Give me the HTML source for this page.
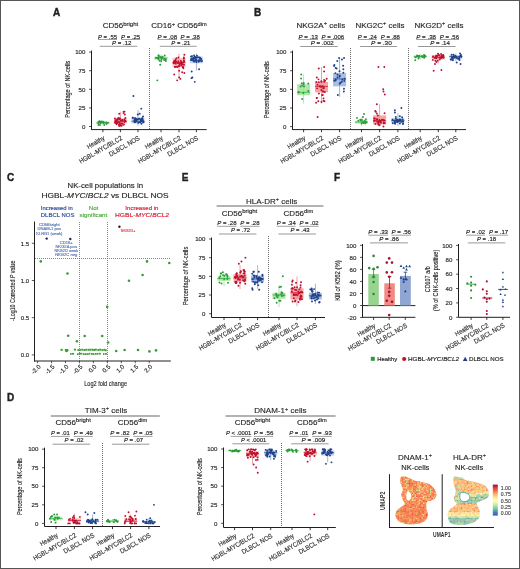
<!DOCTYPE html><html><head><meta charset="utf-8"><style>html,body{margin:0;padding:0;background:#fff;width:520px;height:569px;overflow:hidden;}svg{display:block;will-change:transform;}</style></head><body><svg width="520" height="569" viewBox="0 0 520 569" font-family='"Liberation Sans", sans-serif' fill="#231f20">
<rect x="0" y="0" width="520" height="569" fill="#ffffff"/>
<text x="53.10" y="15.60" font-size="10" font-weight="bold"  stroke="#231f20" stroke-width="0.4">A</text>
<text x="102.70" y="28.30" font-size="8" stroke="#231f20" stroke-width="0.14">CD56<tspan font-size="5.6" dy="-2.75" textLength="15.0" lengthAdjust="spacingAndGlyphs">bright</tspan></text>
<text x="151.20" y="28.30" font-size="8" stroke="#231f20" stroke-width="0.14"><tspan>CD16</tspan><tspan font-size="5.6" dy="-2.75">+</tspan><tspan font-size="8" dy="2.75"> CD56</tspan><tspan font-size="5.6" dy="-2.75" textLength="9.2" lengthAdjust="spacingAndGlyphs">dim</tspan></text>
<text x="98.00" y="38.50" font-size="6.0" textLength="19.00" lengthAdjust="spacingAndGlyphs" stroke="#231f20" stroke-width="0.16"><tspan font-style="italic">P</tspan> = .55</text>
<line x1="98.00" y1="39.50" x2="117.00" y2="39.50" stroke="#444" stroke-width="0.5"/>
<text x="121.10" y="38.50" font-size="6.0" textLength="19.10" lengthAdjust="spacingAndGlyphs" stroke="#231f20" stroke-width="0.16"><tspan font-style="italic">P</tspan> = .25</text>
<line x1="121.10" y1="39.50" x2="140.20" y2="39.50" stroke="#444" stroke-width="0.5"/>
<text x="111.90" y="44.80" font-size="6.0" textLength="19.60" lengthAdjust="spacingAndGlyphs" stroke="#231f20" stroke-width="0.16"><tspan font-style="italic">P</tspan> = .12</text>
<line x1="99.80" y1="46.30" x2="137.30" y2="46.30" stroke="#777" stroke-width="0.75"/>
<text x="157.50" y="38.50" font-size="6.0" textLength="19.60" lengthAdjust="spacingAndGlyphs" stroke="#231f20" stroke-width="0.16"><tspan font-style="italic">P</tspan> = .08</text>
<line x1="157.50" y1="39.50" x2="177.10" y2="39.50" stroke="#444" stroke-width="0.5"/>
<text x="180.60" y="38.50" font-size="6.0" textLength="19.20" lengthAdjust="spacingAndGlyphs" stroke="#231f20" stroke-width="0.16"><tspan font-style="italic">P</tspan> = .38</text>
<line x1="180.60" y1="39.50" x2="199.80" y2="39.50" stroke="#444" stroke-width="0.5"/>
<text x="171.30" y="44.80" font-size="6.0" textLength="19.10" lengthAdjust="spacingAndGlyphs" stroke="#231f20" stroke-width="0.16"><tspan font-style="italic">P</tspan> = .21</text>
<line x1="159.80" y1="46.30" x2="196.70" y2="46.30" stroke="#777" stroke-width="0.75"/>
<line x1="91.50" y1="50.60" x2="91.50" y2="130.00" stroke="#231f20" stroke-width="1.0"/>
<line x1="89.10" y1="52.10" x2="91.50" y2="52.10" stroke="#231f20" stroke-width="0.8"/>
<text x="85.30" y="54.30" font-size="6.1" text-anchor="end" fill="#2a2a2a"  stroke="#2a2a2a" stroke-width="0.16">100</text>
<line x1="89.10" y1="70.70" x2="91.50" y2="70.70" stroke="#231f20" stroke-width="0.8"/>
<text x="85.30" y="72.90" font-size="6.1" text-anchor="end" fill="#2a2a2a"  stroke="#2a2a2a" stroke-width="0.16">75</text>
<line x1="89.10" y1="89.30" x2="91.50" y2="89.30" stroke="#231f20" stroke-width="0.8"/>
<text x="85.30" y="91.50" font-size="6.1" text-anchor="end" fill="#2a2a2a"  stroke="#2a2a2a" stroke-width="0.16">50</text>
<line x1="89.10" y1="107.90" x2="91.50" y2="107.90" stroke="#231f20" stroke-width="0.8"/>
<text x="85.30" y="110.10" font-size="6.1" text-anchor="end" fill="#2a2a2a"  stroke="#2a2a2a" stroke-width="0.16">25</text>
<line x1="89.10" y1="126.50" x2="91.50" y2="126.50" stroke="#231f20" stroke-width="0.8"/>
<text x="85.30" y="128.70" font-size="6.1" text-anchor="end" fill="#2a2a2a"  stroke="#2a2a2a" stroke-width="0.16">0</text>
<text x="0" y="0" font-size="6.8" text-anchor="middle" textLength="57.00" lengthAdjust="spacingAndGlyphs" transform="translate(69.60,89.30) rotate(-90)"  stroke="#231f20" stroke-width="0.14">Percentage of NK-cells</text>
<line x1="91.50" y1="129.60" x2="206.70" y2="129.60" stroke="#231f20" stroke-width="1.0"/>
<line x1="102.90" y1="129.60" x2="102.90" y2="132.20" stroke="#231f20" stroke-width="0.9"/>
<line x1="120.40" y1="129.60" x2="120.40" y2="132.20" stroke="#231f20" stroke-width="0.9"/>
<line x1="138.00" y1="129.60" x2="138.00" y2="132.20" stroke="#231f20" stroke-width="0.9"/>
<line x1="161.00" y1="129.60" x2="161.00" y2="132.20" stroke="#231f20" stroke-width="0.9"/>
<line x1="179.00" y1="129.60" x2="179.00" y2="132.20" stroke="#231f20" stroke-width="0.9"/>
<line x1="196.40" y1="129.60" x2="196.40" y2="132.20" stroke="#231f20" stroke-width="0.9"/>
<line x1="149.50" y1="48.00" x2="149.50" y2="130.00" stroke="#444" stroke-width="0.8" stroke-dasharray="1,1"/>
<text x="0" y="0" font-size="6.7" text-anchor="end" fill="#2a2a2a" textLength="19.50" lengthAdjust="spacingAndGlyphs" transform="translate(105.30,139.40) rotate(-30)" stroke="#2a2a2a" stroke-width="0.14">Healthy</text>
<text x="0" y="0" font-size="6.7" text-anchor="end" fill="#2a2a2a" textLength="48.50" lengthAdjust="spacingAndGlyphs" transform="translate(122.80,139.40) rotate(-30)" stroke="#2a2a2a" stroke-width="0.14">HGBL-MYC/BLC2</text>
<text x="0" y="0" font-size="6.7" text-anchor="end" fill="#2a2a2a" textLength="34.50" lengthAdjust="spacingAndGlyphs" transform="translate(140.40,139.40) rotate(-30)" stroke="#2a2a2a" stroke-width="0.14">DLBCL NOS</text>
<text x="0" y="0" font-size="6.7" text-anchor="end" fill="#2a2a2a" textLength="19.50" lengthAdjust="spacingAndGlyphs" transform="translate(163.40,139.40) rotate(-30)" stroke="#2a2a2a" stroke-width="0.14">Healthy</text>
<text x="0" y="0" font-size="6.7" text-anchor="end" fill="#2a2a2a" textLength="48.50" lengthAdjust="spacingAndGlyphs" transform="translate(181.40,139.40) rotate(-30)" stroke="#2a2a2a" stroke-width="0.14">HGBL-MYC/BLC2</text>
<text x="0" y="0" font-size="6.7" text-anchor="end" fill="#2a2a2a" textLength="34.50" lengthAdjust="spacingAndGlyphs" transform="translate(198.80,139.40) rotate(-30)" stroke="#2a2a2a" stroke-width="0.14">DLBCL NOS</text>
<line x1="102.90" y1="119.80" x2="102.90" y2="125.01" stroke="#3cc04c" stroke-width="0.55" stroke-opacity="0.8"/>
<rect x="96.40" y="121.29" width="13.00" height="2.60" fill="#98dc8e" fill-opacity="0.5"/>
<line x1="96.40" y1="122.78" x2="109.40" y2="122.78" stroke="#3cc04c" stroke-width="0.9"/>
<circle cx="103.67" cy="123.12" r="0.98" fill="#2c9a3c"/>
<circle cx="101.87" cy="122.10" r="0.98" fill="#2c9a3c"/>
<circle cx="107.66" cy="123.08" r="0.98" fill="#2c9a3c"/>
<circle cx="98.37" cy="123.20" r="0.98" fill="#2c9a3c"/>
<circle cx="106.48" cy="124.03" r="0.98" fill="#2c9a3c"/>
<circle cx="100.80" cy="123.07" r="0.98" fill="#2c9a3c"/>
<circle cx="99.34" cy="121.29" r="0.98" fill="#2c9a3c"/>
<circle cx="99.08" cy="122.21" r="0.98" fill="#2c9a3c"/>
<circle cx="100.98" cy="121.39" r="0.98" fill="#2c9a3c"/>
<circle cx="106.06" cy="122.45" r="0.98" fill="#2c9a3c"/>
<circle cx="99.71" cy="122.25" r="0.98" fill="#2c9a3c"/>
<circle cx="103.72" cy="122.53" r="0.98" fill="#2c9a3c"/>
<circle cx="104.29" cy="125.01" r="0.98" fill="#2c9a3c"/>
<circle cx="101.62" cy="121.63" r="0.98" fill="#2c9a3c"/>
<circle cx="103.38" cy="122.10" r="0.98" fill="#2c9a3c"/>
<circle cx="98.53" cy="122.11" r="0.98" fill="#2c9a3c"/>
<circle cx="98.50" cy="125.01" r="0.98" fill="#2c9a3c"/>
<circle cx="99.96" cy="125.01" r="0.98" fill="#2c9a3c"/>
<line x1="120.40" y1="111.62" x2="120.40" y2="125.76" stroke="#d7263d" stroke-width="0.55" stroke-opacity="0.8"/>
<rect x="113.90" y="118.32" width="13.00" height="5.21" fill="#f58583" fill-opacity="0.5"/>
<line x1="113.90" y1="121.29" x2="126.90" y2="121.29" stroke="#d7263d" stroke-width="0.9"/>
<circle cx="119.14" cy="122.29" r="0.98" fill="#bd1230"/>
<circle cx="122.26" cy="123.43" r="0.98" fill="#bd1230"/>
<circle cx="115.15" cy="122.45" r="0.98" fill="#bd1230"/>
<circle cx="119.98" cy="118.57" r="0.98" fill="#bd1230"/>
<circle cx="116.75" cy="123.10" r="0.98" fill="#bd1230"/>
<circle cx="116.19" cy="120.75" r="0.98" fill="#bd1230"/>
<circle cx="115.55" cy="120.34" r="0.98" fill="#bd1230"/>
<circle cx="123.35" cy="124.62" r="0.98" fill="#bd1230"/>
<circle cx="116.32" cy="121.18" r="0.98" fill="#bd1230"/>
<circle cx="117.62" cy="118.38" r="0.98" fill="#bd1230"/>
<circle cx="119.20" cy="125.76" r="0.98" fill="#bd1230"/>
<circle cx="124.49" cy="122.01" r="0.98" fill="#bd1230"/>
<circle cx="115.79" cy="121.53" r="0.98" fill="#bd1230"/>
<circle cx="119.84" cy="123.12" r="0.98" fill="#bd1230"/>
<circle cx="120.94" cy="120.18" r="0.98" fill="#bd1230"/>
<circle cx="124.62" cy="121.43" r="0.98" fill="#bd1230"/>
<circle cx="123.91" cy="124.56" r="0.98" fill="#bd1230"/>
<circle cx="124.40" cy="119.44" r="0.98" fill="#bd1230"/>
<circle cx="117.96" cy="119.80" r="0.98" fill="#bd1230"/>
<circle cx="119.47" cy="119.18" r="0.98" fill="#bd1230"/>
<circle cx="118.85" cy="118.08" r="0.98" fill="#bd1230"/>
<circle cx="124.63" cy="120.48" r="0.98" fill="#bd1230"/>
<circle cx="125.44" cy="121.03" r="0.98" fill="#bd1230"/>
<circle cx="116.56" cy="124.19" r="0.98" fill="#bd1230"/>
<circle cx="116.84" cy="119.92" r="0.98" fill="#bd1230"/>
<circle cx="117.45" cy="122.66" r="0.98" fill="#bd1230"/>
<circle cx="117.47" cy="122.30" r="0.98" fill="#bd1230"/>
<circle cx="120.23" cy="124.12" r="0.98" fill="#bd1230"/>
<circle cx="121.38" cy="123.45" r="0.98" fill="#bd1230"/>
<circle cx="117.79" cy="122.48" r="0.98" fill="#bd1230"/>
<circle cx="114.95" cy="118.42" r="0.98" fill="#bd1230"/>
<circle cx="119.51" cy="125.76" r="0.98" fill="#bd1230"/>
<circle cx="118.96" cy="124.55" r="0.98" fill="#bd1230"/>
<circle cx="121.13" cy="120.76" r="0.98" fill="#bd1230"/>
<circle cx="125.38" cy="118.07" r="0.98" fill="#bd1230"/>
<circle cx="122.50" cy="120.00" r="0.98" fill="#bd1230"/>
<circle cx="120.57" cy="125.53" r="0.98" fill="#bd1230"/>
<circle cx="121.69" cy="125.76" r="0.98" fill="#bd1230"/>
<circle cx="122.34" cy="120.49" r="0.98" fill="#bd1230"/>
<circle cx="115.49" cy="122.94" r="0.98" fill="#bd1230"/>
<circle cx="124.79" cy="114.60" r="0.98" fill="#bd1230"/>
<circle cx="123.48" cy="113.11" r="0.98" fill="#bd1230"/>
<circle cx="124.52" cy="111.62" r="0.98" fill="#bd1230"/>
<circle cx="123.68" cy="111.62" r="0.98" fill="#bd1230"/>
<circle cx="119.22" cy="113.85" r="0.98" fill="#bd1230"/>
<line x1="138.00" y1="110.13" x2="138.00" y2="125.76" stroke="#2b5aa6" stroke-width="0.55" stroke-opacity="0.8"/>
<rect x="131.50" y="117.57" width="13.00" height="5.95" fill="#8ea8dc" fill-opacity="0.5"/>
<line x1="131.50" y1="121.29" x2="144.50" y2="121.29" stroke="#2b5aa6" stroke-width="0.9"/>
<circle cx="143.26" cy="122.27" r="0.98" fill="#1f4289"/>
<circle cx="142.00" cy="120.57" r="0.98" fill="#1f4289"/>
<circle cx="140.16" cy="121.91" r="0.98" fill="#1f4289"/>
<circle cx="135.37" cy="121.99" r="0.98" fill="#1f4289"/>
<circle cx="136.53" cy="119.67" r="0.98" fill="#1f4289"/>
<circle cx="134.34" cy="120.56" r="0.98" fill="#1f4289"/>
<circle cx="140.99" cy="120.05" r="0.98" fill="#1f4289"/>
<circle cx="138.36" cy="119.27" r="0.98" fill="#1f4289"/>
<circle cx="141.07" cy="121.24" r="0.98" fill="#1f4289"/>
<circle cx="136.13" cy="121.27" r="0.98" fill="#1f4289"/>
<circle cx="134.95" cy="120.59" r="0.98" fill="#1f4289"/>
<circle cx="141.43" cy="120.31" r="0.98" fill="#1f4289"/>
<circle cx="143.33" cy="121.68" r="0.98" fill="#1f4289"/>
<circle cx="141.88" cy="120.84" r="0.98" fill="#1f4289"/>
<circle cx="141.37" cy="118.76" r="0.98" fill="#1f4289"/>
<circle cx="141.50" cy="123.84" r="0.98" fill="#1f4289"/>
<circle cx="140.64" cy="120.11" r="0.98" fill="#1f4289"/>
<circle cx="134.99" cy="119.70" r="0.98" fill="#1f4289"/>
<circle cx="138.19" cy="122.72" r="0.98" fill="#1f4289"/>
<circle cx="136.41" cy="119.26" r="0.98" fill="#1f4289"/>
<circle cx="132.82" cy="117.66" r="0.98" fill="#1f4289"/>
<circle cx="132.81" cy="117.76" r="0.98" fill="#1f4289"/>
<circle cx="135.57" cy="118.38" r="0.98" fill="#1f4289"/>
<circle cx="135.35" cy="121.42" r="0.98" fill="#1f4289"/>
<circle cx="140.12" cy="122.39" r="0.98" fill="#1f4289"/>
<circle cx="143.02" cy="121.18" r="0.98" fill="#1f4289"/>
<circle cx="137.42" cy="119.38" r="0.98" fill="#1f4289"/>
<circle cx="142.81" cy="119.86" r="0.98" fill="#1f4289"/>
<circle cx="143.37" cy="121.75" r="0.98" fill="#1f4289"/>
<circle cx="143.01" cy="116.42" r="0.98" fill="#1f4289"/>
<circle cx="136.51" cy="120.99" r="0.98" fill="#1f4289"/>
<circle cx="134.93" cy="120.81" r="0.98" fill="#1f4289"/>
<circle cx="135.00" cy="118.25" r="0.98" fill="#1f4289"/>
<circle cx="134.66" cy="122.26" r="0.98" fill="#1f4289"/>
<circle cx="134.75" cy="119.32" r="0.98" fill="#1f4289"/>
<circle cx="139.36" cy="118.70" r="0.98" fill="#1f4289"/>
<circle cx="142.40" cy="118.15" r="0.98" fill="#1f4289"/>
<circle cx="141.74" cy="120.75" r="0.98" fill="#1f4289"/>
<circle cx="137.77" cy="114.60" r="0.98" fill="#1f4289"/>
<circle cx="139.68" cy="113.85" r="0.98" fill="#1f4289"/>
<circle cx="141.30" cy="108.64" r="0.98" fill="#1f4289"/>
<circle cx="133.43" cy="96.00" r="0.98" fill="#1f4289"/>
<line x1="161.00" y1="54.33" x2="161.00" y2="63.26" stroke="#3cc04c" stroke-width="0.55" stroke-opacity="0.8"/>
<rect x="154.50" y="56.56" width="13.00" height="3.72" fill="#98dc8e" fill-opacity="0.5"/>
<line x1="154.50" y1="58.05" x2="167.50" y2="58.05" stroke="#3cc04c" stroke-width="0.9"/>
<circle cx="164.27" cy="59.96" r="0.98" fill="#2c9a3c"/>
<circle cx="165.80" cy="61.03" r="0.98" fill="#2c9a3c"/>
<circle cx="162.57" cy="57.50" r="0.98" fill="#2c9a3c"/>
<circle cx="159.50" cy="60.72" r="0.98" fill="#2c9a3c"/>
<circle cx="161.49" cy="59.07" r="0.98" fill="#2c9a3c"/>
<circle cx="157.31" cy="57.91" r="0.98" fill="#2c9a3c"/>
<circle cx="156.14" cy="57.69" r="0.98" fill="#2c9a3c"/>
<circle cx="165.71" cy="59.48" r="0.98" fill="#2c9a3c"/>
<circle cx="162.50" cy="56.68" r="0.98" fill="#2c9a3c"/>
<circle cx="161.27" cy="61.03" r="0.98" fill="#2c9a3c"/>
<circle cx="165.34" cy="59.37" r="0.98" fill="#2c9a3c"/>
<circle cx="160.34" cy="57.04" r="0.98" fill="#2c9a3c"/>
<circle cx="164.72" cy="55.57" r="0.98" fill="#2c9a3c"/>
<circle cx="164.26" cy="58.91" r="0.98" fill="#2c9a3c"/>
<circle cx="158.11" cy="57.64" r="0.98" fill="#2c9a3c"/>
<circle cx="158.52" cy="57.30" r="0.98" fill="#2c9a3c"/>
<circle cx="158.93" cy="55.99" r="0.98" fill="#2c9a3c"/>
<circle cx="158.41" cy="55.16" r="0.98" fill="#2c9a3c"/>
<circle cx="161.86" cy="57.73" r="0.98" fill="#2c9a3c"/>
<circle cx="158.59" cy="58.91" r="0.98" fill="#2c9a3c"/>
<circle cx="160.19" cy="64.75" r="0.98" fill="#2c9a3c"/>
<circle cx="157.31" cy="80.37" r="0.98" fill="#2c9a3c"/>
<line x1="179.00" y1="53.59" x2="179.00" y2="77.40" stroke="#d7263d" stroke-width="0.55" stroke-opacity="0.8"/>
<rect x="172.50" y="58.05" width="13.00" height="8.93" fill="#f58583" fill-opacity="0.5"/>
<line x1="172.50" y1="62.52" x2="185.50" y2="62.52" stroke="#d7263d" stroke-width="0.9"/>
<circle cx="183.86" cy="58.54" r="0.98" fill="#bd1230"/>
<circle cx="181.19" cy="63.82" r="0.98" fill="#bd1230"/>
<circle cx="183.14" cy="67.00" r="0.98" fill="#bd1230"/>
<circle cx="183.86" cy="60.36" r="0.98" fill="#bd1230"/>
<circle cx="176.36" cy="58.25" r="0.98" fill="#bd1230"/>
<circle cx="179.65" cy="64.19" r="0.98" fill="#bd1230"/>
<circle cx="183.88" cy="57.57" r="0.98" fill="#bd1230"/>
<circle cx="182.74" cy="64.16" r="0.98" fill="#bd1230"/>
<circle cx="175.01" cy="66.66" r="0.98" fill="#bd1230"/>
<circle cx="174.84" cy="62.76" r="0.98" fill="#bd1230"/>
<circle cx="178.36" cy="57.40" r="0.98" fill="#bd1230"/>
<circle cx="174.30" cy="61.26" r="0.98" fill="#bd1230"/>
<circle cx="176.15" cy="61.62" r="0.98" fill="#bd1230"/>
<circle cx="174.30" cy="61.44" r="0.98" fill="#bd1230"/>
<circle cx="180.86" cy="61.01" r="0.98" fill="#bd1230"/>
<circle cx="182.12" cy="64.17" r="0.98" fill="#bd1230"/>
<circle cx="183.37" cy="68.26" r="0.98" fill="#bd1230"/>
<circle cx="175.20" cy="60.68" r="0.98" fill="#bd1230"/>
<circle cx="181.38" cy="65.18" r="0.98" fill="#bd1230"/>
<circle cx="180.76" cy="63.03" r="0.98" fill="#bd1230"/>
<circle cx="175.07" cy="66.95" r="0.98" fill="#bd1230"/>
<circle cx="183.21" cy="62.37" r="0.98" fill="#bd1230"/>
<circle cx="184.14" cy="61.36" r="0.98" fill="#bd1230"/>
<circle cx="175.92" cy="63.67" r="0.98" fill="#bd1230"/>
<circle cx="183.98" cy="64.65" r="0.98" fill="#bd1230"/>
<circle cx="177.88" cy="62.92" r="0.98" fill="#bd1230"/>
<circle cx="178.86" cy="62.96" r="0.98" fill="#bd1230"/>
<circle cx="184.39" cy="54.83" r="0.98" fill="#bd1230"/>
<circle cx="182.66" cy="67.02" r="0.98" fill="#bd1230"/>
<circle cx="175.28" cy="62.03" r="0.98" fill="#bd1230"/>
<circle cx="178.25" cy="61.21" r="0.98" fill="#bd1230"/>
<circle cx="179.17" cy="70.70" r="0.98" fill="#bd1230"/>
<circle cx="177.23" cy="67.05" r="0.98" fill="#bd1230"/>
<circle cx="175.65" cy="59.81" r="0.98" fill="#bd1230"/>
<circle cx="177.00" cy="66.67" r="0.98" fill="#bd1230"/>
<circle cx="181.44" cy="61.94" r="0.98" fill="#bd1230"/>
<circle cx="173.71" cy="63.35" r="0.98" fill="#bd1230"/>
<circle cx="179.59" cy="65.97" r="0.98" fill="#bd1230"/>
<circle cx="178.35" cy="66.34" r="0.98" fill="#bd1230"/>
<circle cx="173.70" cy="62.74" r="0.98" fill="#bd1230"/>
<circle cx="177.15" cy="80.37" r="0.98" fill="#bd1230"/>
<circle cx="180.36" cy="78.88" r="0.98" fill="#bd1230"/>
<circle cx="179.13" cy="77.40" r="0.98" fill="#bd1230"/>
<circle cx="174.21" cy="74.42" r="0.98" fill="#bd1230"/>
<circle cx="184.34" cy="72.93" r="0.98" fill="#bd1230"/>
<circle cx="182.17" cy="72.19" r="0.98" fill="#bd1230"/>
<line x1="196.40" y1="53.59" x2="196.40" y2="70.70" stroke="#2b5aa6" stroke-width="0.55" stroke-opacity="0.8"/>
<rect x="189.90" y="56.56" width="13.00" height="6.70" fill="#8ea8dc" fill-opacity="0.5"/>
<line x1="189.90" y1="60.28" x2="202.90" y2="60.28" stroke="#2b5aa6" stroke-width="0.9"/>
<circle cx="193.52" cy="58.33" r="0.98" fill="#1f4289"/>
<circle cx="192.10" cy="59.76" r="0.98" fill="#1f4289"/>
<circle cx="192.68" cy="59.61" r="0.98" fill="#1f4289"/>
<circle cx="191.45" cy="58.80" r="0.98" fill="#1f4289"/>
<circle cx="193.12" cy="59.17" r="0.98" fill="#1f4289"/>
<circle cx="194.33" cy="61.57" r="0.98" fill="#1f4289"/>
<circle cx="194.26" cy="57.67" r="0.98" fill="#1f4289"/>
<circle cx="199.25" cy="57.56" r="0.98" fill="#1f4289"/>
<circle cx="194.09" cy="55.45" r="0.98" fill="#1f4289"/>
<circle cx="196.40" cy="62.08" r="0.98" fill="#1f4289"/>
<circle cx="192.86" cy="59.62" r="0.98" fill="#1f4289"/>
<circle cx="194.72" cy="58.06" r="0.98" fill="#1f4289"/>
<circle cx="191.10" cy="56.58" r="0.98" fill="#1f4289"/>
<circle cx="193.65" cy="61.19" r="0.98" fill="#1f4289"/>
<circle cx="191.07" cy="59.89" r="0.98" fill="#1f4289"/>
<circle cx="198.96" cy="60.61" r="0.98" fill="#1f4289"/>
<circle cx="196.96" cy="55.82" r="0.98" fill="#1f4289"/>
<circle cx="192.98" cy="58.13" r="0.98" fill="#1f4289"/>
<circle cx="196.12" cy="60.44" r="0.98" fill="#1f4289"/>
<circle cx="201.18" cy="59.08" r="0.98" fill="#1f4289"/>
<circle cx="192.07" cy="56.12" r="0.98" fill="#1f4289"/>
<circle cx="199.91" cy="60.94" r="0.98" fill="#1f4289"/>
<circle cx="195.65" cy="59.19" r="0.98" fill="#1f4289"/>
<circle cx="196.35" cy="60.57" r="0.98" fill="#1f4289"/>
<circle cx="200.08" cy="58.94" r="0.98" fill="#1f4289"/>
<circle cx="195.22" cy="60.30" r="0.98" fill="#1f4289"/>
<circle cx="196.47" cy="57.68" r="0.98" fill="#1f4289"/>
<circle cx="198.47" cy="61.71" r="0.98" fill="#1f4289"/>
<circle cx="201.71" cy="61.30" r="0.98" fill="#1f4289"/>
<circle cx="194.67" cy="56.74" r="0.98" fill="#1f4289"/>
<circle cx="200.06" cy="57.70" r="0.98" fill="#1f4289"/>
<circle cx="198.67" cy="60.45" r="0.98" fill="#1f4289"/>
<circle cx="197.90" cy="57.35" r="0.98" fill="#1f4289"/>
<circle cx="195.35" cy="57.23" r="0.98" fill="#1f4289"/>
<circle cx="194.72" cy="81.86" r="0.98" fill="#1f4289"/>
<circle cx="191.50" cy="78.14" r="0.98" fill="#1f4289"/>
<circle cx="192.33" cy="77.40" r="0.98" fill="#1f4289"/>
<circle cx="191.68" cy="71.44" r="0.98" fill="#1f4289"/>
<circle cx="199.05" cy="69.21" r="0.98" fill="#1f4289"/>
<text x="253.90" y="15.70" font-size="10" font-weight="bold"  stroke="#231f20" stroke-width="0.4">B</text>
<text x="296.50" y="28.10" font-size="8" stroke="#231f20" stroke-width="0.14"><tspan>NKG2A</tspan><tspan font-size="5.6" dy="-2.75">+</tspan><tspan font-size="8" dy="2.75"> cells</tspan></text>
<text x="355.50" y="28.10" font-size="8" stroke="#231f20" stroke-width="0.14"><tspan>NKG2C</tspan><tspan font-size="5.6" dy="-2.75">+</tspan><tspan font-size="8" dy="2.75"> cells</tspan></text>
<text x="414.40" y="28.10" font-size="8" stroke="#231f20" stroke-width="0.14"><tspan>NKG2D</tspan><tspan font-size="5.6" dy="-2.75">+</tspan><tspan font-size="8" dy="2.75"> cells</tspan></text>
<text x="298.40" y="38.50" font-size="6.0" textLength="19.60" lengthAdjust="spacingAndGlyphs" stroke="#231f20" stroke-width="0.16"><tspan font-style="italic">P</tspan> = .13</text>
<line x1="298.40" y1="39.50" x2="318.00" y2="39.50" stroke="#444" stroke-width="0.5"/>
<text x="321.50" y="38.50" font-size="6.0" textLength="22.70" lengthAdjust="spacingAndGlyphs" stroke="#231f20" stroke-width="0.16"><tspan font-style="italic">P</tspan> = .006</text>
<line x1="321.50" y1="39.50" x2="344.20" y2="39.50" stroke="#444" stroke-width="0.5"/>
<text x="310.70" y="44.80" font-size="6.0" textLength="23.10" lengthAdjust="spacingAndGlyphs" stroke="#231f20" stroke-width="0.16"><tspan font-style="italic">P</tspan> = .002</text>
<line x1="300.30" y1="46.50" x2="337.80" y2="46.50" stroke="#777" stroke-width="0.75"/>
<text x="357.80" y="38.50" font-size="6.0" textLength="19.00" lengthAdjust="spacingAndGlyphs" stroke="#231f20" stroke-width="0.16"><tspan font-style="italic">P</tspan> = .24</text>
<line x1="357.80" y1="39.50" x2="376.80" y2="39.50" stroke="#444" stroke-width="0.5"/>
<text x="380.80" y="38.50" font-size="6.0" textLength="19.10" lengthAdjust="spacingAndGlyphs" stroke="#231f20" stroke-width="0.16"><tspan font-style="italic">P</tspan> = .88</text>
<line x1="380.80" y1="39.50" x2="399.90" y2="39.50" stroke="#444" stroke-width="0.5"/>
<text x="371.00" y="44.80" font-size="6.0" textLength="20.80" lengthAdjust="spacingAndGlyphs" stroke="#231f20" stroke-width="0.16"><tspan font-style="italic">P</tspan> = .30</text>
<line x1="360.00" y1="46.50" x2="397.00" y2="46.50" stroke="#777" stroke-width="0.75"/>
<text x="416.30" y="38.50" font-size="6.0" textLength="19.70" lengthAdjust="spacingAndGlyphs" stroke="#231f20" stroke-width="0.16"><tspan font-style="italic">P</tspan> = .38</text>
<line x1="416.30" y1="39.50" x2="436.00" y2="39.50" stroke="#444" stroke-width="0.5"/>
<text x="439.80" y="38.50" font-size="6.0" textLength="19.20" lengthAdjust="spacingAndGlyphs" stroke="#231f20" stroke-width="0.16"><tspan font-style="italic">P</tspan> = .56</text>
<line x1="439.80" y1="39.50" x2="459.00" y2="39.50" stroke="#444" stroke-width="0.5"/>
<text x="430.20" y="44.80" font-size="6.0" textLength="19.60" lengthAdjust="spacingAndGlyphs" stroke="#231f20" stroke-width="0.16"><tspan font-style="italic">P</tspan> = .14</text>
<line x1="418.00" y1="46.50" x2="455.60" y2="46.50" stroke="#777" stroke-width="0.75"/>
<line x1="292.50" y1="50.60" x2="292.50" y2="130.00" stroke="#231f20" stroke-width="1.0"/>
<line x1="290.10" y1="52.10" x2="292.50" y2="52.10" stroke="#231f20" stroke-width="0.8"/>
<text x="286.30" y="54.30" font-size="6.1" text-anchor="end" fill="#2a2a2a"  stroke="#2a2a2a" stroke-width="0.16">100</text>
<line x1="290.10" y1="70.72" x2="292.50" y2="70.72" stroke="#231f20" stroke-width="0.8"/>
<text x="286.30" y="72.92" font-size="6.1" text-anchor="end" fill="#2a2a2a"  stroke="#2a2a2a" stroke-width="0.16">75</text>
<line x1="290.10" y1="89.35" x2="292.50" y2="89.35" stroke="#231f20" stroke-width="0.8"/>
<text x="286.30" y="91.55" font-size="6.1" text-anchor="end" fill="#2a2a2a"  stroke="#2a2a2a" stroke-width="0.16">50</text>
<line x1="290.10" y1="107.97" x2="292.50" y2="107.97" stroke="#231f20" stroke-width="0.8"/>
<text x="286.30" y="110.17" font-size="6.1" text-anchor="end" fill="#2a2a2a"  stroke="#2a2a2a" stroke-width="0.16">25</text>
<line x1="290.10" y1="126.60" x2="292.50" y2="126.60" stroke="#231f20" stroke-width="0.8"/>
<text x="286.30" y="128.80" font-size="6.1" text-anchor="end" fill="#2a2a2a"  stroke="#2a2a2a" stroke-width="0.16">0</text>
<text x="0" y="0" font-size="6.8" text-anchor="middle" textLength="57.00" lengthAdjust="spacingAndGlyphs" transform="translate(269.40,89.70) rotate(-90)"  stroke="#231f20" stroke-width="0.14">Percentage of NK-cells</text>
<line x1="292.50" y1="129.60" x2="466.00" y2="129.60" stroke="#231f20" stroke-width="1.0"/>
<line x1="303.60" y1="129.60" x2="303.60" y2="132.20" stroke="#231f20" stroke-width="0.9"/>
<line x1="321.50" y1="129.60" x2="321.50" y2="132.20" stroke="#231f20" stroke-width="0.9"/>
<line x1="339.60" y1="129.60" x2="339.60" y2="132.20" stroke="#231f20" stroke-width="0.9"/>
<line x1="361.50" y1="129.60" x2="361.50" y2="132.20" stroke="#231f20" stroke-width="0.9"/>
<line x1="379.60" y1="129.60" x2="379.60" y2="132.20" stroke="#231f20" stroke-width="0.9"/>
<line x1="397.90" y1="129.60" x2="397.90" y2="132.20" stroke="#231f20" stroke-width="0.9"/>
<line x1="420.20" y1="129.60" x2="420.20" y2="132.20" stroke="#231f20" stroke-width="0.9"/>
<line x1="438.30" y1="129.60" x2="438.30" y2="132.20" stroke="#231f20" stroke-width="0.9"/>
<line x1="455.80" y1="129.60" x2="455.80" y2="132.20" stroke="#231f20" stroke-width="0.9"/>
<line x1="350.50" y1="48.00" x2="350.50" y2="130.00" stroke="#444" stroke-width="0.8" stroke-dasharray="1,1"/>
<line x1="408.50" y1="48.00" x2="408.50" y2="130.00" stroke="#444" stroke-width="0.8" stroke-dasharray="1,1"/>
<text x="0" y="0" font-size="6.7" text-anchor="end" fill="#2a2a2a" textLength="19.50" lengthAdjust="spacingAndGlyphs" transform="translate(306.00,139.40) rotate(-30)" stroke="#2a2a2a" stroke-width="0.14">Healthy</text>
<text x="0" y="0" font-size="6.7" text-anchor="end" fill="#2a2a2a" textLength="48.50" lengthAdjust="spacingAndGlyphs" transform="translate(323.90,139.40) rotate(-30)" stroke="#2a2a2a" stroke-width="0.14">HGBL-MYC/BLC2</text>
<text x="0" y="0" font-size="6.7" text-anchor="end" fill="#2a2a2a" textLength="34.50" lengthAdjust="spacingAndGlyphs" transform="translate(342.00,139.40) rotate(-30)" stroke="#2a2a2a" stroke-width="0.14">DLBCL NOS</text>
<text x="0" y="0" font-size="6.7" text-anchor="end" fill="#2a2a2a" textLength="19.50" lengthAdjust="spacingAndGlyphs" transform="translate(363.90,139.40) rotate(-30)" stroke="#2a2a2a" stroke-width="0.14">Healthy</text>
<text x="0" y="0" font-size="6.7" text-anchor="end" fill="#2a2a2a" textLength="48.50" lengthAdjust="spacingAndGlyphs" transform="translate(382.00,139.40) rotate(-30)" stroke="#2a2a2a" stroke-width="0.14">HGBL-MYC/BLC2</text>
<text x="0" y="0" font-size="6.7" text-anchor="end" fill="#2a2a2a" textLength="34.50" lengthAdjust="spacingAndGlyphs" transform="translate(400.30,139.40) rotate(-30)" stroke="#2a2a2a" stroke-width="0.14">DLBCL NOS</text>
<text x="0" y="0" font-size="6.7" text-anchor="end" fill="#2a2a2a" textLength="19.50" lengthAdjust="spacingAndGlyphs" transform="translate(422.60,139.40) rotate(-30)" stroke="#2a2a2a" stroke-width="0.14">Healthy</text>
<text x="0" y="0" font-size="6.7" text-anchor="end" fill="#2a2a2a" textLength="48.50" lengthAdjust="spacingAndGlyphs" transform="translate(440.70,139.40) rotate(-30)" stroke="#2a2a2a" stroke-width="0.14">HGBL-MYC/BLC2</text>
<text x="0" y="0" font-size="6.7" text-anchor="end" fill="#2a2a2a" textLength="34.50" lengthAdjust="spacingAndGlyphs" transform="translate(458.20,139.40) rotate(-30)" stroke="#2a2a2a" stroke-width="0.14">DLBCL NOS</text>
<line x1="303.60" y1="74.45" x2="303.60" y2="103.50" stroke="#3cc04c" stroke-width="0.55" stroke-opacity="0.8"/>
<rect x="297.10" y="84.13" width="13.00" height="11.18" fill="#98dc8e" fill-opacity="0.75"/>
<line x1="297.10" y1="92.33" x2="310.10" y2="92.33" stroke="#3cc04c" stroke-width="0.9"/>
<circle cx="308.33" cy="91.00" r="0.98" fill="#2c9a3c"/>
<circle cx="304.07" cy="86.39" r="0.98" fill="#2c9a3c"/>
<circle cx="301.04" cy="78.51" r="0.98" fill="#2c9a3c"/>
<circle cx="308.26" cy="83.60" r="0.98" fill="#2c9a3c"/>
<circle cx="301.70" cy="83.21" r="0.98" fill="#2c9a3c"/>
<circle cx="302.17" cy="98.91" r="0.98" fill="#2c9a3c"/>
<circle cx="298.61" cy="91.95" r="0.98" fill="#2c9a3c"/>
<circle cx="302.42" cy="85.40" r="0.98" fill="#2c9a3c"/>
<circle cx="303.35" cy="93.05" r="0.98" fill="#2c9a3c"/>
<circle cx="303.63" cy="82.88" r="0.98" fill="#2c9a3c"/>
<circle cx="300.61" cy="86.40" r="0.98" fill="#2c9a3c"/>
<circle cx="303.65" cy="84.07" r="0.98" fill="#2c9a3c"/>
<circle cx="298.65" cy="92.42" r="0.98" fill="#2c9a3c"/>
<circle cx="301.24" cy="74.45" r="0.98" fill="#2c9a3c"/>
<line x1="321.50" y1="67.00" x2="321.50" y2="103.50" stroke="#d7263d" stroke-width="0.55" stroke-opacity="0.8"/>
<rect x="315.00" y="81.90" width="13.00" height="10.43" fill="#f58583" fill-opacity="0.75"/>
<line x1="315.00" y1="86.37" x2="328.00" y2="86.37" stroke="#d7263d" stroke-width="0.9"/>
<circle cx="318.53" cy="79.37" r="0.98" fill="#bd1230"/>
<circle cx="316.34" cy="81.95" r="0.98" fill="#bd1230"/>
<circle cx="317.46" cy="84.68" r="0.98" fill="#bd1230"/>
<circle cx="319.97" cy="85.92" r="0.98" fill="#bd1230"/>
<circle cx="317.15" cy="88.36" r="0.98" fill="#bd1230"/>
<circle cx="325.19" cy="80.75" r="0.98" fill="#bd1230"/>
<circle cx="322.14" cy="95.01" r="0.98" fill="#bd1230"/>
<circle cx="322.91" cy="91.52" r="0.98" fill="#bd1230"/>
<circle cx="322.89" cy="86.33" r="0.98" fill="#bd1230"/>
<circle cx="323.49" cy="98.37" r="0.98" fill="#bd1230"/>
<circle cx="321.38" cy="89.94" r="0.98" fill="#bd1230"/>
<circle cx="316.04" cy="102.83" r="0.98" fill="#bd1230"/>
<circle cx="324.77" cy="91.97" r="0.98" fill="#bd1230"/>
<circle cx="324.23" cy="81.71" r="0.98" fill="#bd1230"/>
<circle cx="321.53" cy="81.73" r="0.98" fill="#bd1230"/>
<circle cx="321.89" cy="86.82" r="0.98" fill="#bd1230"/>
<circle cx="323.25" cy="88.27" r="0.98" fill="#bd1230"/>
<circle cx="316.73" cy="97.98" r="0.98" fill="#bd1230"/>
<circle cx="324.10" cy="71.39" r="0.98" fill="#bd1230"/>
<circle cx="318.77" cy="82.14" r="0.98" fill="#bd1230"/>
<circle cx="316.82" cy="77.41" r="0.98" fill="#bd1230"/>
<circle cx="318.92" cy="93.60" r="0.98" fill="#bd1230"/>
<circle cx="324.02" cy="87.89" r="0.98" fill="#bd1230"/>
<circle cx="318.26" cy="101.28" r="0.98" fill="#bd1230"/>
<circle cx="324.14" cy="79.97" r="0.98" fill="#bd1230"/>
<circle cx="326.73" cy="78.71" r="0.98" fill="#bd1230"/>
<circle cx="321.43" cy="101.92" r="0.98" fill="#bd1230"/>
<circle cx="320.21" cy="86.80" r="0.98" fill="#bd1230"/>
<circle cx="321.27" cy="81.20" r="0.98" fill="#bd1230"/>
<circle cx="323.52" cy="100.81" r="0.98" fill="#bd1230"/>
<circle cx="324.44" cy="101.33" r="0.98" fill="#bd1230"/>
<circle cx="322.79" cy="95.10" r="0.98" fill="#bd1230"/>
<circle cx="323.07" cy="91.53" r="0.98" fill="#bd1230"/>
<circle cx="316.85" cy="97.87" r="0.98" fill="#bd1230"/>
<circle cx="317.62" cy="116.91" r="0.98" fill="#bd1230"/>
<circle cx="318.79" cy="68.49" r="0.98" fill="#bd1230"/>
<circle cx="324.18" cy="67.00" r="0.98" fill="#bd1230"/>
<line x1="339.60" y1="58.06" x2="339.60" y2="96.80" stroke="#2b5aa6" stroke-width="0.55" stroke-opacity="0.8"/>
<rect x="333.10" y="72.96" width="13.00" height="13.41" fill="#8ea8dc" fill-opacity="0.75"/>
<line x1="333.10" y1="78.92" x2="346.10" y2="78.92" stroke="#2b5aa6" stroke-width="0.9"/>
<circle cx="340.50" cy="82.80" r="0.98" fill="#1f4289"/>
<circle cx="335.66" cy="68.01" r="0.98" fill="#1f4289"/>
<circle cx="339.86" cy="75.77" r="0.98" fill="#1f4289"/>
<circle cx="344.58" cy="78.67" r="0.98" fill="#1f4289"/>
<circle cx="335.56" cy="80.49" r="0.98" fill="#1f4289"/>
<circle cx="343.12" cy="65.66" r="0.98" fill="#1f4289"/>
<circle cx="339.70" cy="83.69" r="0.98" fill="#1f4289"/>
<circle cx="343.86" cy="91.46" r="0.98" fill="#1f4289"/>
<circle cx="341.84" cy="81.66" r="0.98" fill="#1f4289"/>
<circle cx="336.65" cy="68.49" r="0.98" fill="#1f4289"/>
<circle cx="343.97" cy="88.69" r="0.98" fill="#1f4289"/>
<circle cx="339.45" cy="76.71" r="0.98" fill="#1f4289"/>
<circle cx="334.37" cy="65.00" r="0.98" fill="#1f4289"/>
<circle cx="334.14" cy="66.09" r="0.98" fill="#1f4289"/>
<circle cx="339.51" cy="71.17" r="0.98" fill="#1f4289"/>
<circle cx="339.06" cy="58.06" r="0.98" fill="#1f4289"/>
<circle cx="337.42" cy="77.37" r="0.98" fill="#1f4289"/>
<circle cx="335.65" cy="79.58" r="0.98" fill="#1f4289"/>
<circle cx="337.88" cy="94.93" r="0.98" fill="#1f4289"/>
<circle cx="337.58" cy="74.70" r="0.98" fill="#1f4289"/>
<circle cx="343.34" cy="69.35" r="0.98" fill="#1f4289"/>
<circle cx="334.12" cy="80.86" r="0.98" fill="#1f4289"/>
<circle cx="342.36" cy="79.64" r="0.98" fill="#1f4289"/>
<circle cx="343.33" cy="72.83" r="0.98" fill="#1f4289"/>
<circle cx="335.42" cy="73.13" r="0.98" fill="#1f4289"/>
<circle cx="344.29" cy="80.98" r="0.98" fill="#1f4289"/>
<circle cx="341.94" cy="59.55" r="0.98" fill="#1f4289"/>
<circle cx="344.02" cy="58.06" r="0.98" fill="#1f4289"/>
<circle cx="337.29" cy="61.04" r="0.98" fill="#1f4289"/>
<line x1="361.50" y1="117.66" x2="361.50" y2="125.85" stroke="#3cc04c" stroke-width="0.55" stroke-opacity="0.8"/>
<rect x="355.00" y="120.64" width="13.00" height="2.98" fill="#98dc8e" fill-opacity="0.6"/>
<line x1="355.00" y1="122.13" x2="368.00" y2="122.13" stroke="#3cc04c" stroke-width="0.9"/>
<circle cx="361.61" cy="123.42" r="0.98" fill="#2c9a3c"/>
<circle cx="358.40" cy="120.79" r="0.98" fill="#2c9a3c"/>
<circle cx="360.23" cy="119.65" r="0.98" fill="#2c9a3c"/>
<circle cx="366.06" cy="122.15" r="0.98" fill="#2c9a3c"/>
<circle cx="365.34" cy="123.39" r="0.98" fill="#2c9a3c"/>
<circle cx="364.62" cy="120.62" r="0.98" fill="#2c9a3c"/>
<circle cx="362.81" cy="122.22" r="0.98" fill="#2c9a3c"/>
<circle cx="365.63" cy="121.55" r="0.98" fill="#2c9a3c"/>
<circle cx="365.91" cy="119.29" r="0.98" fill="#2c9a3c"/>
<circle cx="361.99" cy="120.02" r="0.98" fill="#2c9a3c"/>
<circle cx="363.70" cy="123.10" r="0.98" fill="#2c9a3c"/>
<circle cx="356.99" cy="117.88" r="0.98" fill="#2c9a3c"/>
<circle cx="363.82" cy="122.12" r="0.98" fill="#2c9a3c"/>
<circle cx="361.01" cy="120.67" r="0.98" fill="#2c9a3c"/>
<circle cx="364.03" cy="113.94" r="0.98" fill="#2c9a3c"/>
<circle cx="362.94" cy="116.91" r="0.98" fill="#2c9a3c"/>
<line x1="379.60" y1="104.25" x2="379.60" y2="126.60" stroke="#d7263d" stroke-width="0.55" stroke-opacity="0.8"/>
<rect x="373.10" y="115.42" width="13.00" height="8.94" fill="#f58583" fill-opacity="0.75"/>
<line x1="373.10" y1="120.64" x2="386.10" y2="120.64" stroke="#d7263d" stroke-width="0.9"/>
<circle cx="380.37" cy="121.65" r="0.98" fill="#bd1230"/>
<circle cx="383.86" cy="120.23" r="0.98" fill="#bd1230"/>
<circle cx="382.35" cy="119.64" r="0.98" fill="#bd1230"/>
<circle cx="378.64" cy="122.25" r="0.98" fill="#bd1230"/>
<circle cx="378.65" cy="124.75" r="0.98" fill="#bd1230"/>
<circle cx="379.87" cy="120.79" r="0.98" fill="#bd1230"/>
<circle cx="378.25" cy="123.19" r="0.98" fill="#bd1230"/>
<circle cx="377.82" cy="115.55" r="0.98" fill="#bd1230"/>
<circle cx="374.78" cy="118.53" r="0.98" fill="#bd1230"/>
<circle cx="377.15" cy="121.81" r="0.98" fill="#bd1230"/>
<circle cx="384.74" cy="123.14" r="0.98" fill="#bd1230"/>
<circle cx="375.48" cy="124.00" r="0.98" fill="#bd1230"/>
<circle cx="379.64" cy="124.88" r="0.98" fill="#bd1230"/>
<circle cx="381.03" cy="122.70" r="0.98" fill="#bd1230"/>
<circle cx="383.59" cy="120.29" r="0.98" fill="#bd1230"/>
<circle cx="376.48" cy="119.46" r="0.98" fill="#bd1230"/>
<circle cx="377.08" cy="119.27" r="0.98" fill="#bd1230"/>
<circle cx="376.83" cy="113.57" r="0.98" fill="#bd1230"/>
<circle cx="378.50" cy="124.01" r="0.98" fill="#bd1230"/>
<circle cx="379.00" cy="121.34" r="0.98" fill="#bd1230"/>
<circle cx="384.59" cy="113.19" r="0.98" fill="#bd1230"/>
<circle cx="383.44" cy="126.60" r="0.98" fill="#bd1230"/>
<circle cx="383.70" cy="123.33" r="0.98" fill="#bd1230"/>
<circle cx="374.34" cy="120.75" r="0.98" fill="#bd1230"/>
<circle cx="374.45" cy="120.81" r="0.98" fill="#bd1230"/>
<circle cx="381.90" cy="119.87" r="0.98" fill="#bd1230"/>
<circle cx="383.95" cy="122.27" r="0.98" fill="#bd1230"/>
<circle cx="379.31" cy="120.02" r="0.98" fill="#bd1230"/>
<circle cx="380.56" cy="121.19" r="0.98" fill="#bd1230"/>
<circle cx="374.10" cy="118.51" r="0.98" fill="#bd1230"/>
<circle cx="378.41" cy="67.00" r="0.98" fill="#bd1230"/>
<circle cx="384.30" cy="67.00" r="0.98" fill="#bd1230"/>
<circle cx="383.18" cy="89.35" r="0.98" fill="#bd1230"/>
<circle cx="383.51" cy="91.58" r="0.98" fill="#bd1230"/>
<circle cx="384.79" cy="94.56" r="0.98" fill="#bd1230"/>
<circle cx="376.83" cy="104.25" r="0.98" fill="#bd1230"/>
<circle cx="375.30" cy="110.95" r="0.98" fill="#bd1230"/>
<circle cx="375.80" cy="111.70" r="0.98" fill="#bd1230"/>
<line x1="397.90" y1="113.19" x2="397.90" y2="125.85" stroke="#2b5aa6" stroke-width="0.55" stroke-opacity="0.8"/>
<rect x="391.40" y="118.41" width="13.00" height="4.47" fill="#8ea8dc" fill-opacity="0.75"/>
<line x1="391.40" y1="120.64" x2="404.40" y2="120.64" stroke="#2b5aa6" stroke-width="0.9"/>
<circle cx="402.95" cy="123.99" r="0.98" fill="#1f4289"/>
<circle cx="399.49" cy="121.11" r="0.98" fill="#1f4289"/>
<circle cx="402.12" cy="117.30" r="0.98" fill="#1f4289"/>
<circle cx="397.63" cy="121.92" r="0.98" fill="#1f4289"/>
<circle cx="394.98" cy="122.93" r="0.98" fill="#1f4289"/>
<circle cx="395.12" cy="123.68" r="0.98" fill="#1f4289"/>
<circle cx="402.97" cy="123.37" r="0.98" fill="#1f4289"/>
<circle cx="400.15" cy="119.89" r="0.98" fill="#1f4289"/>
<circle cx="395.78" cy="116.86" r="0.98" fill="#1f4289"/>
<circle cx="392.64" cy="119.68" r="0.98" fill="#1f4289"/>
<circle cx="397.88" cy="120.09" r="0.98" fill="#1f4289"/>
<circle cx="399.82" cy="116.17" r="0.98" fill="#1f4289"/>
<circle cx="397.02" cy="121.80" r="0.98" fill="#1f4289"/>
<circle cx="395.23" cy="122.15" r="0.98" fill="#1f4289"/>
<circle cx="399.74" cy="119.46" r="0.98" fill="#1f4289"/>
<circle cx="402.58" cy="119.41" r="0.98" fill="#1f4289"/>
<circle cx="394.89" cy="122.91" r="0.98" fill="#1f4289"/>
<circle cx="392.78" cy="123.25" r="0.98" fill="#1f4289"/>
<circle cx="396.12" cy="119.99" r="0.98" fill="#1f4289"/>
<circle cx="397.03" cy="120.09" r="0.98" fill="#1f4289"/>
<circle cx="399.91" cy="123.56" r="0.98" fill="#1f4289"/>
<circle cx="394.58" cy="121.09" r="0.98" fill="#1f4289"/>
<circle cx="401.17" cy="121.85" r="0.98" fill="#1f4289"/>
<circle cx="400.53" cy="119.61" r="0.98" fill="#1f4289"/>
<circle cx="397.95" cy="120.90" r="0.98" fill="#1f4289"/>
<circle cx="394.66" cy="120.83" r="0.98" fill="#1f4289"/>
<circle cx="403.07" cy="121.43" r="0.98" fill="#1f4289"/>
<circle cx="395.83" cy="118.29" r="0.98" fill="#1f4289"/>
<circle cx="401.42" cy="107.97" r="0.98" fill="#1f4289"/>
<circle cx="394.94" cy="112.44" r="0.98" fill="#1f4289"/>
<circle cx="394.84" cy="110.21" r="0.98" fill="#1f4289"/>
<line x1="420.20" y1="53.59" x2="420.20" y2="59.55" stroke="#3cc04c" stroke-width="0.55" stroke-opacity="0.8"/>
<rect x="413.70" y="55.08" width="13.00" height="2.98" fill="#98dc8e" fill-opacity="0.5"/>
<line x1="413.70" y1="56.57" x2="426.70" y2="56.57" stroke="#3cc04c" stroke-width="0.9"/>
<circle cx="419.13" cy="56.49" r="0.98" fill="#2c9a3c"/>
<circle cx="424.18" cy="57.81" r="0.98" fill="#2c9a3c"/>
<circle cx="424.04" cy="54.91" r="0.98" fill="#2c9a3c"/>
<circle cx="422.53" cy="57.09" r="0.98" fill="#2c9a3c"/>
<circle cx="425.18" cy="56.16" r="0.98" fill="#2c9a3c"/>
<circle cx="424.52" cy="55.59" r="0.98" fill="#2c9a3c"/>
<circle cx="418.49" cy="58.48" r="0.98" fill="#2c9a3c"/>
<circle cx="417.06" cy="55.47" r="0.98" fill="#2c9a3c"/>
<circle cx="424.56" cy="55.77" r="0.98" fill="#2c9a3c"/>
<circle cx="422.66" cy="56.84" r="0.98" fill="#2c9a3c"/>
<circle cx="415.52" cy="57.38" r="0.98" fill="#2c9a3c"/>
<circle cx="421.84" cy="55.93" r="0.98" fill="#2c9a3c"/>
<circle cx="418.99" cy="55.76" r="0.98" fill="#2c9a3c"/>
<circle cx="418.94" cy="56.70" r="0.98" fill="#2c9a3c"/>
<circle cx="418.52" cy="56.07" r="0.98" fill="#2c9a3c"/>
<circle cx="416.89" cy="56.40" r="0.98" fill="#2c9a3c"/>
<circle cx="415.23" cy="60.30" r="0.98" fill="#2c9a3c"/>
<line x1="438.30" y1="53.59" x2="438.30" y2="63.27" stroke="#d7263d" stroke-width="0.55" stroke-opacity="0.8"/>
<rect x="431.80" y="55.08" width="13.00" height="4.47" fill="#f58583" fill-opacity="0.5"/>
<line x1="431.80" y1="57.31" x2="444.80" y2="57.31" stroke="#d7263d" stroke-width="0.9"/>
<circle cx="443.33" cy="57.70" r="0.98" fill="#bd1230"/>
<circle cx="439.59" cy="55.27" r="0.98" fill="#bd1230"/>
<circle cx="435.68" cy="56.21" r="0.98" fill="#bd1230"/>
<circle cx="440.68" cy="57.63" r="0.98" fill="#bd1230"/>
<circle cx="436.28" cy="55.83" r="0.98" fill="#bd1230"/>
<circle cx="435.83" cy="57.65" r="0.98" fill="#bd1230"/>
<circle cx="432.84" cy="59.89" r="0.98" fill="#bd1230"/>
<circle cx="441.11" cy="54.06" r="0.98" fill="#bd1230"/>
<circle cx="442.88" cy="56.28" r="0.98" fill="#bd1230"/>
<circle cx="439.77" cy="59.45" r="0.98" fill="#bd1230"/>
<circle cx="443.18" cy="54.90" r="0.98" fill="#bd1230"/>
<circle cx="433.07" cy="56.54" r="0.98" fill="#bd1230"/>
<circle cx="435.37" cy="60.81" r="0.98" fill="#bd1230"/>
<circle cx="438.03" cy="53.72" r="0.98" fill="#bd1230"/>
<circle cx="443.32" cy="56.57" r="0.98" fill="#bd1230"/>
<circle cx="443.29" cy="55.32" r="0.98" fill="#bd1230"/>
<circle cx="437.05" cy="56.87" r="0.98" fill="#bd1230"/>
<circle cx="435.56" cy="57.65" r="0.98" fill="#bd1230"/>
<circle cx="437.53" cy="60.78" r="0.98" fill="#bd1230"/>
<circle cx="438.23" cy="55.14" r="0.98" fill="#bd1230"/>
<circle cx="443.01" cy="57.25" r="0.98" fill="#bd1230"/>
<circle cx="434.81" cy="57.96" r="0.98" fill="#bd1230"/>
<circle cx="441.63" cy="56.53" r="0.98" fill="#bd1230"/>
<circle cx="440.92" cy="57.14" r="0.98" fill="#bd1230"/>
<circle cx="441.85" cy="55.80" r="0.98" fill="#bd1230"/>
<circle cx="441.30" cy="58.14" r="0.98" fill="#bd1230"/>
<circle cx="439.48" cy="57.40" r="0.98" fill="#bd1230"/>
<circle cx="436.41" cy="62.10" r="0.98" fill="#bd1230"/>
<circle cx="436.32" cy="58.26" r="0.98" fill="#bd1230"/>
<circle cx="436.78" cy="55.80" r="0.98" fill="#bd1230"/>
<circle cx="441.40" cy="69.98" r="0.98" fill="#bd1230"/>
<circle cx="433.67" cy="70.72" r="0.98" fill="#bd1230"/>
<circle cx="434.97" cy="64.02" r="0.98" fill="#bd1230"/>
<line x1="455.80" y1="53.59" x2="455.80" y2="61.04" stroke="#2b5aa6" stroke-width="0.55" stroke-opacity="0.8"/>
<rect x="449.30" y="55.08" width="13.00" height="3.72" fill="#8ea8dc" fill-opacity="0.5"/>
<line x1="449.30" y1="56.57" x2="462.30" y2="56.57" stroke="#2b5aa6" stroke-width="0.9"/>
<circle cx="454.40" cy="57.29" r="0.98" fill="#1f4289"/>
<circle cx="458.42" cy="58.72" r="0.98" fill="#1f4289"/>
<circle cx="452.49" cy="56.87" r="0.98" fill="#1f4289"/>
<circle cx="453.02" cy="57.12" r="0.98" fill="#1f4289"/>
<circle cx="453.00" cy="58.88" r="0.98" fill="#1f4289"/>
<circle cx="451.99" cy="57.85" r="0.98" fill="#1f4289"/>
<circle cx="460.03" cy="53.59" r="0.98" fill="#1f4289"/>
<circle cx="456.66" cy="57.79" r="0.98" fill="#1f4289"/>
<circle cx="453.89" cy="55.86" r="0.98" fill="#1f4289"/>
<circle cx="454.66" cy="57.43" r="0.98" fill="#1f4289"/>
<circle cx="461.22" cy="56.59" r="0.98" fill="#1f4289"/>
<circle cx="455.88" cy="56.89" r="0.98" fill="#1f4289"/>
<circle cx="452.85" cy="60.24" r="0.98" fill="#1f4289"/>
<circle cx="459.19" cy="57.29" r="0.98" fill="#1f4289"/>
<circle cx="457.49" cy="58.60" r="0.98" fill="#1f4289"/>
<circle cx="461.20" cy="56.87" r="0.98" fill="#1f4289"/>
<circle cx="451.43" cy="59.56" r="0.98" fill="#1f4289"/>
<circle cx="455.52" cy="56.02" r="0.98" fill="#1f4289"/>
<circle cx="459.31" cy="58.73" r="0.98" fill="#1f4289"/>
<circle cx="459.55" cy="60.06" r="0.98" fill="#1f4289"/>
<circle cx="460.36" cy="55.74" r="0.98" fill="#1f4289"/>
<circle cx="450.74" cy="59.57" r="0.98" fill="#1f4289"/>
<circle cx="453.53" cy="54.73" r="0.98" fill="#1f4289"/>
<circle cx="451.61" cy="54.85" r="0.98" fill="#1f4289"/>
<circle cx="452.39" cy="57.97" r="0.98" fill="#1f4289"/>
<circle cx="461.00" cy="55.00" r="0.98" fill="#1f4289"/>
<circle cx="456.72" cy="62.53" r="0.98" fill="#1f4289"/>
<circle cx="460.53" cy="64.02" r="0.98" fill="#1f4289"/>
<text x="6.90" y="180.80" font-size="10" font-weight="bold"  stroke="#231f20" stroke-width="0.4">C</text>
<text x="67.50" y="188.40" font-size="7.4" textLength="75.50" lengthAdjust="spacingAndGlyphs"  stroke="#231f20" stroke-width="0.14">NK-cell populations in</text>
<text x="41.5" y="198.2" font-size="7.4" textLength="127" lengthAdjust="spacingAndGlyphs" stroke="#231f20" stroke-width="0.14">HGBL-<tspan font-style="italic">MYC</tspan>/<tspan font-style="italic">BCL2</tspan> vs DLBCL NOS</text>
<text x="40.80" y="210.00" font-size="5.6" fill="#2d4f9a" textLength="32.00" lengthAdjust="spacingAndGlyphs"  stroke="#2d4f9a" stroke-width="0.16">Increased in</text>
<text x="40.80" y="217.30" font-size="5.6" fill="#2d4f9a" textLength="33.60" lengthAdjust="spacingAndGlyphs"  stroke="#2d4f9a" stroke-width="0.16">DLBCL NOS</text>
<text x="93.50" y="210.00" font-size="5.6" text-anchor="middle" fill="#4caf3e" textLength="9.60" lengthAdjust="spacingAndGlyphs"  stroke="#4caf3e" stroke-width="0.16">Not</text>
<text x="79.60" y="217.30" font-size="5.6" fill="#4caf3e" textLength="27.70" lengthAdjust="spacingAndGlyphs"  stroke="#4caf3e" stroke-width="0.16">significant</text>
<text x="125.30" y="210.00" font-size="5.6" fill="#d5233a" textLength="33.20" lengthAdjust="spacingAndGlyphs"  stroke="#d5233a" stroke-width="0.16">Increased in</text>
<text x="115" y="217.3" font-size="5.6" fill="#d5233a" textLength="54" lengthAdjust="spacingAndGlyphs" stroke="#d5233a" stroke-width="0.16">HGBL-<tspan font-style="italic">MYC</tspan>/<tspan font-style="italic">BCL2</tspan></text>
<line x1="34.50" y1="221.50" x2="34.50" y2="361.50" stroke="#231f20" stroke-width="1.0"/>
<line x1="31.80" y1="243.30" x2="34.50" y2="243.30" stroke="#231f20" stroke-width="0.75"/>
<text x="29.20" y="245.50" font-size="6.0" text-anchor="end" fill="#2a2a2a"  stroke="#2a2a2a" stroke-width="0.16">1.5</text>
<line x1="31.80" y1="280.50" x2="34.50" y2="280.50" stroke="#231f20" stroke-width="0.75"/>
<text x="29.20" y="282.70" font-size="6.0" text-anchor="end" fill="#2a2a2a"  stroke="#2a2a2a" stroke-width="0.16">1.0</text>
<line x1="31.80" y1="317.70" x2="34.50" y2="317.70" stroke="#231f20" stroke-width="0.75"/>
<text x="29.20" y="319.90" font-size="6.0" text-anchor="end" fill="#2a2a2a"  stroke="#2a2a2a" stroke-width="0.16">0.5</text>
<line x1="31.80" y1="354.90" x2="34.50" y2="354.90" stroke="#231f20" stroke-width="0.75"/>
<text x="29.20" y="357.10" font-size="6.0" text-anchor="end" fill="#2a2a2a"  stroke="#2a2a2a" stroke-width="0.16">0.0</text>
<line x1="34.00" y1="361.00" x2="170.80" y2="361.00" stroke="#231f20" stroke-width="1.0"/>
<line x1="37.60" y1="361.00" x2="37.60" y2="363.20" stroke="#231f20" stroke-width="0.75"/>
<text x="0" y="0" font-size="6" text-anchor="end" fill="#2a2a2a" transform="translate(41.00,367.20) rotate(-45)" stroke="#2a2a2a" stroke-width="0.16">-2.0</text>
<line x1="51.55" y1="361.00" x2="51.55" y2="363.20" stroke="#231f20" stroke-width="0.75"/>
<text x="0" y="0" font-size="6" text-anchor="end" fill="#2a2a2a" transform="translate(54.95,367.20) rotate(-45)" stroke="#2a2a2a" stroke-width="0.16">-1.5</text>
<line x1="65.50" y1="361.00" x2="65.50" y2="363.20" stroke="#231f20" stroke-width="0.75"/>
<text x="0" y="0" font-size="6" text-anchor="end" fill="#2a2a2a" transform="translate(68.90,367.20) rotate(-45)" stroke="#2a2a2a" stroke-width="0.16">-1.0</text>
<line x1="79.45" y1="361.00" x2="79.45" y2="363.20" stroke="#231f20" stroke-width="0.75"/>
<text x="0" y="0" font-size="6" text-anchor="end" fill="#2a2a2a" transform="translate(82.85,367.20) rotate(-45)" stroke="#2a2a2a" stroke-width="0.16">-0.5</text>
<line x1="93.40" y1="361.00" x2="93.40" y2="363.20" stroke="#231f20" stroke-width="0.75"/>
<text x="0" y="0" font-size="6" text-anchor="end" fill="#2a2a2a" transform="translate(96.80,367.20) rotate(-45)" stroke="#2a2a2a" stroke-width="0.16">0.0</text>
<line x1="107.35" y1="361.00" x2="107.35" y2="363.20" stroke="#231f20" stroke-width="0.75"/>
<text x="0" y="0" font-size="6" text-anchor="end" fill="#2a2a2a" transform="translate(110.75,367.20) rotate(-45)" stroke="#2a2a2a" stroke-width="0.16">0.5</text>
<line x1="121.30" y1="361.00" x2="121.30" y2="363.20" stroke="#231f20" stroke-width="0.75"/>
<text x="0" y="0" font-size="6" text-anchor="end" fill="#2a2a2a" transform="translate(124.70,367.20) rotate(-45)" stroke="#2a2a2a" stroke-width="0.16">1.0</text>
<line x1="135.25" y1="361.00" x2="135.25" y2="363.20" stroke="#231f20" stroke-width="0.75"/>
<text x="0" y="0" font-size="6" text-anchor="end" fill="#2a2a2a" transform="translate(138.65,367.20) rotate(-45)" stroke="#2a2a2a" stroke-width="0.16">1.5</text>
<line x1="149.20" y1="361.00" x2="149.20" y2="363.20" stroke="#231f20" stroke-width="0.75"/>
<text x="0" y="0" font-size="6" text-anchor="end" fill="#2a2a2a" transform="translate(152.60,367.20) rotate(-45)" stroke="#2a2a2a" stroke-width="0.16">2.0</text>
<text x="105.60" y="386.20" font-size="6.6" text-anchor="middle" fill="#2a2a2a" textLength="42.80" lengthAdjust="spacingAndGlyphs"  stroke="#2a2a2a" stroke-width="0.14">Log2 fold change</text>
<text x="0" y="0" font-size="6.6" text-anchor="middle" textLength="60.5" lengthAdjust="spacingAndGlyphs" fill="#2a2a2a" transform="translate(14.9,290.7) rotate(-90)" stroke="#2a2a2a" stroke-width="0.14">-Log10 Corrected <tspan font-style="italic">P</tspan> value</text>
<line x1="79.50" y1="222.00" x2="79.50" y2="361.00" stroke="#555" stroke-width="0.7" stroke-dasharray="1,1"/>
<line x1="107.50" y1="222.00" x2="107.50" y2="361.00" stroke="#555" stroke-width="0.7" stroke-dasharray="1,1"/>
<line x1="35.00" y1="258.50" x2="171.00" y2="258.50" stroke="#555" stroke-width="0.7" stroke-dasharray="1,1"/>
<circle cx="40.8" cy="261.4" r="1.3" fill="#3a9c36"/>
<circle cx="67.5" cy="273.5" r="1.3" fill="#3a9c36"/>
<circle cx="129" cy="280.8" r="1.3" fill="#3a9c36"/>
<circle cx="142.6" cy="275" r="1.3" fill="#3a9c36"/>
<circle cx="147" cy="261.4" r="1.3" fill="#3a9c36"/>
<circle cx="169.3" cy="263" r="1.3" fill="#3a9c36"/>
<circle cx="107.2" cy="306.9" r="1.3" fill="#3a9c36"/>
<circle cx="68.2" cy="335.8" r="1.3" fill="#3a9c36"/>
<circle cx="84.7" cy="336" r="1.3" fill="#3a9c36"/>
<circle cx="102.2" cy="336" r="1.3" fill="#3a9c36"/>
<circle cx="76.9" cy="341.2" r="1.3" fill="#3a9c36"/>
<circle cx="108.1" cy="342.5" r="1.3" fill="#3a9c36"/>
<circle cx="116.2" cy="351" r="1.3" fill="#3a9c36"/>
<circle cx="124.6" cy="350" r="1.3" fill="#3a9c36"/>
<circle cx="138" cy="350" r="1.3" fill="#3a9c36"/>
<circle cx="149.4" cy="351.4" r="1.3" fill="#3a9c36"/>
<circle cx="156" cy="350.4" r="1.3" fill="#3a9c36"/>
<rect x="60.50" y="348.90" width="2.29" height="1.9" fill="#3a9c36"/>
<rect x="64.90" y="348.96" width="1.81" height="1.9" fill="#3a9c36"/>
<rect x="66.10" y="349.22" width="2.36" height="1.9" fill="#3a9c36"/>
<rect x="73.90" y="348.68" width="2.08" height="1.9" fill="#3a9c36"/>
<rect x="77.40" y="349.10" width="1.77" height="1.9" fill="#3a9c36"/>
<rect x="79.40" y="348.89" width="1.71" height="1.9" fill="#3a9c36"/>
<rect x="81.40" y="348.76" width="1.80" height="1.9" fill="#3a9c36"/>
<rect x="83.40" y="349.08" width="2.12" height="1.9" fill="#3a9c36"/>
<rect x="85.40" y="348.76" width="1.61" height="1.9" fill="#3a9c36"/>
<rect x="87.40" y="348.86" width="2.14" height="1.9" fill="#3a9c36"/>
<rect x="89.40" y="348.75" width="1.85" height="1.9" fill="#3a9c36"/>
<rect x="91.40" y="348.76" width="2.24" height="1.9" fill="#3a9c36"/>
<rect x="93.40" y="349.04" width="1.65" height="1.9" fill="#3a9c36"/>
<rect x="94.90" y="348.68" width="1.92" height="1.9" fill="#3a9c36"/>
<rect x="97.40" y="349.04" width="2.11" height="1.9" fill="#3a9c36"/>
<rect x="99.40" y="348.67" width="1.73" height="1.9" fill="#3a9c36"/>
<rect x="101.40" y="349.16" width="1.93" height="1.9" fill="#3a9c36"/>
<rect x="103.40" y="348.83" width="1.85" height="1.9" fill="#3a9c36"/>
<rect x="104.90" y="349.36" width="1.85" height="1.9" fill="#3a9c36"/>
<rect x="70.00" y="353.04" width="1.69" height="1.7" fill="#3a9c36"/>
<rect x="72.00" y="352.95" width="2.09" height="1.7" fill="#3a9c36"/>
<rect x="77.00" y="353.30" width="1.69" height="1.7" fill="#3a9c36"/>
<rect x="79.00" y="352.82" width="1.98" height="1.7" fill="#3a9c36"/>
<rect x="81.00" y="352.82" width="1.40" height="1.7" fill="#3a9c36"/>
<rect x="83.00" y="353.24" width="1.74" height="1.7" fill="#3a9c36"/>
<rect x="85.00" y="353.19" width="1.72" height="1.7" fill="#3a9c36"/>
<rect x="87.00" y="353.23" width="1.77" height="1.7" fill="#3a9c36"/>
<rect x="89.00" y="352.80" width="1.41" height="1.7" fill="#3a9c36"/>
<rect x="91.00" y="353.03" width="1.91" height="1.7" fill="#3a9c36"/>
<rect x="93.00" y="353.25" width="1.47" height="1.7" fill="#3a9c36"/>
<rect x="95.00" y="353.07" width="1.70" height="1.7" fill="#3a9c36"/>
<rect x="97.00" y="353.00" width="1.52" height="1.7" fill="#3a9c36"/>
<rect x="99.00" y="352.87" width="1.82" height="1.7" fill="#3a9c36"/>
<rect x="103.00" y="353.26" width="1.49" height="1.7" fill="#3a9c36"/>
<rect x="105.00" y="352.99" width="2.04" height="1.7" fill="#3a9c36"/>
<circle cx="66.5" cy="350.6" r="1.6" fill="#3a9c36"/>
<circle cx="46.7" cy="238.6" r="1.2" fill="#1b2656"/>
<circle cx="70.3" cy="239" r="1.2" fill="#1b2656"/>
<circle cx="119.4" cy="226.8" r="1.2" fill="#4a0f1a"/>
<text x="49.30" y="226.30" font-size="4.2" text-anchor="middle" fill="#5a78b8" textLength="20.70" lengthAdjust="spacingAndGlyphs"  stroke="#5a78b8" stroke-width="0.16">CD56bright</text>
<text x="49.30" y="230.40" font-size="4.2" text-anchor="middle" fill="#5a78b8" textLength="23.60" lengthAdjust="spacingAndGlyphs"  stroke="#5a78b8" stroke-width="0.16">DNAM-1 pos</text>
<text x="49.30" y="234.50" font-size="4.2" text-anchor="middle" fill="#5a78b8" textLength="26.00" lengthAdjust="spacingAndGlyphs"  stroke="#5a78b8" stroke-width="0.16">KLRG1 (weak)</text>
<text x="66.20" y="243.60" font-size="4.2" text-anchor="middle" fill="#5a78b8" textLength="13.00" lengthAdjust="spacingAndGlyphs"  stroke="#5a78b8" stroke-width="0.16">CD16+</text>
<text x="66.20" y="247.80" font-size="4.2" text-anchor="middle" fill="#5a78b8" textLength="21.60" lengthAdjust="spacingAndGlyphs"  stroke="#5a78b8" stroke-width="0.16">NKG2A pos</text>
<text x="66.20" y="252.00" font-size="4.2" text-anchor="middle" fill="#5a78b8" textLength="23.60" lengthAdjust="spacingAndGlyphs"  stroke="#5a78b8" stroke-width="0.16">NKG2D weak</text>
<text x="66.20" y="256.20" font-size="4.2" text-anchor="middle" fill="#5a78b8" textLength="22.10" lengthAdjust="spacingAndGlyphs"  stroke="#5a78b8" stroke-width="0.16">NKG2C neg</text>
<text x="120.80" y="232.30" font-size="3.6" fill="#d94a5a"  stroke="#d94a5a" stroke-width="0.16">NKG2D+</text>
<text x="181.70" y="180.70" font-size="10" font-weight="bold"  stroke="#231f20" stroke-width="0.4">E</text>
<text x="246.00" y="203.60" font-size="8" stroke="#231f20" stroke-width="0.14"><tspan>HLA-DR</tspan><tspan font-size="5.6" dy="-2.75">+</tspan><tspan font-size="8" dy="2.75"> cells</tspan></text>
<line x1="216.60" y1="206.00" x2="323.40" y2="206.00" stroke="#666" stroke-width="1.0"/>
<text x="221.80" y="215.50" font-size="8" stroke="#231f20" stroke-width="0.14">CD56<tspan font-size="5.6" dy="-2.75" textLength="15.0" lengthAdjust="spacingAndGlyphs">bright</tspan></text>
<text x="283.60" y="215.50" font-size="8" stroke="#231f20" stroke-width="0.14">CD56<tspan font-size="5.6" dy="-2.75" textLength="9.2" lengthAdjust="spacingAndGlyphs">dim</tspan></text>
<text x="217.20" y="225.30" font-size="6.0" textLength="19.30" lengthAdjust="spacingAndGlyphs" stroke="#231f20" stroke-width="0.16"><tspan font-style="italic">P</tspan> = .28</text>
<line x1="217.20" y1="226.30" x2="236.50" y2="226.30" stroke="#444" stroke-width="0.5"/>
<text x="240.30" y="225.30" font-size="6.0" textLength="19.20" lengthAdjust="spacingAndGlyphs" stroke="#231f20" stroke-width="0.16"><tspan font-style="italic">P</tspan> = .28</text>
<line x1="240.30" y1="226.30" x2="259.50" y2="226.30" stroke="#444" stroke-width="0.5"/>
<text x="231.00" y="231.90" font-size="6.0" textLength="19.00" lengthAdjust="spacingAndGlyphs" stroke="#231f20" stroke-width="0.16"><tspan font-style="italic">P</tspan> = .72</text>
<line x1="218.90" y1="234.00" x2="256.40" y2="234.00" stroke="#777" stroke-width="0.75"/>
<text x="276.70" y="225.30" font-size="6.0" textLength="19.00" lengthAdjust="spacingAndGlyphs" stroke="#231f20" stroke-width="0.16"><tspan font-style="italic">P</tspan> = .34</text>
<line x1="276.70" y1="226.30" x2="295.70" y2="226.30" stroke="#444" stroke-width="0.5"/>
<text x="299.40" y="225.30" font-size="6.0" textLength="19.30" lengthAdjust="spacingAndGlyphs" stroke="#231f20" stroke-width="0.16"><tspan font-style="italic">P</tspan> = .02</text>
<line x1="299.40" y1="226.30" x2="318.70" y2="226.30" stroke="#444" stroke-width="0.5"/>
<text x="290.50" y="231.90" font-size="6.0" textLength="19.00" lengthAdjust="spacingAndGlyphs" stroke="#231f20" stroke-width="0.16"><tspan font-style="italic">P</tspan> = .43</text>
<line x1="278.40" y1="234.00" x2="315.90" y2="234.00" stroke="#777" stroke-width="0.75"/>
<line x1="211.50" y1="237.50" x2="211.50" y2="317.50" stroke="#231f20" stroke-width="1.0"/>
<line x1="209.10" y1="239.00" x2="211.50" y2="239.00" stroke="#231f20" stroke-width="0.8"/>
<text x="205.30" y="241.20" font-size="6.1" text-anchor="end" fill="#2a2a2a"  stroke="#2a2a2a" stroke-width="0.16">100</text>
<line x1="209.10" y1="257.68" x2="211.50" y2="257.68" stroke="#231f20" stroke-width="0.8"/>
<text x="205.30" y="259.87" font-size="6.1" text-anchor="end" fill="#2a2a2a"  stroke="#2a2a2a" stroke-width="0.16">75</text>
<line x1="209.10" y1="276.35" x2="211.50" y2="276.35" stroke="#231f20" stroke-width="0.8"/>
<text x="205.30" y="278.55" font-size="6.1" text-anchor="end" fill="#2a2a2a"  stroke="#2a2a2a" stroke-width="0.16">50</text>
<line x1="209.10" y1="295.02" x2="211.50" y2="295.02" stroke="#231f20" stroke-width="0.8"/>
<text x="205.30" y="297.22" font-size="6.1" text-anchor="end" fill="#2a2a2a"  stroke="#2a2a2a" stroke-width="0.16">25</text>
<line x1="209.10" y1="313.70" x2="211.50" y2="313.70" stroke="#231f20" stroke-width="0.8"/>
<text x="205.30" y="315.90" font-size="6.1" text-anchor="end" fill="#2a2a2a"  stroke="#2a2a2a" stroke-width="0.16">0</text>
<text x="0" y="0" font-size="6.8" text-anchor="middle" textLength="58.50" lengthAdjust="spacingAndGlyphs" transform="translate(188.00,276.00) rotate(-90)"  stroke="#231f20" stroke-width="0.14">Percentage of NK-cells</text>
<line x1="211.50" y1="317.50" x2="325.00" y2="317.50" stroke="#231f20" stroke-width="1.0"/>
<line x1="224.00" y1="317.50" x2="224.00" y2="320.10" stroke="#231f20" stroke-width="0.9"/>
<line x1="240.00" y1="317.50" x2="240.00" y2="320.10" stroke="#231f20" stroke-width="0.9"/>
<line x1="257.60" y1="317.50" x2="257.60" y2="320.10" stroke="#231f20" stroke-width="0.9"/>
<line x1="279.00" y1="317.50" x2="279.00" y2="320.10" stroke="#231f20" stroke-width="0.9"/>
<line x1="297.00" y1="317.50" x2="297.00" y2="320.10" stroke="#231f20" stroke-width="0.9"/>
<line x1="315.40" y1="317.50" x2="315.40" y2="320.10" stroke="#231f20" stroke-width="0.9"/>
<line x1="268.50" y1="236.00" x2="268.50" y2="317.00" stroke="#444" stroke-width="0.8" stroke-dasharray="1,1"/>
<text x="0" y="0" font-size="6.7" text-anchor="end" fill="#2a2a2a" textLength="19.50" lengthAdjust="spacingAndGlyphs" transform="translate(226.40,326.40) rotate(-30)" stroke="#2a2a2a" stroke-width="0.14">Healthy</text>
<text x="0" y="0" font-size="6.7" text-anchor="end" fill="#2a2a2a" textLength="48.50" lengthAdjust="spacingAndGlyphs" transform="translate(242.40,326.40) rotate(-30)" stroke="#2a2a2a" stroke-width="0.14">HGBL-MYC/BLC2</text>
<text x="0" y="0" font-size="6.7" text-anchor="end" fill="#2a2a2a" textLength="34.50" lengthAdjust="spacingAndGlyphs" transform="translate(260.00,326.40) rotate(-30)" stroke="#2a2a2a" stroke-width="0.14">DLBCL NOS</text>
<text x="0" y="0" font-size="6.7" text-anchor="end" fill="#2a2a2a" textLength="19.50" lengthAdjust="spacingAndGlyphs" transform="translate(281.40,326.40) rotate(-30)" stroke="#2a2a2a" stroke-width="0.14">Healthy</text>
<text x="0" y="0" font-size="6.7" text-anchor="end" fill="#2a2a2a" textLength="48.50" lengthAdjust="spacingAndGlyphs" transform="translate(299.40,326.40) rotate(-30)" stroke="#2a2a2a" stroke-width="0.14">HGBL-MYC/BLC2</text>
<text x="0" y="0" font-size="6.7" text-anchor="end" fill="#2a2a2a" textLength="34.50" lengthAdjust="spacingAndGlyphs" transform="translate(317.80,326.40) rotate(-30)" stroke="#2a2a2a" stroke-width="0.14">DLBCL NOS</text>
<line x1="224.00" y1="272.62" x2="224.00" y2="286.06" stroke="#3cc04c" stroke-width="0.55" stroke-opacity="0.8"/>
<rect x="217.50" y="276.35" width="13.00" height="4.48" fill="#98dc8e" fill-opacity="0.75"/>
<line x1="217.50" y1="278.59" x2="230.50" y2="278.59" stroke="#3cc04c" stroke-width="0.9"/>
<circle cx="227.46" cy="276.65" r="0.98" fill="#2c9a3c"/>
<circle cx="227.29" cy="279.00" r="0.98" fill="#2c9a3c"/>
<circle cx="220.83" cy="273.59" r="0.98" fill="#2c9a3c"/>
<circle cx="221.18" cy="273.48" r="0.98" fill="#2c9a3c"/>
<circle cx="223.00" cy="275.20" r="0.98" fill="#2c9a3c"/>
<circle cx="224.18" cy="279.12" r="0.98" fill="#2c9a3c"/>
<circle cx="222.84" cy="272.15" r="0.98" fill="#2c9a3c"/>
<circle cx="220.23" cy="276.35" r="0.98" fill="#2c9a3c"/>
<circle cx="221.47" cy="283.52" r="0.98" fill="#2c9a3c"/>
<circle cx="226.25" cy="274.40" r="0.98" fill="#2c9a3c"/>
<circle cx="227.97" cy="282.65" r="0.98" fill="#2c9a3c"/>
<circle cx="219.41" cy="282.42" r="0.98" fill="#2c9a3c"/>
<circle cx="224.62" cy="275.79" r="0.98" fill="#2c9a3c"/>
<circle cx="226.57" cy="274.16" r="0.98" fill="#2c9a3c"/>
<circle cx="219.38" cy="278.06" r="0.98" fill="#2c9a3c"/>
<circle cx="227.38" cy="275.60" r="0.98" fill="#2c9a3c"/>
<line x1="240.00" y1="265.14" x2="240.00" y2="289.05" stroke="#d7263d" stroke-width="0.55" stroke-opacity="0.8"/>
<rect x="233.50" y="274.11" width="13.00" height="7.47" fill="#f58583" fill-opacity="0.75"/>
<line x1="233.50" y1="277.84" x2="246.50" y2="277.84" stroke="#d7263d" stroke-width="0.9"/>
<circle cx="243.46" cy="273.37" r="0.98" fill="#bd1230"/>
<circle cx="236.63" cy="273.76" r="0.98" fill="#bd1230"/>
<circle cx="245.30" cy="283.83" r="0.98" fill="#bd1230"/>
<circle cx="239.91" cy="279.79" r="0.98" fill="#bd1230"/>
<circle cx="245.02" cy="279.46" r="0.98" fill="#bd1230"/>
<circle cx="244.58" cy="273.45" r="0.98" fill="#bd1230"/>
<circle cx="236.32" cy="281.94" r="0.98" fill="#bd1230"/>
<circle cx="243.17" cy="280.19" r="0.98" fill="#bd1230"/>
<circle cx="244.74" cy="280.49" r="0.98" fill="#bd1230"/>
<circle cx="235.22" cy="281.94" r="0.98" fill="#bd1230"/>
<circle cx="238.36" cy="278.75" r="0.98" fill="#bd1230"/>
<circle cx="242.82" cy="277.48" r="0.98" fill="#bd1230"/>
<circle cx="236.25" cy="281.66" r="0.98" fill="#bd1230"/>
<circle cx="244.36" cy="281.38" r="0.98" fill="#bd1230"/>
<circle cx="237.52" cy="277.14" r="0.98" fill="#bd1230"/>
<circle cx="243.47" cy="270.26" r="0.98" fill="#bd1230"/>
<circle cx="236.08" cy="276.91" r="0.98" fill="#bd1230"/>
<circle cx="240.02" cy="282.72" r="0.98" fill="#bd1230"/>
<circle cx="244.62" cy="275.67" r="0.98" fill="#bd1230"/>
<circle cx="236.79" cy="273.26" r="0.98" fill="#bd1230"/>
<circle cx="237.39" cy="276.01" r="0.98" fill="#bd1230"/>
<circle cx="240.07" cy="276.38" r="0.98" fill="#bd1230"/>
<circle cx="238.01" cy="279.63" r="0.98" fill="#bd1230"/>
<circle cx="234.91" cy="277.01" r="0.98" fill="#bd1230"/>
<circle cx="236.50" cy="282.85" r="0.98" fill="#bd1230"/>
<circle cx="236.27" cy="275.93" r="0.98" fill="#bd1230"/>
<circle cx="244.80" cy="271.68" r="0.98" fill="#bd1230"/>
<circle cx="241.98" cy="276.23" r="0.98" fill="#bd1230"/>
<circle cx="244.35" cy="271.51" r="0.98" fill="#bd1230"/>
<circle cx="236.36" cy="274.24" r="0.98" fill="#bd1230"/>
<circle cx="243.13" cy="276.92" r="0.98" fill="#bd1230"/>
<circle cx="235.77" cy="283.13" r="0.98" fill="#bd1230"/>
<circle cx="240.34" cy="272.84" r="0.98" fill="#bd1230"/>
<circle cx="241.50" cy="276.07" r="0.98" fill="#bd1230"/>
<circle cx="238.46" cy="285.76" r="0.98" fill="#bd1230"/>
<circle cx="244.10" cy="270.21" r="0.98" fill="#bd1230"/>
<circle cx="240.61" cy="272.05" r="0.98" fill="#bd1230"/>
<circle cx="240.88" cy="271.17" r="0.98" fill="#bd1230"/>
<circle cx="244.21" cy="270.57" r="0.98" fill="#bd1230"/>
<circle cx="235.65" cy="278.02" r="0.98" fill="#bd1230"/>
<circle cx="245.42" cy="257.68" r="0.98" fill="#bd1230"/>
<circle cx="241.43" cy="261.41" r="0.98" fill="#bd1230"/>
<circle cx="238.84" cy="263.65" r="0.98" fill="#bd1230"/>
<line x1="257.60" y1="265.14" x2="257.60" y2="289.05" stroke="#2b5aa6" stroke-width="0.55" stroke-opacity="0.8"/>
<rect x="251.10" y="275.60" width="13.00" height="6.72" fill="#8ea8dc" fill-opacity="0.75"/>
<line x1="251.10" y1="278.96" x2="264.10" y2="278.96" stroke="#2b5aa6" stroke-width="0.9"/>
<circle cx="258.96" cy="277.38" r="0.98" fill="#1f4289"/>
<circle cx="257.32" cy="282.51" r="0.98" fill="#1f4289"/>
<circle cx="253.58" cy="271.74" r="0.98" fill="#1f4289"/>
<circle cx="262.40" cy="279.00" r="0.98" fill="#1f4289"/>
<circle cx="254.78" cy="284.27" r="0.98" fill="#1f4289"/>
<circle cx="253.74" cy="271.75" r="0.98" fill="#1f4289"/>
<circle cx="253.15" cy="281.64" r="0.98" fill="#1f4289"/>
<circle cx="259.12" cy="277.43" r="0.98" fill="#1f4289"/>
<circle cx="261.68" cy="278.66" r="0.98" fill="#1f4289"/>
<circle cx="260.70" cy="280.23" r="0.98" fill="#1f4289"/>
<circle cx="256.52" cy="276.89" r="0.98" fill="#1f4289"/>
<circle cx="255.01" cy="282.21" r="0.98" fill="#1f4289"/>
<circle cx="252.23" cy="288.24" r="0.98" fill="#1f4289"/>
<circle cx="259.19" cy="289.80" r="0.98" fill="#1f4289"/>
<circle cx="258.29" cy="285.21" r="0.98" fill="#1f4289"/>
<circle cx="255.95" cy="282.56" r="0.98" fill="#1f4289"/>
<circle cx="259.20" cy="278.71" r="0.98" fill="#1f4289"/>
<circle cx="256.98" cy="278.30" r="0.98" fill="#1f4289"/>
<circle cx="262.41" cy="275.68" r="0.98" fill="#1f4289"/>
<circle cx="260.17" cy="277.96" r="0.98" fill="#1f4289"/>
<circle cx="254.83" cy="282.74" r="0.98" fill="#1f4289"/>
<circle cx="262.04" cy="282.30" r="0.98" fill="#1f4289"/>
<circle cx="252.58" cy="289.67" r="0.98" fill="#1f4289"/>
<circle cx="257.95" cy="279.48" r="0.98" fill="#1f4289"/>
<circle cx="256.57" cy="276.06" r="0.98" fill="#1f4289"/>
<circle cx="254.71" cy="275.82" r="0.98" fill="#1f4289"/>
<circle cx="252.74" cy="279.23" r="0.98" fill="#1f4289"/>
<circle cx="260.67" cy="279.50" r="0.98" fill="#1f4289"/>
<circle cx="252.24" cy="273.70" r="0.98" fill="#1f4289"/>
<circle cx="258.16" cy="278.51" r="0.98" fill="#1f4289"/>
<circle cx="262.45" cy="274.73" r="0.98" fill="#1f4289"/>
<circle cx="253.66" cy="275.55" r="0.98" fill="#1f4289"/>
<circle cx="254.29" cy="277.48" r="0.98" fill="#1f4289"/>
<circle cx="258.79" cy="271.76" r="0.98" fill="#1f4289"/>
<circle cx="257.68" cy="281.59" r="0.98" fill="#1f4289"/>
<circle cx="259.16" cy="280.47" r="0.98" fill="#1f4289"/>
<line x1="279.00" y1="285.31" x2="279.00" y2="306.98" stroke="#3cc04c" stroke-width="0.55" stroke-opacity="0.8"/>
<rect x="272.50" y="292.78" width="13.00" height="5.98" fill="#98dc8e" fill-opacity="0.75"/>
<line x1="272.50" y1="295.02" x2="285.50" y2="295.02" stroke="#3cc04c" stroke-width="0.9"/>
<circle cx="276.32" cy="294.70" r="0.98" fill="#2c9a3c"/>
<circle cx="274.39" cy="298.33" r="0.98" fill="#2c9a3c"/>
<circle cx="277.36" cy="297.15" r="0.98" fill="#2c9a3c"/>
<circle cx="281.50" cy="292.25" r="0.98" fill="#2c9a3c"/>
<circle cx="280.95" cy="286.80" r="0.98" fill="#2c9a3c"/>
<circle cx="282.45" cy="292.95" r="0.98" fill="#2c9a3c"/>
<circle cx="281.12" cy="294.31" r="0.98" fill="#2c9a3c"/>
<circle cx="276.66" cy="302.73" r="0.98" fill="#2c9a3c"/>
<circle cx="279.54" cy="287.13" r="0.98" fill="#2c9a3c"/>
<circle cx="278.36" cy="295.43" r="0.98" fill="#2c9a3c"/>
<circle cx="281.88" cy="295.92" r="0.98" fill="#2c9a3c"/>
<circle cx="279.23" cy="300.78" r="0.98" fill="#2c9a3c"/>
<circle cx="276.65" cy="296.03" r="0.98" fill="#2c9a3c"/>
<circle cx="280.42" cy="300.68" r="0.98" fill="#2c9a3c"/>
<circle cx="283.65" cy="295.45" r="0.98" fill="#2c9a3c"/>
<circle cx="276.17" cy="293.68" r="0.98" fill="#2c9a3c"/>
<circle cx="282.80" cy="276.35" r="0.98" fill="#2c9a3c"/>
<line x1="297.00" y1="276.35" x2="297.00" y2="306.23" stroke="#d7263d" stroke-width="0.55" stroke-opacity="0.8"/>
<rect x="290.50" y="288.30" width="13.00" height="11.21" fill="#f58583" fill-opacity="0.75"/>
<line x1="290.50" y1="292.78" x2="303.50" y2="292.78" stroke="#d7263d" stroke-width="0.9"/>
<circle cx="300.49" cy="287.59" r="0.98" fill="#bd1230"/>
<circle cx="300.52" cy="292.29" r="0.98" fill="#bd1230"/>
<circle cx="301.30" cy="291.82" r="0.98" fill="#bd1230"/>
<circle cx="292.23" cy="281.73" r="0.98" fill="#bd1230"/>
<circle cx="301.05" cy="282.32" r="0.98" fill="#bd1230"/>
<circle cx="301.56" cy="296.57" r="0.98" fill="#bd1230"/>
<circle cx="301.89" cy="299.22" r="0.98" fill="#bd1230"/>
<circle cx="292.68" cy="280.52" r="0.98" fill="#bd1230"/>
<circle cx="293.76" cy="295.14" r="0.98" fill="#bd1230"/>
<circle cx="292.73" cy="288.41" r="0.98" fill="#bd1230"/>
<circle cx="291.88" cy="284.85" r="0.98" fill="#bd1230"/>
<circle cx="300.82" cy="297.99" r="0.98" fill="#bd1230"/>
<circle cx="300.43" cy="296.28" r="0.98" fill="#bd1230"/>
<circle cx="298.48" cy="302.10" r="0.98" fill="#bd1230"/>
<circle cx="300.58" cy="285.28" r="0.98" fill="#bd1230"/>
<circle cx="298.45" cy="293.78" r="0.98" fill="#bd1230"/>
<circle cx="294.66" cy="287.23" r="0.98" fill="#bd1230"/>
<circle cx="292.60" cy="301.57" r="0.98" fill="#bd1230"/>
<circle cx="292.58" cy="288.28" r="0.98" fill="#bd1230"/>
<circle cx="299.83" cy="298.41" r="0.98" fill="#bd1230"/>
<circle cx="293.75" cy="294.17" r="0.98" fill="#bd1230"/>
<circle cx="295.01" cy="301.41" r="0.98" fill="#bd1230"/>
<circle cx="296.16" cy="294.43" r="0.98" fill="#bd1230"/>
<circle cx="291.73" cy="288.45" r="0.98" fill="#bd1230"/>
<circle cx="294.32" cy="294.73" r="0.98" fill="#bd1230"/>
<circle cx="294.61" cy="294.67" r="0.98" fill="#bd1230"/>
<circle cx="299.37" cy="289.60" r="0.98" fill="#bd1230"/>
<circle cx="295.55" cy="294.78" r="0.98" fill="#bd1230"/>
<circle cx="295.03" cy="289.64" r="0.98" fill="#bd1230"/>
<circle cx="302.10" cy="292.25" r="0.98" fill="#bd1230"/>
<circle cx="297.04" cy="287.21" r="0.98" fill="#bd1230"/>
<circle cx="300.87" cy="295.45" r="0.98" fill="#bd1230"/>
<circle cx="298.30" cy="291.76" r="0.98" fill="#bd1230"/>
<circle cx="291.84" cy="291.52" r="0.98" fill="#bd1230"/>
<circle cx="296.04" cy="282.81" r="0.98" fill="#bd1230"/>
<circle cx="296.30" cy="290.11" r="0.98" fill="#bd1230"/>
<circle cx="300.00" cy="299.71" r="0.98" fill="#bd1230"/>
<circle cx="295.31" cy="300.53" r="0.98" fill="#bd1230"/>
<circle cx="299.25" cy="292.99" r="0.98" fill="#bd1230"/>
<circle cx="297.42" cy="295.26" r="0.98" fill="#bd1230"/>
<circle cx="293.88" cy="298.17" r="0.98" fill="#bd1230"/>
<circle cx="300.98" cy="296.22" r="0.98" fill="#bd1230"/>
<line x1="315.40" y1="283.82" x2="315.40" y2="303.99" stroke="#2b5aa6" stroke-width="0.55" stroke-opacity="0.8"/>
<rect x="308.90" y="292.78" width="13.00" height="6.72" fill="#8ea8dc" fill-opacity="0.75"/>
<line x1="308.90" y1="295.77" x2="321.90" y2="295.77" stroke="#2b5aa6" stroke-width="0.9"/>
<circle cx="310.18" cy="289.37" r="0.98" fill="#1f4289"/>
<circle cx="312.17" cy="291.66" r="0.98" fill="#1f4289"/>
<circle cx="312.80" cy="295.67" r="0.98" fill="#1f4289"/>
<circle cx="319.81" cy="295.59" r="0.98" fill="#1f4289"/>
<circle cx="315.41" cy="293.71" r="0.98" fill="#1f4289"/>
<circle cx="314.07" cy="289.12" r="0.98" fill="#1f4289"/>
<circle cx="319.62" cy="295.39" r="0.98" fill="#1f4289"/>
<circle cx="312.47" cy="295.83" r="0.98" fill="#1f4289"/>
<circle cx="314.97" cy="300.54" r="0.98" fill="#1f4289"/>
<circle cx="315.75" cy="295.50" r="0.98" fill="#1f4289"/>
<circle cx="318.20" cy="295.01" r="0.98" fill="#1f4289"/>
<circle cx="318.18" cy="298.28" r="0.98" fill="#1f4289"/>
<circle cx="317.01" cy="299.56" r="0.98" fill="#1f4289"/>
<circle cx="313.73" cy="295.64" r="0.98" fill="#1f4289"/>
<circle cx="313.49" cy="294.20" r="0.98" fill="#1f4289"/>
<circle cx="311.61" cy="298.55" r="0.98" fill="#1f4289"/>
<circle cx="319.17" cy="292.62" r="0.98" fill="#1f4289"/>
<circle cx="317.18" cy="296.93" r="0.98" fill="#1f4289"/>
<circle cx="318.06" cy="294.37" r="0.98" fill="#1f4289"/>
<circle cx="311.77" cy="289.56" r="0.98" fill="#1f4289"/>
<circle cx="314.73" cy="297.75" r="0.98" fill="#1f4289"/>
<circle cx="318.41" cy="295.75" r="0.98" fill="#1f4289"/>
<circle cx="316.27" cy="296.88" r="0.98" fill="#1f4289"/>
<circle cx="311.29" cy="297.05" r="0.98" fill="#1f4289"/>
<circle cx="314.98" cy="294.27" r="0.98" fill="#1f4289"/>
<circle cx="319.64" cy="301.94" r="0.98" fill="#1f4289"/>
<circle cx="312.52" cy="294.44" r="0.98" fill="#1f4289"/>
<circle cx="312.01" cy="301.39" r="0.98" fill="#1f4289"/>
<circle cx="313.22" cy="298.34" r="0.98" fill="#1f4289"/>
<circle cx="317.63" cy="292.49" r="0.98" fill="#1f4289"/>
<circle cx="319.18" cy="302.59" r="0.98" fill="#1f4289"/>
<circle cx="311.60" cy="290.46" r="0.98" fill="#1f4289"/>
<circle cx="311.62" cy="288.40" r="0.98" fill="#1f4289"/>
<circle cx="312.62" cy="291.34" r="0.98" fill="#1f4289"/>
<text x="334.00" y="180.70" font-size="10" font-weight="bold"  stroke="#231f20" stroke-width="0.4">F</text>
<text x="368.30" y="234.20" font-size="6.0" textLength="19.70" lengthAdjust="spacingAndGlyphs" stroke="#231f20" stroke-width="0.16"><tspan font-style="italic">P</tspan> = .33</text>
<line x1="368.30" y1="235.20" x2="388.00" y2="235.20" stroke="#444" stroke-width="0.5"/>
<text x="391.40" y="234.20" font-size="6.0" textLength="19.60" lengthAdjust="spacingAndGlyphs" stroke="#231f20" stroke-width="0.16"><tspan font-style="italic">P</tspan> = .56</text>
<line x1="391.40" y1="235.20" x2="411.00" y2="235.20" stroke="#444" stroke-width="0.5"/>
<text x="379.30" y="240.60" font-size="6.0" textLength="19.60" lengthAdjust="spacingAndGlyphs" stroke="#231f20" stroke-width="0.16"><tspan font-style="italic">P</tspan> = .86</text>
<line x1="370.00" y1="242.90" x2="408.10" y2="242.90" stroke="#777" stroke-width="0.75"/>
<line x1="362.50" y1="244.00" x2="362.50" y2="317.60" stroke="#231f20" stroke-width="1.0"/>
<line x1="360.10" y1="245.33" x2="362.50" y2="245.33" stroke="#231f20" stroke-width="0.8"/>
<text x="356.30" y="247.53" font-size="6.1" text-anchor="end" fill="#2a2a2a"  stroke="#2a2a2a" stroke-width="0.16">100</text>
<line x1="360.10" y1="257.36" x2="362.50" y2="257.36" stroke="#231f20" stroke-width="0.8"/>
<text x="356.30" y="259.56" font-size="6.1" text-anchor="end" fill="#2a2a2a"  stroke="#2a2a2a" stroke-width="0.16">80</text>
<line x1="360.10" y1="269.40" x2="362.50" y2="269.40" stroke="#231f20" stroke-width="0.8"/>
<text x="356.30" y="271.59" font-size="6.1" text-anchor="end" fill="#2a2a2a"  stroke="#2a2a2a" stroke-width="0.16">60</text>
<line x1="360.10" y1="281.43" x2="362.50" y2="281.43" stroke="#231f20" stroke-width="0.8"/>
<text x="356.30" y="283.63" font-size="6.1" text-anchor="end" fill="#2a2a2a"  stroke="#2a2a2a" stroke-width="0.16">40</text>
<line x1="360.10" y1="293.47" x2="362.50" y2="293.47" stroke="#231f20" stroke-width="0.8"/>
<text x="356.30" y="295.66" font-size="6.1" text-anchor="end" fill="#2a2a2a"  stroke="#2a2a2a" stroke-width="0.16">20</text>
<line x1="360.10" y1="305.50" x2="362.50" y2="305.50" stroke="#231f20" stroke-width="0.8"/>
<text x="356.30" y="307.70" font-size="6.1" text-anchor="end" fill="#2a2a2a"  stroke="#2a2a2a" stroke-width="0.16">0</text>
<line x1="360.10" y1="317.53" x2="362.50" y2="317.53" stroke="#231f20" stroke-width="0.8"/>
<text x="356.30" y="319.73" font-size="6.1" text-anchor="end" fill="#2a2a2a"  stroke="#2a2a2a" stroke-width="0.16">-20</text>
<line x1="362.50" y1="305.60" x2="415.40" y2="305.60" stroke="#231f20" stroke-width="1.0"/>
<line x1="362.50" y1="317.30" x2="415.40" y2="317.30" stroke="#231f20" stroke-width="1.0"/>
<text x="0" y="0" font-size="6.4" text-anchor="middle" textLength="40.50" lengthAdjust="spacingAndGlyphs" transform="translate(339.70,280.60) rotate(-90)"  stroke="#231f20" stroke-width="0.14">Kill of K562 (%)</text>
<line x1="373.60" y1="317.30" x2="373.60" y2="319.90" stroke="#231f20" stroke-width="0.9"/>
<line x1="389.20" y1="317.30" x2="389.20" y2="319.90" stroke="#231f20" stroke-width="0.9"/>
<line x1="405.30" y1="317.30" x2="405.30" y2="319.90" stroke="#231f20" stroke-width="0.9"/>
<text x="0" y="0" font-size="6.7" text-anchor="end" fill="#2a2a2a" textLength="19.50" lengthAdjust="spacingAndGlyphs" transform="translate(376.00,327.00) rotate(-30)" stroke="#2a2a2a" stroke-width="0.14">Healthy</text>
<text x="0" y="0" font-size="6.7" text-anchor="end" fill="#2a2a2a" textLength="48.50" lengthAdjust="spacingAndGlyphs" transform="translate(391.60,327.00) rotate(-30)" stroke="#2a2a2a" stroke-width="0.14">HGBL-MYC/BLC2</text>
<text x="0" y="0" font-size="6.7" text-anchor="end" fill="#2a2a2a" textLength="34.50" lengthAdjust="spacingAndGlyphs" transform="translate(407.70,327.00) rotate(-30)" stroke="#2a2a2a" stroke-width="0.14">DLBCL NOS</text>
<rect x="368.30" y="274.00" width="10.50" height="31.50" fill="#98d48f"/>
<line x1="373.55" y1="269.50" x2="373.55" y2="277.70" stroke="#2a8a3a" stroke-width="0.8"/>
<line x1="371.75" y1="269.50" x2="375.35" y2="269.50" stroke="#2a8a3a" stroke-width="0.8"/>
<line x1="371.75" y1="277.70" x2="375.35" y2="277.70" stroke="#2a8a3a" stroke-width="0.8"/>
<rect x="384.30" y="283.30" width="10.50" height="22.20" fill="#f08a85"/>
<line x1="389.55" y1="276.50" x2="389.55" y2="288.20" stroke="#a8102e" stroke-width="0.8"/>
<line x1="387.75" y1="276.50" x2="391.35" y2="276.50" stroke="#a8102e" stroke-width="0.8"/>
<line x1="387.75" y1="288.20" x2="391.35" y2="288.20" stroke="#a8102e" stroke-width="0.8"/>
<rect x="400.00" y="275.90" width="10.80" height="29.60" fill="#8fa5d2"/>
<line x1="405.40" y1="272.20" x2="405.40" y2="279.60" stroke="#1f3f86" stroke-width="0.8"/>
<line x1="403.60" y1="272.20" x2="407.20" y2="272.20" stroke="#1f3f86" stroke-width="0.8"/>
<line x1="403.60" y1="279.60" x2="407.20" y2="279.60" stroke="#1f3f86" stroke-width="0.8"/>
<circle cx="373.6" cy="255.9" r="1.3" fill="#2a8a3a"/>
<circle cx="369.2" cy="268.1" r="1.3" fill="#2a8a3a"/>
<circle cx="373.6" cy="268.7" r="1.3" fill="#2a8a3a"/>
<circle cx="377.5" cy="267.2" r="1.3" fill="#2a8a3a"/>
<circle cx="373.6" cy="276.5" r="1.3" fill="#2a8a3a"/>
<circle cx="373.6" cy="282" r="1.3" fill="#2a8a3a"/>
<circle cx="373.6" cy="294" r="1.3" fill="#2a8a3a"/>
<circle cx="389.2" cy="258.4" r="1.3" fill="#a8102e"/>
<circle cx="386.8" cy="262.6" r="1.3" fill="#a8102e"/>
<circle cx="392" cy="262.6" r="1.3" fill="#a8102e"/>
<circle cx="386.8" cy="272.4" r="1.3" fill="#a8102e"/>
<circle cx="392" cy="272.2" r="1.3" fill="#a8102e"/>
<circle cx="389.2" cy="276.8" r="1.3" fill="#a8102e"/>
<circle cx="389.2" cy="291.9" r="1.3" fill="#a8102e"/>
<circle cx="389.2" cy="295.8" r="1.3" fill="#a8102e"/>
<circle cx="386.8" cy="300.7" r="1.3" fill="#a8102e"/>
<circle cx="392" cy="301.7" r="1.3" fill="#a8102e"/>
<circle cx="389.2" cy="315" r="1.3" fill="#a8102e"/>
<path d="M401.00 264.57L402.38 266.97L399.62 266.97Z" fill="#1f3f86"/>
<path d="M403.70 266.47L405.08 268.87L402.32 268.87Z" fill="#1f3f86"/>
<path d="M406.50 264.87L407.88 267.27L405.12 267.27Z" fill="#1f3f86"/>
<path d="M409.60 264.87L410.98 267.27L408.22 267.27Z" fill="#1f3f86"/>
<path d="M406.50 268.07L407.88 270.47L405.12 270.47Z" fill="#1f3f86"/>
<path d="M401.00 276.27L402.38 278.67L399.62 278.67Z" fill="#1f3f86"/>
<path d="M403.70 277.87L405.08 280.27L402.32 280.27Z" fill="#1f3f86"/>
<path d="M406.50 277.87L407.88 280.27L405.12 280.27Z" fill="#1f3f86"/>
<path d="M403.70 280.37L405.08 282.77L402.32 282.77Z" fill="#1f3f86"/>
<path d="M405.30 289.87L406.68 292.27L403.92 292.27Z" fill="#1f3f86"/>
<text x="466.00" y="234.20" font-size="6.0" textLength="19.10" lengthAdjust="spacingAndGlyphs" stroke="#231f20" stroke-width="0.16"><tspan font-style="italic">P</tspan> = .02</text>
<line x1="466.00" y1="235.20" x2="485.10" y2="235.20" stroke="#444" stroke-width="0.5"/>
<text x="488.90" y="234.20" font-size="6.0" textLength="19.30" lengthAdjust="spacingAndGlyphs" stroke="#231f20" stroke-width="0.16"><tspan font-style="italic">P</tspan> = .17</text>
<line x1="488.90" y1="235.20" x2="508.20" y2="235.20" stroke="#444" stroke-width="0.5"/>
<text x="477.00" y="240.60" font-size="6.0" textLength="19.00" lengthAdjust="spacingAndGlyphs" stroke="#231f20" stroke-width="0.16"><tspan font-style="italic">P</tspan> = .18</text>
<line x1="467.80" y1="242.90" x2="505.30" y2="242.90" stroke="#777" stroke-width="0.75"/>
<line x1="458.50" y1="244.00" x2="458.50" y2="317.30" stroke="#231f20" stroke-width="1.0"/>
<line x1="456.10" y1="245.40" x2="458.50" y2="245.40" stroke="#231f20" stroke-width="0.8"/>
<text x="452.30" y="247.60" font-size="6.1" text-anchor="end" fill="#2a2a2a"  stroke="#2a2a2a" stroke-width="0.16">100</text>
<line x1="456.10" y1="259.78" x2="458.50" y2="259.78" stroke="#231f20" stroke-width="0.8"/>
<text x="452.30" y="261.98" font-size="6.1" text-anchor="end" fill="#2a2a2a"  stroke="#2a2a2a" stroke-width="0.16">80</text>
<line x1="456.10" y1="274.16" x2="458.50" y2="274.16" stroke="#231f20" stroke-width="0.8"/>
<text x="452.30" y="276.36" font-size="6.1" text-anchor="end" fill="#2a2a2a"  stroke="#2a2a2a" stroke-width="0.16">60</text>
<line x1="456.10" y1="288.54" x2="458.50" y2="288.54" stroke="#231f20" stroke-width="0.8"/>
<text x="452.30" y="290.74" font-size="6.1" text-anchor="end" fill="#2a2a2a"  stroke="#2a2a2a" stroke-width="0.16">40</text>
<line x1="456.10" y1="302.92" x2="458.50" y2="302.92" stroke="#231f20" stroke-width="0.8"/>
<text x="452.30" y="305.12" font-size="6.1" text-anchor="end" fill="#2a2a2a"  stroke="#2a2a2a" stroke-width="0.16">20</text>
<line x1="456.10" y1="317.30" x2="458.50" y2="317.30" stroke="#231f20" stroke-width="0.8"/>
<text x="452.30" y="319.50" font-size="6.1" text-anchor="end" fill="#2a2a2a"  stroke="#2a2a2a" stroke-width="0.16">0</text>
<line x1="458.50" y1="317.30" x2="510.00" y2="317.30" stroke="#231f20" stroke-width="1.0"/>
<text x="0" y="0" font-size="7" text-anchor="middle" textLength="26" lengthAdjust="spacingAndGlyphs" transform="translate(430.4,279.3) rotate(-90)" stroke="#231f20" stroke-width="0.14">CD107 a/b</text>
<text x="0" y="0" font-size="6.6" text-anchor="middle" textLength="61.4" lengthAdjust="spacingAndGlyphs" transform="translate(438.4,280.4) rotate(-90)" stroke="#231f20" stroke-width="0.14">(% of CNK-cells positive)</text>
<line x1="471.10" y1="317.30" x2="471.10" y2="319.90" stroke="#231f20" stroke-width="0.9"/>
<line x1="486.80" y1="317.30" x2="486.80" y2="319.90" stroke="#231f20" stroke-width="0.9"/>
<line x1="502.90" y1="317.30" x2="502.90" y2="319.90" stroke="#231f20" stroke-width="0.9"/>
<text x="0" y="0" font-size="6.7" text-anchor="end" fill="#2a2a2a" textLength="19.50" lengthAdjust="spacingAndGlyphs" transform="translate(473.50,326.70) rotate(-30)" stroke="#2a2a2a" stroke-width="0.14">Healthy</text>
<text x="0" y="0" font-size="6.7" text-anchor="end" fill="#2a2a2a" textLength="48.50" lengthAdjust="spacingAndGlyphs" transform="translate(489.20,326.70) rotate(-30)" stroke="#2a2a2a" stroke-width="0.14">HGBL-MYC/BLC2</text>
<text x="0" y="0" font-size="6.7" text-anchor="end" fill="#2a2a2a" textLength="34.50" lengthAdjust="spacingAndGlyphs" transform="translate(505.30,326.70) rotate(-30)" stroke="#2a2a2a" stroke-width="0.14">DLBCL NOS</text>
<line x1="466.20" y1="284.20" x2="476.00" y2="284.20" stroke="#3cb44a" stroke-width="1.0"/>
<line x1="482.20" y1="298.00" x2="492.30" y2="298.00" stroke="#c01a3a" stroke-width="1.0"/>
<line x1="498.20" y1="289.40" x2="507.80" y2="289.40" stroke="#2b4f9a" stroke-width="1.0"/>
<circle cx="471.1" cy="276.8" r="1.05" fill="#2a8a3a"/>
<circle cx="467.4" cy="283.3" r="1.05" fill="#2a8a3a"/>
<circle cx="471.1" cy="282.6" r="1.05" fill="#2a8a3a"/>
<circle cx="475.4" cy="284.7" r="1.05" fill="#2a8a3a"/>
<circle cx="471.1" cy="285.7" r="1.05" fill="#2a8a3a"/>
<circle cx="471.1" cy="290.4" r="1.05" fill="#2a8a3a"/>
<circle cx="471.1" cy="298" r="1.05" fill="#2a8a3a"/>
<circle cx="486.8" cy="281.4" r="1.05" fill="#a8102e"/>
<circle cx="482.8" cy="289.4" r="1.05" fill="#a8102e"/>
<circle cx="486.8" cy="291.3" r="1.05" fill="#a8102e"/>
<circle cx="486.8" cy="293.7" r="1.05" fill="#a8102e"/>
<circle cx="484.5" cy="297.6" r="1.05" fill="#a8102e"/>
<circle cx="489.5" cy="298.6" r="1.05" fill="#a8102e"/>
<circle cx="486.8" cy="299.3" r="1.05" fill="#a8102e"/>
<circle cx="486.8" cy="301.7" r="1.05" fill="#a8102e"/>
<circle cx="486.8" cy="311" r="1.05" fill="#a8102e"/>
<circle cx="486.8" cy="314" r="1.05" fill="#a8102e"/>
<path d="M502.90 271.22L504.04 273.20L501.76 273.20Z" fill="#1f3f86"/>
<path d="M502.90 278.12L504.04 280.10L501.76 280.10Z" fill="#1f3f86"/>
<path d="M502.90 285.52L504.04 287.50L501.76 287.50Z" fill="#1f3f86"/>
<path d="M500.60 293.12L501.74 295.10L499.46 295.10Z" fill="#1f3f86"/>
<path d="M505.00 293.82L506.14 295.80L503.86 295.80Z" fill="#1f3f86"/>
<path d="M502.90 298.72L504.04 300.70L501.76 300.70Z" fill="#1f3f86"/>
<path d="M502.90 301.12L504.04 303.10L501.76 303.10Z" fill="#1f3f86"/>
<path d="M502.90 305.22L504.04 307.20L501.76 307.20Z" fill="#1f3f86"/>
<path d="M500.50 288.42L501.64 290.40L499.36 290.40Z" fill="#1f3f86"/>
<path d="M505.50 288.02L506.64 290.00L504.36 290.00Z" fill="#1f3f86"/>
<rect x="370.8" y="356.8" width="4" height="4" fill="#2c9a3c"/>
<text x="377.30" y="361.00" font-size="5.8" textLength="19.90" lengthAdjust="spacingAndGlyphs"  stroke="#231f20" stroke-width="0.16">Healthy</text>
<circle cx="404.2" cy="359.0" r="2.1" fill="#bd1230"/>
<text x="408" y="361.0" font-size="5.8" textLength="51" lengthAdjust="spacingAndGlyphs" stroke="#231f20" stroke-width="0.16">HGBL-<tspan font-style="italic">MYC</tspan>/<tspan font-style="italic">BCL2</tspan></text>
<path d="M465.2 356.7L467.6 361.1L462.8 361.1Z" fill="#1f3f8a"/>
<text x="469.00" y="361.00" font-size="5.8" textLength="34.70" lengthAdjust="spacingAndGlyphs"  stroke="#231f20" stroke-width="0.16">DLBCL NOS</text>
<text x="7.10" y="401.10" font-size="10" font-weight="bold"  stroke="#231f20" stroke-width="0.4">D</text>
<text x="84.80" y="413.10" font-size="8" stroke="#231f20" stroke-width="0.14"><tspan>TIM-3</tspan><tspan font-size="5.6" dy="-2.75">+</tspan><tspan font-size="8" dy="2.75"> cells</tspan></text>
<line x1="50.80" y1="416.00" x2="159.80" y2="416.00" stroke="#666" stroke-width="1.0"/>
<text x="55.40" y="425.20" font-size="8" stroke="#231f20" stroke-width="0.14">CD56<tspan font-size="5.6" dy="-2.75" textLength="15.0" lengthAdjust="spacingAndGlyphs">bright</tspan></text>
<text x="117.70" y="425.20" font-size="8" stroke="#231f20" stroke-width="0.14">CD56<tspan font-size="5.6" dy="-2.75" textLength="9.2" lengthAdjust="spacingAndGlyphs">dim</tspan></text>
<text x="51.00" y="435.40" font-size="6.0" textLength="18.80" lengthAdjust="spacingAndGlyphs" stroke="#231f20" stroke-width="0.16"><tspan font-style="italic">P</tspan> = .01</text>
<line x1="51.00" y1="436.40" x2="69.80" y2="436.40" stroke="#444" stroke-width="0.5"/>
<text x="73.80" y="435.40" font-size="6.0" textLength="19.10" lengthAdjust="spacingAndGlyphs" stroke="#231f20" stroke-width="0.16"><tspan font-style="italic">P</tspan> = .49</text>
<line x1="73.80" y1="436.40" x2="92.90" y2="436.40" stroke="#444" stroke-width="0.5"/>
<text x="64.60" y="441.80" font-size="6.0" textLength="19.00" lengthAdjust="spacingAndGlyphs" stroke="#231f20" stroke-width="0.16"><tspan font-style="italic">P</tspan> = .02</text>
<line x1="52.50" y1="444.20" x2="90.00" y2="444.20" stroke="#777" stroke-width="0.75"/>
<text x="110.20" y="435.40" font-size="6.0" textLength="19.30" lengthAdjust="spacingAndGlyphs" stroke="#231f20" stroke-width="0.16"><tspan font-style="italic">P</tspan> = .82</text>
<line x1="110.20" y1="436.40" x2="129.50" y2="436.40" stroke="#444" stroke-width="0.5"/>
<text x="133.30" y="435.40" font-size="6.0" textLength="19.20" lengthAdjust="spacingAndGlyphs" stroke="#231f20" stroke-width="0.16"><tspan font-style="italic">P</tspan> = .05</text>
<line x1="133.30" y1="436.40" x2="152.50" y2="436.40" stroke="#444" stroke-width="0.5"/>
<text x="124.00" y="441.80" font-size="6.0" textLength="19.00" lengthAdjust="spacingAndGlyphs" stroke="#231f20" stroke-width="0.16"><tspan font-style="italic">P</tspan> = .07</text>
<line x1="111.90" y1="444.20" x2="149.40" y2="444.20" stroke="#777" stroke-width="0.75"/>
<line x1="44.50" y1="447.65" x2="44.50" y2="526.50" stroke="#231f20" stroke-width="1.0"/>
<line x1="42.10" y1="449.15" x2="44.50" y2="449.15" stroke="#231f20" stroke-width="0.8"/>
<text x="38.30" y="451.35" font-size="6.1" text-anchor="end" fill="#2a2a2a"  stroke="#2a2a2a" stroke-width="0.16">100</text>
<line x1="42.10" y1="467.71" x2="44.50" y2="467.71" stroke="#231f20" stroke-width="0.8"/>
<text x="38.30" y="469.91" font-size="6.1" text-anchor="end" fill="#2a2a2a"  stroke="#2a2a2a" stroke-width="0.16">75</text>
<line x1="42.10" y1="486.27" x2="44.50" y2="486.27" stroke="#231f20" stroke-width="0.8"/>
<text x="38.30" y="488.47" font-size="6.1" text-anchor="end" fill="#2a2a2a"  stroke="#2a2a2a" stroke-width="0.16">50</text>
<line x1="42.10" y1="504.84" x2="44.50" y2="504.84" stroke="#231f20" stroke-width="0.8"/>
<text x="38.30" y="507.03" font-size="6.1" text-anchor="end" fill="#2a2a2a"  stroke="#2a2a2a" stroke-width="0.16">25</text>
<line x1="42.10" y1="523.40" x2="44.50" y2="523.40" stroke="#231f20" stroke-width="0.8"/>
<text x="38.30" y="525.60" font-size="6.1" text-anchor="end" fill="#2a2a2a"  stroke="#2a2a2a" stroke-width="0.16">0</text>
<text x="0" y="0" font-size="6.8" text-anchor="middle" textLength="57.00" lengthAdjust="spacingAndGlyphs" transform="translate(22.00,486.60) rotate(-90)"  stroke="#231f20" stroke-width="0.14">Percentage of NK-cells</text>
<line x1="44.50" y1="526.50" x2="160.00" y2="526.50" stroke="#231f20" stroke-width="1.0"/>
<line x1="56.00" y1="526.50" x2="56.00" y2="529.10" stroke="#231f20" stroke-width="0.9"/>
<line x1="74.40" y1="526.50" x2="74.40" y2="529.10" stroke="#231f20" stroke-width="0.9"/>
<line x1="92.60" y1="526.50" x2="92.60" y2="529.10" stroke="#231f20" stroke-width="0.9"/>
<line x1="112.50" y1="526.50" x2="112.50" y2="529.10" stroke="#231f20" stroke-width="0.9"/>
<line x1="130.60" y1="526.50" x2="130.60" y2="529.10" stroke="#231f20" stroke-width="0.9"/>
<line x1="148.90" y1="526.50" x2="148.90" y2="529.10" stroke="#231f20" stroke-width="0.9"/>
<line x1="102.50" y1="443.00" x2="102.50" y2="526.50" stroke="#444" stroke-width="0.8" stroke-dasharray="1,1"/>
<text x="0" y="0" font-size="6.7" text-anchor="end" fill="#2a2a2a" textLength="19.50" lengthAdjust="spacingAndGlyphs" transform="translate(58.40,536.60) rotate(-30)" stroke="#2a2a2a" stroke-width="0.14">Healthy</text>
<text x="0" y="0" font-size="6.7" text-anchor="end" fill="#2a2a2a" textLength="48.50" lengthAdjust="spacingAndGlyphs" transform="translate(76.80,536.60) rotate(-30)" stroke="#2a2a2a" stroke-width="0.14">HGBL-MYC/BLC2</text>
<text x="0" y="0" font-size="6.7" text-anchor="end" fill="#2a2a2a" textLength="34.50" lengthAdjust="spacingAndGlyphs" transform="translate(95.00,536.60) rotate(-30)" stroke="#2a2a2a" stroke-width="0.14">DLBCL NOS</text>
<text x="0" y="0" font-size="6.7" text-anchor="end" fill="#2a2a2a" textLength="19.50" lengthAdjust="spacingAndGlyphs" transform="translate(114.90,536.60) rotate(-30)" stroke="#2a2a2a" stroke-width="0.14">Healthy</text>
<text x="0" y="0" font-size="6.7" text-anchor="end" fill="#2a2a2a" textLength="48.50" lengthAdjust="spacingAndGlyphs" transform="translate(133.00,536.60) rotate(-30)" stroke="#2a2a2a" stroke-width="0.14">HGBL-MYC/BLC2</text>
<text x="0" y="0" font-size="6.7" text-anchor="end" fill="#2a2a2a" textLength="34.50" lengthAdjust="spacingAndGlyphs" transform="translate(151.30,536.60) rotate(-30)" stroke="#2a2a2a" stroke-width="0.14">DLBCL NOS</text>
<line x1="56.00" y1="514.49" x2="56.00" y2="522.66" stroke="#3cc04c" stroke-width="0.55" stroke-opacity="0.8"/>
<rect x="49.50" y="516.72" width="13.00" height="3.71" fill="#98dc8e" fill-opacity="0.5"/>
<line x1="49.50" y1="518.57" x2="62.50" y2="518.57" stroke="#3cc04c" stroke-width="0.9"/>
<circle cx="54.72" cy="519.83" r="0.95" fill="#2c9a3c"/>
<circle cx="51.85" cy="516.17" r="0.95" fill="#2c9a3c"/>
<circle cx="57.16" cy="517.52" r="0.95" fill="#2c9a3c"/>
<circle cx="50.78" cy="516.89" r="0.95" fill="#2c9a3c"/>
<circle cx="51.98" cy="516.32" r="0.95" fill="#2c9a3c"/>
<circle cx="54.16" cy="514.49" r="0.95" fill="#2c9a3c"/>
<circle cx="49.91" cy="518.71" r="0.95" fill="#2c9a3c"/>
<circle cx="54.29" cy="519.60" r="0.95" fill="#2c9a3c"/>
<circle cx="58.99" cy="517.57" r="0.95" fill="#2c9a3c"/>
<circle cx="57.82" cy="518.82" r="0.95" fill="#2c9a3c"/>
<circle cx="55.51" cy="522.66" r="0.95" fill="#2c9a3c"/>
<circle cx="57.09" cy="514.49" r="0.95" fill="#2c9a3c"/>
<circle cx="55.06" cy="517.57" r="0.95" fill="#2c9a3c"/>
<circle cx="51.20" cy="522.05" r="0.95" fill="#2c9a3c"/>
<line x1="74.40" y1="513.75" x2="74.40" y2="523.40" stroke="#d7263d" stroke-width="0.55" stroke-opacity="0.8"/>
<rect x="67.90" y="518.20" width="13.00" height="3.71" fill="#f58583" fill-opacity="0.5"/>
<line x1="67.90" y1="520.43" x2="80.90" y2="520.43" stroke="#d7263d" stroke-width="0.9"/>
<circle cx="73.44" cy="522.71" r="0.95" fill="#bd1230"/>
<circle cx="75.51" cy="522.17" r="0.95" fill="#bd1230"/>
<circle cx="72.88" cy="520.78" r="0.95" fill="#bd1230"/>
<circle cx="76.17" cy="523.40" r="0.95" fill="#bd1230"/>
<circle cx="79.33" cy="523.40" r="0.95" fill="#bd1230"/>
<circle cx="70.07" cy="518.86" r="0.95" fill="#bd1230"/>
<circle cx="75.92" cy="520.45" r="0.95" fill="#bd1230"/>
<circle cx="77.45" cy="523.38" r="0.95" fill="#bd1230"/>
<circle cx="72.62" cy="519.82" r="0.95" fill="#bd1230"/>
<circle cx="73.87" cy="515.95" r="0.95" fill="#bd1230"/>
<circle cx="79.89" cy="516.88" r="0.95" fill="#bd1230"/>
<circle cx="68.27" cy="523.40" r="0.95" fill="#bd1230"/>
<circle cx="74.54" cy="522.13" r="0.95" fill="#bd1230"/>
<circle cx="69.79" cy="523.40" r="0.95" fill="#bd1230"/>
<circle cx="77.49" cy="522.16" r="0.95" fill="#bd1230"/>
<circle cx="79.46" cy="523.40" r="0.95" fill="#bd1230"/>
<circle cx="74.24" cy="522.77" r="0.95" fill="#bd1230"/>
<circle cx="69.05" cy="519.73" r="0.95" fill="#bd1230"/>
<circle cx="74.92" cy="521.32" r="0.95" fill="#bd1230"/>
<circle cx="74.51" cy="521.35" r="0.95" fill="#bd1230"/>
<circle cx="76.69" cy="523.40" r="0.95" fill="#bd1230"/>
<circle cx="74.15" cy="518.04" r="0.95" fill="#bd1230"/>
<circle cx="75.73" cy="521.34" r="0.95" fill="#bd1230"/>
<circle cx="78.08" cy="523.40" r="0.95" fill="#bd1230"/>
<circle cx="74.27" cy="520.43" r="0.95" fill="#bd1230"/>
<circle cx="72.89" cy="517.47" r="0.95" fill="#bd1230"/>
<line x1="92.60" y1="514.49" x2="92.60" y2="523.40" stroke="#2b5aa6" stroke-width="0.55" stroke-opacity="0.8"/>
<rect x="86.10" y="518.94" width="13.00" height="3.34" fill="#8ea8dc" fill-opacity="0.5"/>
<line x1="86.10" y1="521.17" x2="99.10" y2="521.17" stroke="#2b5aa6" stroke-width="0.9"/>
<circle cx="88.03" cy="519.82" r="0.95" fill="#1f4289"/>
<circle cx="87.00" cy="521.63" r="0.95" fill="#1f4289"/>
<circle cx="95.03" cy="522.00" r="0.95" fill="#1f4289"/>
<circle cx="95.44" cy="523.07" r="0.95" fill="#1f4289"/>
<circle cx="93.27" cy="521.09" r="0.95" fill="#1f4289"/>
<circle cx="91.22" cy="522.23" r="0.95" fill="#1f4289"/>
<circle cx="92.37" cy="519.23" r="0.95" fill="#1f4289"/>
<circle cx="88.20" cy="521.36" r="0.95" fill="#1f4289"/>
<circle cx="97.35" cy="519.61" r="0.95" fill="#1f4289"/>
<circle cx="89.78" cy="520.59" r="0.95" fill="#1f4289"/>
<circle cx="93.32" cy="521.45" r="0.95" fill="#1f4289"/>
<circle cx="95.55" cy="520.97" r="0.95" fill="#1f4289"/>
<circle cx="95.52" cy="523.07" r="0.95" fill="#1f4289"/>
<circle cx="91.20" cy="520.11" r="0.95" fill="#1f4289"/>
<circle cx="89.05" cy="521.79" r="0.95" fill="#1f4289"/>
<circle cx="92.20" cy="523.01" r="0.95" fill="#1f4289"/>
<circle cx="86.95" cy="521.31" r="0.95" fill="#1f4289"/>
<circle cx="95.74" cy="519.70" r="0.95" fill="#1f4289"/>
<circle cx="89.80" cy="521.44" r="0.95" fill="#1f4289"/>
<circle cx="95.95" cy="523.40" r="0.95" fill="#1f4289"/>
<circle cx="88.72" cy="522.61" r="0.95" fill="#1f4289"/>
<circle cx="90.06" cy="521.42" r="0.95" fill="#1f4289"/>
<circle cx="88.54" cy="520.51" r="0.95" fill="#1f4289"/>
<circle cx="90.68" cy="523.14" r="0.95" fill="#1f4289"/>
<circle cx="87.71" cy="514.49" r="0.95" fill="#1f4289"/>
<circle cx="85.43" cy="512.26" r="0.95" fill="#1f4289"/>
<circle cx="94.35" cy="513.00" r="0.95" fill="#1f4289"/>
<line x1="112.50" y1="518.94" x2="112.50" y2="522.66" stroke="#3cc04c" stroke-width="0.55" stroke-opacity="0.8"/>
<rect x="106.00" y="520.06" width="13.00" height="1.86" fill="#98dc8e" fill-opacity="0.5"/>
<line x1="106.00" y1="521.17" x2="119.00" y2="521.17" stroke="#3cc04c" stroke-width="0.9"/>
<circle cx="116.96" cy="521.30" r="0.95" fill="#2c9a3c"/>
<circle cx="115.62" cy="520.52" r="0.95" fill="#2c9a3c"/>
<circle cx="108.54" cy="521.50" r="0.95" fill="#2c9a3c"/>
<circle cx="116.14" cy="520.21" r="0.95" fill="#2c9a3c"/>
<circle cx="113.96" cy="522.32" r="0.95" fill="#2c9a3c"/>
<circle cx="107.16" cy="520.62" r="0.95" fill="#2c9a3c"/>
<circle cx="107.13" cy="521.63" r="0.95" fill="#2c9a3c"/>
<circle cx="117.47" cy="521.88" r="0.95" fill="#2c9a3c"/>
<circle cx="114.22" cy="519.60" r="0.95" fill="#2c9a3c"/>
<circle cx="109.75" cy="521.93" r="0.95" fill="#2c9a3c"/>
<circle cx="108.12" cy="519.61" r="0.95" fill="#2c9a3c"/>
<circle cx="108.57" cy="520.59" r="0.95" fill="#2c9a3c"/>
<line x1="130.60" y1="514.49" x2="130.60" y2="523.40" stroke="#d7263d" stroke-width="0.55" stroke-opacity="0.8"/>
<rect x="124.10" y="518.20" width="13.00" height="4.08" fill="#f58583" fill-opacity="0.5"/>
<line x1="124.10" y1="521.17" x2="137.10" y2="521.17" stroke="#d7263d" stroke-width="0.9"/>
<circle cx="130.52" cy="519.97" r="0.95" fill="#bd1230"/>
<circle cx="125.30" cy="515.96" r="0.95" fill="#bd1230"/>
<circle cx="130.21" cy="521.28" r="0.95" fill="#bd1230"/>
<circle cx="126.33" cy="519.20" r="0.95" fill="#bd1230"/>
<circle cx="130.50" cy="516.64" r="0.95" fill="#bd1230"/>
<circle cx="130.58" cy="523.04" r="0.95" fill="#bd1230"/>
<circle cx="131.07" cy="517.73" r="0.95" fill="#bd1230"/>
<circle cx="134.95" cy="515.67" r="0.95" fill="#bd1230"/>
<circle cx="124.68" cy="523.40" r="0.95" fill="#bd1230"/>
<circle cx="134.69" cy="523.28" r="0.95" fill="#bd1230"/>
<circle cx="130.22" cy="523.13" r="0.95" fill="#bd1230"/>
<circle cx="131.35" cy="523.40" r="0.95" fill="#bd1230"/>
<circle cx="132.58" cy="519.25" r="0.95" fill="#bd1230"/>
<circle cx="134.69" cy="523.40" r="0.95" fill="#bd1230"/>
<circle cx="129.10" cy="519.13" r="0.95" fill="#bd1230"/>
<circle cx="129.63" cy="516.65" r="0.95" fill="#bd1230"/>
<circle cx="136.13" cy="523.40" r="0.95" fill="#bd1230"/>
<circle cx="125.50" cy="521.25" r="0.95" fill="#bd1230"/>
<circle cx="132.24" cy="523.40" r="0.95" fill="#bd1230"/>
<circle cx="132.23" cy="518.41" r="0.95" fill="#bd1230"/>
<circle cx="124.94" cy="522.35" r="0.95" fill="#bd1230"/>
<circle cx="131.92" cy="521.12" r="0.95" fill="#bd1230"/>
<circle cx="132.79" cy="520.29" r="0.95" fill="#bd1230"/>
<circle cx="135.78" cy="519.01" r="0.95" fill="#bd1230"/>
<circle cx="128.57" cy="512.26" r="0.95" fill="#bd1230"/>
<circle cx="136.38" cy="511.52" r="0.95" fill="#bd1230"/>
<line x1="148.90" y1="518.20" x2="148.90" y2="523.40" stroke="#2b5aa6" stroke-width="0.55" stroke-opacity="0.8"/>
<rect x="142.40" y="520.80" width="13.00" height="2.00" fill="#8ea8dc" fill-opacity="0.5"/>
<line x1="142.40" y1="521.91" x2="155.40" y2="521.91" stroke="#2b5aa6" stroke-width="0.9"/>
<circle cx="148.94" cy="523.40" r="0.95" fill="#1f4289"/>
<circle cx="146.16" cy="522.02" r="0.95" fill="#1f4289"/>
<circle cx="148.98" cy="521.63" r="0.95" fill="#1f4289"/>
<circle cx="154.60" cy="522.13" r="0.95" fill="#1f4289"/>
<circle cx="150.75" cy="522.29" r="0.95" fill="#1f4289"/>
<circle cx="152.40" cy="523.40" r="0.95" fill="#1f4289"/>
<circle cx="146.87" cy="523.32" r="0.95" fill="#1f4289"/>
<circle cx="146.71" cy="519.66" r="0.95" fill="#1f4289"/>
<circle cx="146.49" cy="522.93" r="0.95" fill="#1f4289"/>
<circle cx="149.94" cy="520.79" r="0.95" fill="#1f4289"/>
<circle cx="150.52" cy="523.40" r="0.95" fill="#1f4289"/>
<circle cx="152.31" cy="522.28" r="0.95" fill="#1f4289"/>
<circle cx="143.38" cy="521.57" r="0.95" fill="#1f4289"/>
<circle cx="151.57" cy="520.53" r="0.95" fill="#1f4289"/>
<circle cx="153.53" cy="523.40" r="0.95" fill="#1f4289"/>
<circle cx="149.44" cy="521.12" r="0.95" fill="#1f4289"/>
<circle cx="143.50" cy="521.40" r="0.95" fill="#1f4289"/>
<circle cx="146.50" cy="522.90" r="0.95" fill="#1f4289"/>
<circle cx="142.97" cy="521.28" r="0.95" fill="#1f4289"/>
<circle cx="145.18" cy="523.12" r="0.95" fill="#1f4289"/>
<circle cx="153.96" cy="504.84" r="0.95" fill="#1f4289"/>
<circle cx="150.20" cy="518.20" r="0.95" fill="#1f4289"/>
<text x="254.30" y="413.30" font-size="8" stroke="#231f20" stroke-width="0.14"><tspan>DNAM-1</tspan><tspan font-size="5.6" dy="-2.75">+</tspan><tspan font-size="8" dy="2.75"> cells</tspan></text>
<line x1="225.50" y1="416.00" x2="335.60" y2="416.00" stroke="#666" stroke-width="1.0"/>
<text x="234.70" y="425.20" font-size="8" stroke="#231f20" stroke-width="0.14">CD56<tspan font-size="5.6" dy="-2.75" textLength="15.0" lengthAdjust="spacingAndGlyphs">bright</tspan></text>
<text x="297.00" y="425.20" font-size="8" stroke="#231f20" stroke-width="0.14">CD56<tspan font-size="5.6" dy="-2.75" textLength="9.2" lengthAdjust="spacingAndGlyphs">dim</tspan></text>
<text x="226.00" y="435.40" font-size="6.0" textLength="25.40" lengthAdjust="spacingAndGlyphs" stroke="#231f20" stroke-width="0.16"><tspan font-style="italic">P</tspan> &lt; .0001</text>
<line x1="230.60" y1="436.40" x2="251.40" y2="436.40" stroke="#444" stroke-width="0.5"/>
<text x="253.70" y="435.40" font-size="6.0" textLength="19.60" lengthAdjust="spacingAndGlyphs" stroke="#231f20" stroke-width="0.16"><tspan font-style="italic">P</tspan> = .56</text>
<line x1="253.70" y1="436.40" x2="273.30" y2="436.40" stroke="#444" stroke-width="0.5"/>
<text x="241.00" y="441.80" font-size="6.0" textLength="25.40" lengthAdjust="spacingAndGlyphs" stroke="#231f20" stroke-width="0.16"><tspan font-style="italic">P</tspan> &lt; .0001</text>
<line x1="232.40" y1="443.80" x2="269.30" y2="443.80" stroke="#777" stroke-width="0.75"/>
<text x="289.20" y="435.40" font-size="6.0" textLength="19.10" lengthAdjust="spacingAndGlyphs" stroke="#231f20" stroke-width="0.16"><tspan font-style="italic">P</tspan> = .01</text>
<line x1="289.20" y1="436.40" x2="308.30" y2="436.40" stroke="#444" stroke-width="0.5"/>
<text x="312.20" y="435.40" font-size="6.0" textLength="19.60" lengthAdjust="spacingAndGlyphs" stroke="#231f20" stroke-width="0.16"><tspan font-style="italic">P</tspan> = .93</text>
<line x1="312.20" y1="436.40" x2="331.80" y2="436.40" stroke="#444" stroke-width="0.5"/>
<text x="301.60" y="441.80" font-size="6.0" textLength="23.70" lengthAdjust="spacingAndGlyphs" stroke="#231f20" stroke-width="0.16"><tspan font-style="italic">P</tspan> = .009</text>
<line x1="291.20" y1="443.80" x2="328.70" y2="443.80" stroke="#777" stroke-width="0.75"/>
<line x1="223.50" y1="447.50" x2="223.50" y2="527.50" stroke="#231f20" stroke-width="1.0"/>
<line x1="221.10" y1="449.00" x2="223.50" y2="449.00" stroke="#231f20" stroke-width="0.8"/>
<text x="217.30" y="451.20" font-size="6.1" text-anchor="end" fill="#2a2a2a"  stroke="#2a2a2a" stroke-width="0.16">100</text>
<line x1="221.10" y1="467.57" x2="223.50" y2="467.57" stroke="#231f20" stroke-width="0.8"/>
<text x="217.30" y="469.77" font-size="6.1" text-anchor="end" fill="#2a2a2a"  stroke="#2a2a2a" stroke-width="0.16">75</text>
<line x1="221.10" y1="486.15" x2="223.50" y2="486.15" stroke="#231f20" stroke-width="0.8"/>
<text x="217.30" y="488.35" font-size="6.1" text-anchor="end" fill="#2a2a2a"  stroke="#2a2a2a" stroke-width="0.16">50</text>
<line x1="221.10" y1="504.72" x2="223.50" y2="504.72" stroke="#231f20" stroke-width="0.8"/>
<text x="217.30" y="506.92" font-size="6.1" text-anchor="end" fill="#2a2a2a"  stroke="#2a2a2a" stroke-width="0.16">25</text>
<line x1="221.10" y1="523.30" x2="223.50" y2="523.30" stroke="#231f20" stroke-width="0.8"/>
<text x="217.30" y="525.50" font-size="6.1" text-anchor="end" fill="#2a2a2a"  stroke="#2a2a2a" stroke-width="0.16">0</text>
<text x="0" y="0" font-size="6.8" text-anchor="middle" textLength="57.00" lengthAdjust="spacingAndGlyphs" transform="translate(201.50,486.80) rotate(-90)"  stroke="#231f20" stroke-width="0.14">Percentage of NK-cells</text>
<line x1="223.50" y1="527.50" x2="335.80" y2="527.50" stroke="#231f20" stroke-width="1.0"/>
<line x1="234.60" y1="527.50" x2="234.60" y2="530.10" stroke="#231f20" stroke-width="0.9"/>
<line x1="252.50" y1="527.50" x2="252.50" y2="530.10" stroke="#231f20" stroke-width="0.9"/>
<line x1="270.70" y1="527.50" x2="270.70" y2="530.10" stroke="#231f20" stroke-width="0.9"/>
<line x1="292.00" y1="527.50" x2="292.00" y2="530.10" stroke="#231f20" stroke-width="0.9"/>
<line x1="310.20" y1="527.50" x2="310.20" y2="530.10" stroke="#231f20" stroke-width="0.9"/>
<line x1="327.70" y1="527.50" x2="327.70" y2="530.10" stroke="#231f20" stroke-width="0.9"/>
<line x1="281.50" y1="443.00" x2="281.50" y2="527.50" stroke="#444" stroke-width="0.8" stroke-dasharray="1,1"/>
<text x="0" y="0" font-size="6.7" text-anchor="end" fill="#2a2a2a" textLength="19.50" lengthAdjust="spacingAndGlyphs" transform="translate(237.00,537.10) rotate(-30)" stroke="#2a2a2a" stroke-width="0.14">Healthy</text>
<text x="0" y="0" font-size="6.7" text-anchor="end" fill="#2a2a2a" textLength="48.50" lengthAdjust="spacingAndGlyphs" transform="translate(254.90,537.10) rotate(-30)" stroke="#2a2a2a" stroke-width="0.14">HGBL-MYC/BLC2</text>
<text x="0" y="0" font-size="6.7" text-anchor="end" fill="#2a2a2a" textLength="34.50" lengthAdjust="spacingAndGlyphs" transform="translate(273.10,537.10) rotate(-30)" stroke="#2a2a2a" stroke-width="0.14">DLBCL NOS</text>
<text x="0" y="0" font-size="6.7" text-anchor="end" fill="#2a2a2a" textLength="19.50" lengthAdjust="spacingAndGlyphs" transform="translate(294.40,537.10) rotate(-30)" stroke="#2a2a2a" stroke-width="0.14">Healthy</text>
<text x="0" y="0" font-size="6.7" text-anchor="end" fill="#2a2a2a" textLength="48.50" lengthAdjust="spacingAndGlyphs" transform="translate(312.60,537.10) rotate(-30)" stroke="#2a2a2a" stroke-width="0.14">HGBL-MYC/BLC2</text>
<text x="0" y="0" font-size="6.7" text-anchor="end" fill="#2a2a2a" textLength="34.50" lengthAdjust="spacingAndGlyphs" transform="translate(330.10,537.10) rotate(-30)" stroke="#2a2a2a" stroke-width="0.14">DLBCL NOS</text>
<line x1="234.60" y1="449.37" x2="234.60" y2="451.97" stroke="#3cc04c" stroke-width="0.55" stroke-opacity="0.8"/>
<rect x="228.10" y="449.74" width="13.00" height="1.49" fill="#98dc8e" fill-opacity="0.5"/>
<line x1="228.10" y1="450.49" x2="241.10" y2="450.49" stroke="#3cc04c" stroke-width="0.9"/>
<circle cx="237.35" cy="451.20" r="0.98" fill="#2c9a3c"/>
<circle cx="238.74" cy="451.58" r="0.98" fill="#2c9a3c"/>
<circle cx="236.16" cy="449.62" r="0.98" fill="#2c9a3c"/>
<circle cx="233.29" cy="451.03" r="0.98" fill="#2c9a3c"/>
<circle cx="237.83" cy="451.26" r="0.98" fill="#2c9a3c"/>
<circle cx="237.47" cy="451.18" r="0.98" fill="#2c9a3c"/>
<circle cx="235.22" cy="450.82" r="0.98" fill="#2c9a3c"/>
<circle cx="232.18" cy="451.43" r="0.98" fill="#2c9a3c"/>
<circle cx="232.62" cy="450.70" r="0.98" fill="#2c9a3c"/>
<circle cx="233.82" cy="450.95" r="0.98" fill="#2c9a3c"/>
<circle cx="232.78" cy="450.90" r="0.98" fill="#2c9a3c"/>
<circle cx="233.91" cy="451.20" r="0.98" fill="#2c9a3c"/>
<circle cx="236.02" cy="450.46" r="0.98" fill="#2c9a3c"/>
<circle cx="238.94" cy="450.83" r="0.98" fill="#2c9a3c"/>
<circle cx="230.15" cy="450.40" r="0.98" fill="#2c9a3c"/>
<circle cx="235.28" cy="450.30" r="0.98" fill="#2c9a3c"/>
<line x1="252.50" y1="449.37" x2="252.50" y2="463.86" stroke="#d7263d" stroke-width="0.55" stroke-opacity="0.8"/>
<rect x="246.00" y="451.23" width="13.00" height="5.94" fill="#f58583" fill-opacity="0.5"/>
<line x1="246.00" y1="453.46" x2="259.00" y2="453.46" stroke="#d7263d" stroke-width="0.9"/>
<circle cx="252.07" cy="451.83" r="0.98" fill="#bd1230"/>
<circle cx="257.26" cy="453.05" r="0.98" fill="#bd1230"/>
<circle cx="249.79" cy="451.84" r="0.98" fill="#bd1230"/>
<circle cx="257.61" cy="457.52" r="0.98" fill="#bd1230"/>
<circle cx="254.89" cy="450.29" r="0.98" fill="#bd1230"/>
<circle cx="247.13" cy="455.24" r="0.98" fill="#bd1230"/>
<circle cx="247.16" cy="450.16" r="0.98" fill="#bd1230"/>
<circle cx="254.16" cy="453.16" r="0.98" fill="#bd1230"/>
<circle cx="255.99" cy="460.06" r="0.98" fill="#bd1230"/>
<circle cx="247.88" cy="457.76" r="0.98" fill="#bd1230"/>
<circle cx="250.42" cy="449.69" r="0.98" fill="#bd1230"/>
<circle cx="255.02" cy="453.92" r="0.98" fill="#bd1230"/>
<circle cx="248.83" cy="454.78" r="0.98" fill="#bd1230"/>
<circle cx="256.47" cy="452.65" r="0.98" fill="#bd1230"/>
<circle cx="252.35" cy="454.88" r="0.98" fill="#bd1230"/>
<circle cx="247.66" cy="455.28" r="0.98" fill="#bd1230"/>
<circle cx="251.04" cy="453.12" r="0.98" fill="#bd1230"/>
<circle cx="253.32" cy="452.98" r="0.98" fill="#bd1230"/>
<circle cx="251.83" cy="449.37" r="0.98" fill="#bd1230"/>
<circle cx="254.45" cy="453.31" r="0.98" fill="#bd1230"/>
<circle cx="248.59" cy="449.37" r="0.98" fill="#bd1230"/>
<circle cx="255.77" cy="449.37" r="0.98" fill="#bd1230"/>
<circle cx="251.00" cy="449.37" r="0.98" fill="#bd1230"/>
<circle cx="254.09" cy="449.91" r="0.98" fill="#bd1230"/>
<circle cx="253.93" cy="453.02" r="0.98" fill="#bd1230"/>
<circle cx="251.60" cy="453.00" r="0.98" fill="#bd1230"/>
<circle cx="251.24" cy="453.93" r="0.98" fill="#bd1230"/>
<circle cx="255.65" cy="455.90" r="0.98" fill="#bd1230"/>
<circle cx="257.39" cy="453.68" r="0.98" fill="#bd1230"/>
<circle cx="255.63" cy="455.60" r="0.98" fill="#bd1230"/>
<circle cx="253.23" cy="449.37" r="0.98" fill="#bd1230"/>
<circle cx="250.22" cy="451.67" r="0.98" fill="#bd1230"/>
<circle cx="247.67" cy="454.95" r="0.98" fill="#bd1230"/>
<circle cx="257.71" cy="459.86" r="0.98" fill="#bd1230"/>
<circle cx="254.74" cy="453.64" r="0.98" fill="#bd1230"/>
<circle cx="256.10" cy="454.85" r="0.98" fill="#bd1230"/>
<circle cx="250.65" cy="457.09" r="0.98" fill="#bd1230"/>
<circle cx="253.66" cy="457.26" r="0.98" fill="#bd1230"/>
<circle cx="257.75" cy="472.78" r="0.98" fill="#bd1230"/>
<circle cx="256.14" cy="467.57" r="0.98" fill="#bd1230"/>
<circle cx="253.61" cy="464.60" r="0.98" fill="#bd1230"/>
<line x1="270.70" y1="449.37" x2="270.70" y2="460.14" stroke="#2b5aa6" stroke-width="0.55" stroke-opacity="0.8"/>
<rect x="264.20" y="450.49" width="13.00" height="5.20" fill="#8ea8dc" fill-opacity="0.5"/>
<line x1="264.20" y1="452.71" x2="277.20" y2="452.71" stroke="#2b5aa6" stroke-width="0.9"/>
<circle cx="272.65" cy="453.71" r="0.98" fill="#1f4289"/>
<circle cx="270.32" cy="450.15" r="0.98" fill="#1f4289"/>
<circle cx="267.47" cy="450.79" r="0.98" fill="#1f4289"/>
<circle cx="268.00" cy="454.35" r="0.98" fill="#1f4289"/>
<circle cx="273.46" cy="454.12" r="0.98" fill="#1f4289"/>
<circle cx="273.91" cy="455.95" r="0.98" fill="#1f4289"/>
<circle cx="270.26" cy="449.37" r="0.98" fill="#1f4289"/>
<circle cx="266.16" cy="455.58" r="0.98" fill="#1f4289"/>
<circle cx="274.07" cy="452.75" r="0.98" fill="#1f4289"/>
<circle cx="273.69" cy="452.57" r="0.98" fill="#1f4289"/>
<circle cx="267.76" cy="452.94" r="0.98" fill="#1f4289"/>
<circle cx="271.58" cy="450.00" r="0.98" fill="#1f4289"/>
<circle cx="275.07" cy="456.81" r="0.98" fill="#1f4289"/>
<circle cx="274.94" cy="455.19" r="0.98" fill="#1f4289"/>
<circle cx="270.94" cy="452.13" r="0.98" fill="#1f4289"/>
<circle cx="270.44" cy="453.21" r="0.98" fill="#1f4289"/>
<circle cx="271.68" cy="450.34" r="0.98" fill="#1f4289"/>
<circle cx="267.28" cy="456.83" r="0.98" fill="#1f4289"/>
<circle cx="267.32" cy="450.44" r="0.98" fill="#1f4289"/>
<circle cx="267.19" cy="455.22" r="0.98" fill="#1f4289"/>
<circle cx="272.91" cy="453.47" r="0.98" fill="#1f4289"/>
<circle cx="269.19" cy="449.37" r="0.98" fill="#1f4289"/>
<circle cx="271.41" cy="451.33" r="0.98" fill="#1f4289"/>
<circle cx="269.63" cy="456.41" r="0.98" fill="#1f4289"/>
<circle cx="270.89" cy="450.66" r="0.98" fill="#1f4289"/>
<circle cx="266.84" cy="453.95" r="0.98" fill="#1f4289"/>
<circle cx="265.69" cy="449.87" r="0.98" fill="#1f4289"/>
<circle cx="276.17" cy="451.03" r="0.98" fill="#1f4289"/>
<circle cx="269.31" cy="452.20" r="0.98" fill="#1f4289"/>
<circle cx="266.37" cy="454.38" r="0.98" fill="#1f4289"/>
<circle cx="272.16" cy="452.71" r="0.98" fill="#1f4289"/>
<circle cx="273.86" cy="458.74" r="0.98" fill="#1f4289"/>
<circle cx="266.92" cy="452.36" r="0.98" fill="#1f4289"/>
<circle cx="271.77" cy="449.37" r="0.98" fill="#1f4289"/>
<line x1="292.00" y1="449.37" x2="292.00" y2="451.97" stroke="#3cc04c" stroke-width="0.55" stroke-opacity="0.8"/>
<rect x="285.50" y="449.74" width="13.00" height="1.49" fill="#98dc8e" fill-opacity="0.5"/>
<line x1="285.50" y1="450.49" x2="298.50" y2="450.49" stroke="#3cc04c" stroke-width="0.9"/>
<circle cx="296.63" cy="450.99" r="0.98" fill="#2c9a3c"/>
<circle cx="289.54" cy="449.74" r="0.98" fill="#2c9a3c"/>
<circle cx="287.38" cy="450.29" r="0.98" fill="#2c9a3c"/>
<circle cx="289.01" cy="450.46" r="0.98" fill="#2c9a3c"/>
<circle cx="288.81" cy="449.37" r="0.98" fill="#2c9a3c"/>
<circle cx="287.84" cy="450.58" r="0.98" fill="#2c9a3c"/>
<circle cx="287.51" cy="451.44" r="0.98" fill="#2c9a3c"/>
<circle cx="292.57" cy="450.40" r="0.98" fill="#2c9a3c"/>
<circle cx="295.71" cy="450.58" r="0.98" fill="#2c9a3c"/>
<circle cx="291.58" cy="449.37" r="0.98" fill="#2c9a3c"/>
<circle cx="296.47" cy="451.97" r="0.98" fill="#2c9a3c"/>
<circle cx="296.10" cy="449.68" r="0.98" fill="#2c9a3c"/>
<circle cx="287.64" cy="450.34" r="0.98" fill="#2c9a3c"/>
<circle cx="292.98" cy="451.85" r="0.98" fill="#2c9a3c"/>
<line x1="310.20" y1="449.37" x2="310.20" y2="460.89" stroke="#d7263d" stroke-width="0.55" stroke-opacity="0.8"/>
<rect x="303.70" y="450.86" width="13.00" height="4.83" fill="#f58583" fill-opacity="0.5"/>
<line x1="303.70" y1="452.71" x2="316.70" y2="452.71" stroke="#d7263d" stroke-width="0.9"/>
<circle cx="308.26" cy="453.77" r="0.98" fill="#bd1230"/>
<circle cx="307.53" cy="451.93" r="0.98" fill="#bd1230"/>
<circle cx="306.07" cy="450.77" r="0.98" fill="#bd1230"/>
<circle cx="309.99" cy="453.22" r="0.98" fill="#bd1230"/>
<circle cx="306.55" cy="456.13" r="0.98" fill="#bd1230"/>
<circle cx="307.32" cy="454.18" r="0.98" fill="#bd1230"/>
<circle cx="306.27" cy="449.37" r="0.98" fill="#bd1230"/>
<circle cx="312.15" cy="453.76" r="0.98" fill="#bd1230"/>
<circle cx="304.84" cy="454.94" r="0.98" fill="#bd1230"/>
<circle cx="312.59" cy="450.95" r="0.98" fill="#bd1230"/>
<circle cx="306.85" cy="449.37" r="0.98" fill="#bd1230"/>
<circle cx="305.10" cy="449.37" r="0.98" fill="#bd1230"/>
<circle cx="314.90" cy="450.88" r="0.98" fill="#bd1230"/>
<circle cx="307.13" cy="452.81" r="0.98" fill="#bd1230"/>
<circle cx="314.97" cy="450.77" r="0.98" fill="#bd1230"/>
<circle cx="314.23" cy="452.23" r="0.98" fill="#bd1230"/>
<circle cx="314.48" cy="456.07" r="0.98" fill="#bd1230"/>
<circle cx="306.24" cy="449.37" r="0.98" fill="#bd1230"/>
<circle cx="309.62" cy="449.37" r="0.98" fill="#bd1230"/>
<circle cx="305.77" cy="455.51" r="0.98" fill="#bd1230"/>
<circle cx="314.92" cy="449.37" r="0.98" fill="#bd1230"/>
<circle cx="313.96" cy="451.38" r="0.98" fill="#bd1230"/>
<circle cx="311.61" cy="453.66" r="0.98" fill="#bd1230"/>
<circle cx="309.68" cy="456.35" r="0.98" fill="#bd1230"/>
<circle cx="308.44" cy="451.84" r="0.98" fill="#bd1230"/>
<circle cx="313.75" cy="452.80" r="0.98" fill="#bd1230"/>
<circle cx="309.95" cy="450.04" r="0.98" fill="#bd1230"/>
<circle cx="311.61" cy="449.37" r="0.98" fill="#bd1230"/>
<circle cx="306.27" cy="449.37" r="0.98" fill="#bd1230"/>
<circle cx="307.14" cy="454.17" r="0.98" fill="#bd1230"/>
<circle cx="305.32" cy="453.77" r="0.98" fill="#bd1230"/>
<circle cx="312.55" cy="449.40" r="0.98" fill="#bd1230"/>
<circle cx="310.79" cy="452.65" r="0.98" fill="#bd1230"/>
<circle cx="306.29" cy="453.94" r="0.98" fill="#bd1230"/>
<circle cx="314.28" cy="514.38" r="0.98" fill="#bd1230"/>
<circle cx="307.63" cy="461.63" r="0.98" fill="#bd1230"/>
<line x1="327.70" y1="449.37" x2="327.70" y2="462.37" stroke="#2b5aa6" stroke-width="0.55" stroke-opacity="0.8"/>
<rect x="321.20" y="450.49" width="13.00" height="5.20" fill="#8ea8dc" fill-opacity="0.5"/>
<line x1="321.20" y1="452.71" x2="334.20" y2="452.71" stroke="#2b5aa6" stroke-width="0.9"/>
<circle cx="325.95" cy="454.19" r="0.98" fill="#1f4289"/>
<circle cx="323.74" cy="451.80" r="0.98" fill="#1f4289"/>
<circle cx="322.22" cy="453.47" r="0.98" fill="#1f4289"/>
<circle cx="331.35" cy="449.37" r="0.98" fill="#1f4289"/>
<circle cx="327.99" cy="453.63" r="0.98" fill="#1f4289"/>
<circle cx="324.24" cy="451.16" r="0.98" fill="#1f4289"/>
<circle cx="326.99" cy="455.31" r="0.98" fill="#1f4289"/>
<circle cx="332.23" cy="452.57" r="0.98" fill="#1f4289"/>
<circle cx="324.60" cy="451.51" r="0.98" fill="#1f4289"/>
<circle cx="328.48" cy="453.55" r="0.98" fill="#1f4289"/>
<circle cx="323.72" cy="451.71" r="0.98" fill="#1f4289"/>
<circle cx="324.18" cy="452.85" r="0.98" fill="#1f4289"/>
<circle cx="330.67" cy="449.37" r="0.98" fill="#1f4289"/>
<circle cx="330.03" cy="455.42" r="0.98" fill="#1f4289"/>
<circle cx="324.36" cy="451.90" r="0.98" fill="#1f4289"/>
<circle cx="323.07" cy="449.43" r="0.98" fill="#1f4289"/>
<circle cx="323.16" cy="453.23" r="0.98" fill="#1f4289"/>
<circle cx="328.89" cy="450.48" r="0.98" fill="#1f4289"/>
<circle cx="327.65" cy="451.87" r="0.98" fill="#1f4289"/>
<circle cx="325.21" cy="450.02" r="0.98" fill="#1f4289"/>
<circle cx="324.47" cy="449.37" r="0.98" fill="#1f4289"/>
<circle cx="328.94" cy="453.31" r="0.98" fill="#1f4289"/>
<circle cx="329.99" cy="451.51" r="0.98" fill="#1f4289"/>
<circle cx="331.13" cy="453.33" r="0.98" fill="#1f4289"/>
<circle cx="328.61" cy="454.27" r="0.98" fill="#1f4289"/>
<circle cx="324.43" cy="449.37" r="0.98" fill="#1f4289"/>
<circle cx="322.92" cy="449.37" r="0.98" fill="#1f4289"/>
<circle cx="330.26" cy="451.02" r="0.98" fill="#1f4289"/>
<circle cx="326.69" cy="454.94" r="0.98" fill="#1f4289"/>
<circle cx="330.14" cy="449.37" r="0.98" fill="#1f4289"/>
<circle cx="322.81" cy="449.37" r="0.98" fill="#1f4289"/>
<circle cx="331.12" cy="452.17" r="0.98" fill="#1f4289"/>
<circle cx="325.89" cy="463.86" r="0.98" fill="#1f4289"/>
<circle cx="331.46" cy="462.37" r="0.98" fill="#1f4289"/>
<text x="398.00" y="459.80" font-size="8" stroke="#231f20" stroke-width="0.14"><tspan>DNAM-1</tspan><tspan font-size="5.6" dy="-2.75">+</tspan></text>
<text x="401.20" y="469.80" font-size="8" textLength="28.20" lengthAdjust="spacingAndGlyphs"  stroke="#231f20" stroke-width="0.14">NK-cells</text>
<text x="453.00" y="459.80" font-size="8" stroke="#231f20" stroke-width="0.14"><tspan>HLA-DR</tspan><tspan font-size="5.6" dy="-2.75">+</tspan></text>
<text x="455.00" y="469.80" font-size="8" textLength="28.30" lengthAdjust="spacingAndGlyphs"  stroke="#231f20" stroke-width="0.14">NK-cells</text>
<line x1="389.50" y1="474.20" x2="389.50" y2="527.50" stroke="#231f20" stroke-width="1.0"/>
<line x1="389.00" y1="527.50" x2="442.00" y2="527.50" stroke="#231f20" stroke-width="1.0"/>
<line x1="442.20" y1="474.20" x2="442.20" y2="527.50" stroke="#231f20" stroke-width="1.0"/>
<line x1="441.00" y1="527.50" x2="494.00" y2="527.50" stroke="#231f20" stroke-width="1.0"/>
<text x="0" y="0" font-size="7.6" font-weight="bold" text-anchor="middle" textLength="18.2" lengthAdjust="spacingAndGlyphs" fill="#333" transform="translate(384.6,500.8) rotate(-90)">UMAP2</text>
<text x="441.80" y="537.20" font-size="7.6" text-anchor="middle" font-weight="bold" fill="#333" textLength="17.40" lengthAdjust="spacingAndGlyphs" >UMAP1</text>
<clipPath id="dnc"><path d="M400.8 477.4C401.6 476.5 403.3 476.2 404.8 476.4C406.3 476.6 407.9 477.6 409.7 478.4C411.5 479.1 414.0 480.4 415.6 480.9C417.2 481.4 418.0 481.1 419.5 481.4C421.0 481.7 422.8 482.3 424.4 482.8C426.0 483.3 427.9 483.5 429.4 484.3C430.9 485.1 432.2 486.5 433.3 487.7C434.4 488.9 435.3 490.4 435.8 491.7C436.3 493.0 436.5 494.5 436.3 495.6C436.1 496.8 435.6 497.8 434.8 498.6C434.0 499.4 432.5 500.0 431.3 500.5C430.1 501.0 428.2 500.8 427.4 501.5C426.6 502.2 426.6 503.2 426.4 504.5C426.2 505.8 426.1 507.9 426.4 509.4C426.6 510.9 427.7 512.0 427.9 513.3C428.1 514.6 428.0 516.0 427.4 517.3C426.8 518.6 425.7 520.2 424.4 521.2C423.1 522.2 421.5 522.7 419.5 523.2C417.5 523.7 415.1 524.1 412.6 524.2C410.2 524.3 407.1 524.2 404.8 523.7C402.5 523.2 400.4 522.3 398.9 521.2C397.4 520.1 396.4 518.8 395.9 517.3C395.4 515.8 395.6 513.7 395.9 512.4C396.2 511.1 396.9 510.4 397.9 509.4C398.9 508.4 400.6 507.2 401.8 506.4C403.0 505.6 404.5 505.3 404.8 504.5C405.1 503.7 404.2 502.5 403.8 501.5C403.4 500.5 402.7 499.8 402.3 498.6C401.9 497.5 401.2 495.9 401.3 494.6C401.4 493.3 402.7 492.0 402.8 490.7C402.9 489.4 402.2 488.3 401.8 486.8C401.4 485.3 400.5 483.4 400.3 481.8C400.1 480.2 400.1 478.3 400.8 477.4Z"/></clipPath>
<clipPath id="hlc"><path d="M453.8 476.9C454.7 476.2 457.0 476.7 458.5 476.9C460.0 477.1 461.5 477.3 462.7 477.9C463.9 478.4 464.3 479.7 465.6 480.2C466.9 480.7 468.6 480.5 470.6 480.9C472.6 481.3 475.3 482.1 477.4 482.8C479.5 483.5 481.8 483.9 483.4 484.8C485.0 485.7 486.4 486.9 487.3 488.2C488.2 489.5 488.6 491.3 488.8 492.7C489.0 494.1 489.1 495.5 488.3 496.6C487.6 497.8 485.8 498.8 484.3 499.6C482.8 500.4 480.7 500.9 479.4 501.5C478.1 502.1 476.7 502.5 476.5 503.5C476.3 504.5 477.8 505.9 478.4 507.4C479.0 508.9 479.7 510.8 479.9 512.4C480.1 514.0 480.1 515.8 479.4 517.3C478.7 518.8 477.5 520.1 475.5 521.2C473.5 522.4 470.6 523.6 467.6 524.2C464.7 524.8 460.6 524.9 457.8 524.7C455.0 524.5 452.5 524.1 450.9 523.2C449.3 522.3 448.9 520.9 448.4 519.2C447.9 517.6 447.6 514.9 447.9 513.3C448.1 511.7 448.9 510.5 449.9 509.4C450.9 508.2 452.6 507.4 453.8 506.4C455.0 505.4 456.8 504.5 456.8 503.5C456.8 502.5 454.1 501.8 453.8 500.5C453.5 499.2 454.5 497.2 454.8 495.6C455.1 494.0 455.9 492.3 455.8 490.7C455.7 489.1 454.7 487.4 454.3 485.8C453.9 484.2 453.4 482.4 453.3 480.9C453.2 479.4 452.9 477.6 453.8 476.9Z"/></clipPath>
<path d="M400.8 477.4C401.6 476.5 403.3 476.2 404.8 476.4C406.3 476.6 407.9 477.6 409.7 478.4C411.5 479.1 414.0 480.4 415.6 480.9C417.2 481.4 418.0 481.1 419.5 481.4C421.0 481.7 422.8 482.3 424.4 482.8C426.0 483.3 427.9 483.5 429.4 484.3C430.9 485.1 432.2 486.5 433.3 487.7C434.4 488.9 435.3 490.4 435.8 491.7C436.3 493.0 436.5 494.5 436.3 495.6C436.1 496.8 435.6 497.8 434.8 498.6C434.0 499.4 432.5 500.0 431.3 500.5C430.1 501.0 428.2 500.8 427.4 501.5C426.6 502.2 426.6 503.2 426.4 504.5C426.2 505.8 426.1 507.9 426.4 509.4C426.6 510.9 427.7 512.0 427.9 513.3C428.1 514.6 428.0 516.0 427.4 517.3C426.8 518.6 425.7 520.2 424.4 521.2C423.1 522.2 421.5 522.7 419.5 523.2C417.5 523.7 415.1 524.1 412.6 524.2C410.2 524.3 407.1 524.2 404.8 523.7C402.5 523.2 400.4 522.3 398.9 521.2C397.4 520.1 396.4 518.8 395.9 517.3C395.4 515.8 395.6 513.7 395.9 512.4C396.2 511.1 396.9 510.4 397.9 509.4C398.9 508.4 400.6 507.2 401.8 506.4C403.0 505.6 404.5 505.3 404.8 504.5C405.1 503.7 404.2 502.5 403.8 501.5C403.4 500.5 402.7 499.8 402.3 498.6C401.9 497.5 401.2 495.9 401.3 494.6C401.4 493.3 402.7 492.0 402.8 490.7C402.9 489.4 402.2 488.3 401.8 486.8C401.4 485.3 400.5 483.4 400.3 481.8C400.1 480.2 400.1 478.3 400.8 477.4Z" fill="#f4956a"/>
<g clip-path="url(#dnc)"><rect x="395.0" y="476.0" width="1.2" height="1.2" fill="#fecc7a"/><rect x="396.4" y="476.0" width="1.2" height="1.2" fill="#e6f598"/><rect x="397.8" y="476.0" width="1.2" height="1.2" fill="#f7864e"/><rect x="399.2" y="476.0" width="1.2" height="1.2" fill="#f57145"/><rect x="400.6" y="476.0" width="1.2" height="1.2" fill="#f57547"/><rect x="402.0" y="476.0" width="1.2" height="1.2" fill="#fee08b"/><rect x="403.4" y="476.0" width="1.2" height="1.2" fill="#ceeb9d"/><rect x="404.8" y="476.0" width="1.2" height="1.2" fill="#fca45c"/><rect x="406.2" y="476.0" width="1.2" height="1.2" fill="#f46c43"/><rect x="407.6" y="476.0" width="1.2" height="1.2" fill="#fdb768"/><rect x="409.0" y="476.0" width="1.2" height="1.2" fill="#fed683"/><rect x="410.4" y="476.0" width="1.2" height="1.2" fill="#ef6645"/><rect x="411.8" y="476.0" width="1.2" height="1.2" fill="#fca75e"/><rect x="413.2" y="476.0" width="1.2" height="1.2" fill="#f7834d"/><rect x="414.6" y="476.0" width="1.2" height="1.2" fill="#fee695"/><rect x="416.0" y="476.0" width="1.2" height="1.2" fill="#ceeb9d"/><rect x="417.4" y="476.0" width="1.2" height="1.2" fill="#fed683"/><rect x="418.8" y="476.0" width="1.2" height="1.2" fill="#e55649"/><rect x="420.2" y="476.0" width="1.2" height="1.2" fill="#f7854e"/><rect x="421.6" y="476.0" width="1.2" height="1.2" fill="#fa9a58"/><rect x="423.0" y="476.0" width="1.2" height="1.2" fill="#fa9957"/><rect x="424.4" y="476.0" width="1.2" height="1.2" fill="#f67f4b"/><rect x="425.8" y="476.0" width="1.2" height="1.2" fill="#f57446"/><rect x="427.2" y="476.0" width="1.2" height="1.2" fill="#f67a49"/><rect x="428.6" y="476.0" width="1.2" height="1.2" fill="#fed683"/><rect x="430.0" y="476.0" width="1.2" height="1.2" fill="#fb9d59"/><rect x="431.4" y="476.0" width="1.2" height="1.2" fill="#f36b44"/><rect x="432.8" y="476.0" width="1.2" height="1.2" fill="#fee08b"/><rect x="434.2" y="476.0" width="1.2" height="1.2" fill="#fba05b"/><rect x="435.6" y="476.0" width="1.2" height="1.2" fill="#e6f598"/><rect x="437.0" y="476.0" width="1.2" height="1.2" fill="#fa9b58"/><rect x="395.0" y="477.4" width="1.2" height="1.2" fill="#f47044"/><rect x="396.4" y="477.4" width="1.2" height="1.2" fill="#fdb869"/><rect x="397.8" y="477.4" width="1.2" height="1.2" fill="#eb5f47"/><rect x="399.2" y="477.4" width="1.2" height="1.2" fill="#f7824d"/><rect x="400.6" y="477.4" width="1.2" height="1.2" fill="#f26a44"/><rect x="402.0" y="477.4" width="1.2" height="1.2" fill="#f46e44"/><rect x="403.4" y="477.4" width="1.2" height="1.2" fill="#fdbc6d"/><rect x="404.8" y="477.4" width="1.2" height="1.2" fill="#ef6545"/><rect x="406.2" y="477.4" width="1.2" height="1.2" fill="#f67848"/><rect x="407.6" y="477.4" width="1.2" height="1.2" fill="#f7844d"/><rect x="409.0" y="477.4" width="1.2" height="1.2" fill="#f06744"/><rect x="410.4" y="477.4" width="1.2" height="1.2" fill="#f98f53"/><rect x="411.8" y="477.4" width="1.2" height="1.2" fill="#f7864e"/><rect x="413.2" y="477.4" width="1.2" height="1.2" fill="#f57446"/><rect x="414.6" y="477.4" width="1.2" height="1.2" fill="#f7824d"/><rect x="416.0" y="477.4" width="1.2" height="1.2" fill="#ed6246"/><rect x="417.4" y="477.4" width="1.2" height="1.2" fill="#f99455"/><rect x="418.8" y="477.4" width="1.2" height="1.2" fill="#f67e4b"/><rect x="420.2" y="477.4" width="1.2" height="1.2" fill="#f88950"/><rect x="421.6" y="477.4" width="1.2" height="1.2" fill="#f98e52"/><rect x="423.0" y="477.4" width="1.2" height="1.2" fill="#fa9957"/><rect x="424.4" y="477.4" width="1.2" height="1.2" fill="#f99455"/><rect x="425.8" y="477.4" width="1.2" height="1.2" fill="#f99355"/><rect x="427.2" y="477.4" width="1.2" height="1.2" fill="#f46d43"/><rect x="428.6" y="477.4" width="1.2" height="1.2" fill="#f88b51"/><rect x="430.0" y="477.4" width="1.2" height="1.2" fill="#f16944"/><rect x="431.4" y="477.4" width="1.2" height="1.2" fill="#f26a44"/><rect x="432.8" y="477.4" width="1.2" height="1.2" fill="#f8884f"/><rect x="434.2" y="477.4" width="1.2" height="1.2" fill="#fed683"/><rect x="435.6" y="477.4" width="1.2" height="1.2" fill="#fdbc6d"/><rect x="437.0" y="477.4" width="1.2" height="1.2" fill="#f88850"/><rect x="395.0" y="478.8" width="1.2" height="1.2" fill="#f88b51"/><rect x="396.4" y="478.8" width="1.2" height="1.2" fill="#e85b48"/><rect x="397.8" y="478.8" width="1.2" height="1.2" fill="#fecc7a"/><rect x="399.2" y="478.8" width="1.2" height="1.2" fill="#e6f598"/><rect x="400.6" y="478.8" width="1.2" height="1.2" fill="#fdad61"/><rect x="402.0" y="478.8" width="1.2" height="1.2" fill="#e95c47"/><rect x="403.4" y="478.8" width="1.2" height="1.2" fill="#f7814c"/><rect x="404.8" y="478.8" width="1.2" height="1.2" fill="#fee08b"/><rect x="406.2" y="478.8" width="1.2" height="1.2" fill="#ceeb9d"/><rect x="407.6" y="478.8" width="1.2" height="1.2" fill="#fee695"/><rect x="409.0" y="478.8" width="1.2" height="1.2" fill="#f98f53"/><rect x="410.4" y="478.8" width="1.2" height="1.2" fill="#f46d43"/><rect x="411.8" y="478.8" width="1.2" height="1.2" fill="#fee08b"/><rect x="413.2" y="478.8" width="1.2" height="1.2" fill="#ceeb9d"/><rect x="414.6" y="478.8" width="1.2" height="1.2" fill="#f88d52"/><rect x="416.0" y="478.8" width="1.2" height="1.2" fill="#f7804c"/><rect x="417.4" y="478.8" width="1.2" height="1.2" fill="#e6f598"/><rect x="418.8" y="478.8" width="1.2" height="1.2" fill="#f99254"/><rect x="420.2" y="478.8" width="1.2" height="1.2" fill="#f57547"/><rect x="421.6" y="478.8" width="1.2" height="1.2" fill="#f46e43"/><rect x="423.0" y="478.8" width="1.2" height="1.2" fill="#fdae61"/><rect x="424.4" y="478.8" width="1.2" height="1.2" fill="#fcaa5f"/><rect x="425.8" y="478.8" width="1.2" height="1.2" fill="#f8874f"/><rect x="427.2" y="478.8" width="1.2" height="1.2" fill="#fdb365"/><rect x="428.6" y="478.8" width="1.2" height="1.2" fill="#f67a49"/><rect x="430.0" y="478.8" width="1.2" height="1.2" fill="#fed683"/><rect x="431.4" y="478.8" width="1.2" height="1.2" fill="#e75948"/><rect x="432.8" y="478.8" width="1.2" height="1.2" fill="#f7824d"/><rect x="434.2" y="478.8" width="1.2" height="1.2" fill="#ed6346"/><rect x="435.6" y="478.8" width="1.2" height="1.2" fill="#f88d52"/><rect x="437.0" y="478.8" width="1.2" height="1.2" fill="#f26944"/><rect x="395.0" y="480.2" width="1.2" height="1.2" fill="#fba05b"/><rect x="396.4" y="480.2" width="1.2" height="1.2" fill="#fdb063"/><rect x="397.8" y="480.2" width="1.2" height="1.2" fill="#f57748"/><rect x="399.2" y="480.2" width="1.2" height="1.2" fill="#fb9f5a"/><rect x="400.6" y="480.2" width="1.2" height="1.2" fill="#f98e52"/><rect x="402.0" y="480.2" width="1.2" height="1.2" fill="#f47044"/><rect x="403.4" y="480.2" width="1.2" height="1.2" fill="#ceeb9d"/><rect x="404.8" y="480.2" width="1.2" height="1.2" fill="#f67a49"/><rect x="406.2" y="480.2" width="1.2" height="1.2" fill="#ceeb9d"/><rect x="407.6" y="480.2" width="1.2" height="1.2" fill="#fb9d59"/><rect x="409.0" y="480.2" width="1.2" height="1.2" fill="#e75948"/><rect x="410.4" y="480.2" width="1.2" height="1.2" fill="#f67b49"/><rect x="411.8" y="480.2" width="1.2" height="1.2" fill="#fed683"/><rect x="413.2" y="480.2" width="1.2" height="1.2" fill="#f8864f"/><rect x="414.6" y="480.2" width="1.2" height="1.2" fill="#e1504a"/><rect x="416.0" y="480.2" width="1.2" height="1.2" fill="#f99355"/><rect x="417.4" y="480.2" width="1.2" height="1.2" fill="#ed6246"/><rect x="418.8" y="480.2" width="1.2" height="1.2" fill="#f88850"/><rect x="420.2" y="480.2" width="1.2" height="1.2" fill="#e6f598"/><rect x="421.6" y="480.2" width="1.2" height="1.2" fill="#fdae61"/><rect x="423.0" y="480.2" width="1.2" height="1.2" fill="#e45449"/><rect x="424.4" y="480.2" width="1.2" height="1.2" fill="#f46d43"/><rect x="425.8" y="480.2" width="1.2" height="1.2" fill="#f57346"/><rect x="427.2" y="480.2" width="1.2" height="1.2" fill="#fdb768"/><rect x="428.6" y="480.2" width="1.2" height="1.2" fill="#fb9f5a"/><rect x="430.0" y="480.2" width="1.2" height="1.2" fill="#fcaa5f"/><rect x="431.4" y="480.2" width="1.2" height="1.2" fill="#f57547"/><rect x="432.8" y="480.2" width="1.2" height="1.2" fill="#ceeb9d"/><rect x="434.2" y="480.2" width="1.2" height="1.2" fill="#f98e52"/><rect x="435.6" y="480.2" width="1.2" height="1.2" fill="#e6f598"/><rect x="437.0" y="480.2" width="1.2" height="1.2" fill="#f67848"/><rect x="395.0" y="481.6" width="1.2" height="1.2" fill="#fa9857"/><rect x="396.4" y="481.6" width="1.2" height="1.2" fill="#fdb466"/><rect x="397.8" y="481.6" width="1.2" height="1.2" fill="#f99354"/><rect x="399.2" y="481.6" width="1.2" height="1.2" fill="#f67c4a"/><rect x="400.6" y="481.6" width="1.2" height="1.2" fill="#e6f598"/><rect x="402.0" y="481.6" width="1.2" height="1.2" fill="#f7844e"/><rect x="403.4" y="481.6" width="1.2" height="1.2" fill="#f16844"/><rect x="404.8" y="481.6" width="1.2" height="1.2" fill="#f46c43"/><rect x="406.2" y="481.6" width="1.2" height="1.2" fill="#e6f598"/><rect x="407.6" y="481.6" width="1.2" height="1.2" fill="#f8884f"/><rect x="409.0" y="481.6" width="1.2" height="1.2" fill="#f36b43"/><rect x="410.4" y="481.6" width="1.2" height="1.2" fill="#f7834d"/><rect x="411.8" y="481.6" width="1.2" height="1.2" fill="#f88d52"/><rect x="413.2" y="481.6" width="1.2" height="1.2" fill="#f99555"/><rect x="414.6" y="481.6" width="1.2" height="1.2" fill="#f8884f"/><rect x="416.0" y="481.6" width="1.2" height="1.2" fill="#eb5f47"/><rect x="417.4" y="481.6" width="1.2" height="1.2" fill="#fee695"/><rect x="418.8" y="481.6" width="1.2" height="1.2" fill="#f99154"/><rect x="420.2" y="481.6" width="1.2" height="1.2" fill="#fee08b"/><rect x="421.6" y="481.6" width="1.2" height="1.2" fill="#f7844e"/><rect x="423.0" y="481.6" width="1.2" height="1.2" fill="#fba25c"/><rect x="424.4" y="481.6" width="1.2" height="1.2" fill="#f67d4b"/><rect x="425.8" y="481.6" width="1.2" height="1.2" fill="#fee695"/><rect x="427.2" y="481.6" width="1.2" height="1.2" fill="#fca75e"/><rect x="428.6" y="481.6" width="1.2" height="1.2" fill="#fee08b"/><rect x="430.0" y="481.6" width="1.2" height="1.2" fill="#fee695"/><rect x="431.4" y="481.6" width="1.2" height="1.2" fill="#fecc7a"/><rect x="432.8" y="481.6" width="1.2" height="1.2" fill="#f67b49"/><rect x="434.2" y="481.6" width="1.2" height="1.2" fill="#f06744"/><rect x="435.6" y="481.6" width="1.2" height="1.2" fill="#fed683"/><rect x="437.0" y="481.6" width="1.2" height="1.2" fill="#fed683"/><rect x="395.0" y="483.0" width="1.2" height="1.2" fill="#ef6645"/><rect x="396.4" y="483.0" width="1.2" height="1.2" fill="#f67a49"/><rect x="397.8" y="483.0" width="1.2" height="1.2" fill="#fa9b58"/><rect x="399.2" y="483.0" width="1.2" height="1.2" fill="#fecc7a"/><rect x="400.6" y="483.0" width="1.2" height="1.2" fill="#f7824d"/><rect x="402.0" y="483.0" width="1.2" height="1.2" fill="#fb9e5a"/><rect x="403.4" y="483.0" width="1.2" height="1.2" fill="#f99355"/><rect x="404.8" y="483.0" width="1.2" height="1.2" fill="#fee695"/><rect x="406.2" y="483.0" width="1.2" height="1.2" fill="#f67b4a"/><rect x="407.6" y="483.0" width="1.2" height="1.2" fill="#f06844"/><rect x="409.0" y="483.0" width="1.2" height="1.2" fill="#dd494c"/><rect x="410.4" y="483.0" width="1.2" height="1.2" fill="#f26a44"/><rect x="411.8" y="483.0" width="1.2" height="1.2" fill="#f36c43"/><rect x="413.2" y="483.0" width="1.2" height="1.2" fill="#f57647"/><rect x="414.6" y="483.0" width="1.2" height="1.2" fill="#f67e4b"/><rect x="416.0" y="483.0" width="1.2" height="1.2" fill="#f7834d"/><rect x="417.4" y="483.0" width="1.2" height="1.2" fill="#fed683"/><rect x="418.8" y="483.0" width="1.2" height="1.2" fill="#f7854e"/><rect x="420.2" y="483.0" width="1.2" height="1.2" fill="#fee695"/><rect x="421.6" y="483.0" width="1.2" height="1.2" fill="#f47045"/><rect x="423.0" y="483.0" width="1.2" height="1.2" fill="#fecc7a"/><rect x="424.4" y="483.0" width="1.2" height="1.2" fill="#ceeb9d"/><rect x="425.8" y="483.0" width="1.2" height="1.2" fill="#f67949"/><rect x="427.2" y="483.0" width="1.2" height="1.2" fill="#f88950"/><rect x="428.6" y="483.0" width="1.2" height="1.2" fill="#fecc7a"/><rect x="430.0" y="483.0" width="1.2" height="1.2" fill="#fa9957"/><rect x="431.4" y="483.0" width="1.2" height="1.2" fill="#e6f598"/><rect x="432.8" y="483.0" width="1.2" height="1.2" fill="#ec6146"/><rect x="434.2" y="483.0" width="1.2" height="1.2" fill="#f7844e"/><rect x="435.6" y="483.0" width="1.2" height="1.2" fill="#fba15b"/><rect x="437.0" y="483.0" width="1.2" height="1.2" fill="#fed683"/><rect x="395.0" y="484.4" width="1.2" height="1.2" fill="#f88950"/><rect x="396.4" y="484.4" width="1.2" height="1.2" fill="#f98f53"/><rect x="397.8" y="484.4" width="1.2" height="1.2" fill="#f7834d"/><rect x="399.2" y="484.4" width="1.2" height="1.2" fill="#fed683"/><rect x="400.6" y="484.4" width="1.2" height="1.2" fill="#fee695"/><rect x="402.0" y="484.4" width="1.2" height="1.2" fill="#f67c4a"/><rect x="403.4" y="484.4" width="1.2" height="1.2" fill="#f88b51"/><rect x="404.8" y="484.4" width="1.2" height="1.2" fill="#f99053"/><rect x="406.2" y="484.4" width="1.2" height="1.2" fill="#ceeb9d"/><rect x="407.6" y="484.4" width="1.2" height="1.2" fill="#ceeb9d"/><rect x="409.0" y="484.4" width="1.2" height="1.2" fill="#ef6645"/><rect x="410.4" y="484.4" width="1.2" height="1.2" fill="#ef6645"/><rect x="411.8" y="484.4" width="1.2" height="1.2" fill="#eb5f47"/><rect x="413.2" y="484.4" width="1.2" height="1.2" fill="#fb9f5a"/><rect x="414.6" y="484.4" width="1.2" height="1.2" fill="#e6f598"/><rect x="416.0" y="484.4" width="1.2" height="1.2" fill="#f57245"/><rect x="417.4" y="484.4" width="1.2" height="1.2" fill="#e6f598"/><rect x="418.8" y="484.4" width="1.2" height="1.2" fill="#fdba6b"/><rect x="420.2" y="484.4" width="1.2" height="1.2" fill="#f7834d"/><rect x="421.6" y="484.4" width="1.2" height="1.2" fill="#e45449"/><rect x="423.0" y="484.4" width="1.2" height="1.2" fill="#f67e4b"/><rect x="424.4" y="484.4" width="1.2" height="1.2" fill="#f57747"/><rect x="425.8" y="484.4" width="1.2" height="1.2" fill="#fee695"/><rect x="427.2" y="484.4" width="1.2" height="1.2" fill="#f88c51"/><rect x="428.6" y="484.4" width="1.2" height="1.2" fill="#f7834d"/><rect x="430.0" y="484.4" width="1.2" height="1.2" fill="#fa9555"/><rect x="431.4" y="484.4" width="1.2" height="1.2" fill="#fdb265"/><rect x="432.8" y="484.4" width="1.2" height="1.2" fill="#fecc7a"/><rect x="434.2" y="484.4" width="1.2" height="1.2" fill="#f88850"/><rect x="435.6" y="484.4" width="1.2" height="1.2" fill="#fa9a58"/><rect x="437.0" y="484.4" width="1.2" height="1.2" fill="#f7854e"/><rect x="395.0" y="485.8" width="1.2" height="1.2" fill="#f7834d"/><rect x="396.4" y="485.8" width="1.2" height="1.2" fill="#f7864e"/><rect x="397.8" y="485.8" width="1.2" height="1.2" fill="#f67b4a"/><rect x="399.2" y="485.8" width="1.2" height="1.2" fill="#ceeb9d"/><rect x="400.6" y="485.8" width="1.2" height="1.2" fill="#ceeb9d"/><rect x="402.0" y="485.8" width="1.2" height="1.2" fill="#f7844e"/><rect x="403.4" y="485.8" width="1.2" height="1.2" fill="#f99053"/><rect x="404.8" y="485.8" width="1.2" height="1.2" fill="#f7854e"/><rect x="406.2" y="485.8" width="1.2" height="1.2" fill="#fecc7a"/><rect x="407.6" y="485.8" width="1.2" height="1.2" fill="#fb9d59"/><rect x="409.0" y="485.8" width="1.2" height="1.2" fill="#f67a49"/><rect x="410.4" y="485.8" width="1.2" height="1.2" fill="#f46e43"/><rect x="411.8" y="485.8" width="1.2" height="1.2" fill="#fca75e"/><rect x="413.2" y="485.8" width="1.2" height="1.2" fill="#f57848"/><rect x="414.6" y="485.8" width="1.2" height="1.2" fill="#eb5f47"/><rect x="416.0" y="485.8" width="1.2" height="1.2" fill="#fa9756"/><rect x="417.4" y="485.8" width="1.2" height="1.2" fill="#f7834d"/><rect x="418.8" y="485.8" width="1.2" height="1.2" fill="#e6f598"/><rect x="420.2" y="485.8" width="1.2" height="1.2" fill="#ceeb9d"/><rect x="421.6" y="485.8" width="1.2" height="1.2" fill="#f7844d"/><rect x="423.0" y="485.8" width="1.2" height="1.2" fill="#f67a49"/><rect x="424.4" y="485.8" width="1.2" height="1.2" fill="#e6f598"/><rect x="425.8" y="485.8" width="1.2" height="1.2" fill="#f36c43"/><rect x="427.2" y="485.8" width="1.2" height="1.2" fill="#e6f598"/><rect x="428.6" y="485.8" width="1.2" height="1.2" fill="#f67f4b"/><rect x="430.0" y="485.8" width="1.2" height="1.2" fill="#f36b43"/><rect x="431.4" y="485.8" width="1.2" height="1.2" fill="#f98e52"/><rect x="432.8" y="485.8" width="1.2" height="1.2" fill="#f46c43"/><rect x="434.2" y="485.8" width="1.2" height="1.2" fill="#f16844"/><rect x="435.6" y="485.8" width="1.2" height="1.2" fill="#e6f598"/><rect x="437.0" y="485.8" width="1.2" height="1.2" fill="#fecc7a"/><rect x="395.0" y="487.2" width="1.2" height="1.2" fill="#e6f598"/><rect x="396.4" y="487.2" width="1.2" height="1.2" fill="#fb9d59"/><rect x="397.8" y="487.2" width="1.2" height="1.2" fill="#ceeb9d"/><rect x="399.2" y="487.2" width="1.2" height="1.2" fill="#f57446"/><rect x="400.6" y="487.2" width="1.2" height="1.2" fill="#f47045"/><rect x="402.0" y="487.2" width="1.2" height="1.2" fill="#fecc7a"/><rect x="403.4" y="487.2" width="1.2" height="1.2" fill="#fed683"/><rect x="404.8" y="487.2" width="1.2" height="1.2" fill="#fecc7a"/><rect x="406.2" y="487.2" width="1.2" height="1.2" fill="#e6f598"/><rect x="407.6" y="487.2" width="1.2" height="1.2" fill="#f7864f"/><rect x="409.0" y="487.2" width="1.2" height="1.2" fill="#f7854e"/><rect x="410.4" y="487.2" width="1.2" height="1.2" fill="#fa9b58"/><rect x="411.8" y="487.2" width="1.2" height="1.2" fill="#fdb567"/><rect x="413.2" y="487.2" width="1.2" height="1.2" fill="#f7804c"/><rect x="414.6" y="487.2" width="1.2" height="1.2" fill="#f47044"/><rect x="416.0" y="487.2" width="1.2" height="1.2" fill="#f57748"/><rect x="417.4" y="487.2" width="1.2" height="1.2" fill="#e6f598"/><rect x="418.8" y="487.2" width="1.2" height="1.2" fill="#fecc7a"/><rect x="420.2" y="487.2" width="1.2" height="1.2" fill="#e6f598"/><rect x="421.6" y="487.2" width="1.2" height="1.2" fill="#fa9857"/><rect x="423.0" y="487.2" width="1.2" height="1.2" fill="#e6f598"/><rect x="424.4" y="487.2" width="1.2" height="1.2" fill="#fb9f5a"/><rect x="425.8" y="487.2" width="1.2" height="1.2" fill="#ceeb9d"/><rect x="427.2" y="487.2" width="1.2" height="1.2" fill="#fb9e59"/><rect x="428.6" y="487.2" width="1.2" height="1.2" fill="#fb9d59"/><rect x="430.0" y="487.2" width="1.2" height="1.2" fill="#f26a44"/><rect x="431.4" y="487.2" width="1.2" height="1.2" fill="#f7834d"/><rect x="432.8" y="487.2" width="1.2" height="1.2" fill="#f67b4a"/><rect x="434.2" y="487.2" width="1.2" height="1.2" fill="#f47045"/><rect x="435.6" y="487.2" width="1.2" height="1.2" fill="#fdad61"/><rect x="437.0" y="487.2" width="1.2" height="1.2" fill="#ceeb9d"/><rect x="395.0" y="488.6" width="1.2" height="1.2" fill="#f7834d"/><rect x="396.4" y="488.6" width="1.2" height="1.2" fill="#fee695"/><rect x="397.8" y="488.6" width="1.2" height="1.2" fill="#f98f53"/><rect x="399.2" y="488.6" width="1.2" height="1.2" fill="#fecc7a"/><rect x="400.6" y="488.6" width="1.2" height="1.2" fill="#f7864f"/><rect x="402.0" y="488.6" width="1.2" height="1.2" fill="#fee08b"/><rect x="403.4" y="488.6" width="1.2" height="1.2" fill="#f26944"/><rect x="404.8" y="488.6" width="1.2" height="1.2" fill="#f67d4a"/><rect x="406.2" y="488.6" width="1.2" height="1.2" fill="#fba25b"/><rect x="407.6" y="488.6" width="1.2" height="1.2" fill="#fba25c"/><rect x="409.0" y="488.6" width="1.2" height="1.2" fill="#f8874f"/><rect x="410.4" y="488.6" width="1.2" height="1.2" fill="#fb9f5a"/><rect x="411.8" y="488.6" width="1.2" height="1.2" fill="#ceeb9d"/><rect x="413.2" y="488.6" width="1.2" height="1.2" fill="#e65749"/><rect x="414.6" y="488.6" width="1.2" height="1.2" fill="#f7824d"/><rect x="416.0" y="488.6" width="1.2" height="1.2" fill="#fca85e"/><rect x="417.4" y="488.6" width="1.2" height="1.2" fill="#f67d4a"/><rect x="418.8" y="488.6" width="1.2" height="1.2" fill="#fecc7a"/><rect x="420.2" y="488.6" width="1.2" height="1.2" fill="#f88d52"/><rect x="421.6" y="488.6" width="1.2" height="1.2" fill="#e6f598"/><rect x="423.0" y="488.6" width="1.2" height="1.2" fill="#fca85e"/><rect x="424.4" y="488.6" width="1.2" height="1.2" fill="#fa9857"/><rect x="425.8" y="488.6" width="1.2" height="1.2" fill="#fca35c"/><rect x="427.2" y="488.6" width="1.2" height="1.2" fill="#f88d52"/><rect x="428.6" y="488.6" width="1.2" height="1.2" fill="#f99154"/><rect x="430.0" y="488.6" width="1.2" height="1.2" fill="#e6f598"/><rect x="431.4" y="488.6" width="1.2" height="1.2" fill="#fdae61"/><rect x="432.8" y="488.6" width="1.2" height="1.2" fill="#ed6346"/><rect x="434.2" y="488.6" width="1.2" height="1.2" fill="#f46e43"/><rect x="435.6" y="488.6" width="1.2" height="1.2" fill="#fba35c"/><rect x="437.0" y="488.6" width="1.2" height="1.2" fill="#f57245"/><rect x="395.0" y="490.0" width="1.2" height="1.2" fill="#f57647"/><rect x="396.4" y="490.0" width="1.2" height="1.2" fill="#f57848"/><rect x="397.8" y="490.0" width="1.2" height="1.2" fill="#fed683"/><rect x="399.2" y="490.0" width="1.2" height="1.2" fill="#e6f598"/><rect x="400.6" y="490.0" width="1.2" height="1.2" fill="#f7844e"/><rect x="402.0" y="490.0" width="1.2" height="1.2" fill="#fee08b"/><rect x="403.4" y="490.0" width="1.2" height="1.2" fill="#f99355"/><rect x="404.8" y="490.0" width="1.2" height="1.2" fill="#fdb063"/><rect x="406.2" y="490.0" width="1.2" height="1.2" fill="#f26a44"/><rect x="407.6" y="490.0" width="1.2" height="1.2" fill="#fee08b"/><rect x="409.0" y="490.0" width="1.2" height="1.2" fill="#fdaf62"/><rect x="410.4" y="490.0" width="1.2" height="1.2" fill="#e6f598"/><rect x="411.8" y="490.0" width="1.2" height="1.2" fill="#fca45c"/><rect x="413.2" y="490.0" width="1.2" height="1.2" fill="#f8874f"/><rect x="414.6" y="490.0" width="1.2" height="1.2" fill="#f57145"/><rect x="416.0" y="490.0" width="1.2" height="1.2" fill="#ceeb9d"/><rect x="417.4" y="490.0" width="1.2" height="1.2" fill="#ceeb9d"/><rect x="418.8" y="490.0" width="1.2" height="1.2" fill="#e6f598"/><rect x="420.2" y="490.0" width="1.2" height="1.2" fill="#f99555"/><rect x="421.6" y="490.0" width="1.2" height="1.2" fill="#f98f53"/><rect x="423.0" y="490.0" width="1.2" height="1.2" fill="#fdb869"/><rect x="424.4" y="490.0" width="1.2" height="1.2" fill="#f26a44"/><rect x="425.8" y="490.0" width="1.2" height="1.2" fill="#fdbc6d"/><rect x="427.2" y="490.0" width="1.2" height="1.2" fill="#e6f598"/><rect x="428.6" y="490.0" width="1.2" height="1.2" fill="#f16944"/><rect x="430.0" y="490.0" width="1.2" height="1.2" fill="#ceeb9d"/><rect x="431.4" y="490.0" width="1.2" height="1.2" fill="#f46f44"/><rect x="432.8" y="490.0" width="1.2" height="1.2" fill="#f47044"/><rect x="434.2" y="490.0" width="1.2" height="1.2" fill="#f7854e"/><rect x="435.6" y="490.0" width="1.2" height="1.2" fill="#fee08b"/><rect x="437.0" y="490.0" width="1.2" height="1.2" fill="#e6f598"/><rect x="395.0" y="491.4" width="1.2" height="1.2" fill="#ceeb9d"/><rect x="396.4" y="491.4" width="1.2" height="1.2" fill="#f67948"/><rect x="397.8" y="491.4" width="1.2" height="1.2" fill="#f16844"/><rect x="399.2" y="491.4" width="1.2" height="1.2" fill="#ceeb9d"/><rect x="400.6" y="491.4" width="1.2" height="1.2" fill="#fee08b"/><rect x="402.0" y="491.4" width="1.2" height="1.2" fill="#e55649"/><rect x="403.4" y="491.4" width="1.2" height="1.2" fill="#fb9d59"/><rect x="404.8" y="491.4" width="1.2" height="1.2" fill="#fa9756"/><rect x="406.2" y="491.4" width="1.2" height="1.2" fill="#f98f53"/><rect x="407.6" y="491.4" width="1.2" height="1.2" fill="#fee695"/><rect x="409.0" y="491.4" width="1.2" height="1.2" fill="#f06745"/><rect x="410.4" y="491.4" width="1.2" height="1.2" fill="#f88b51"/><rect x="411.8" y="491.4" width="1.2" height="1.2" fill="#fee08b"/><rect x="413.2" y="491.4" width="1.2" height="1.2" fill="#f57145"/><rect x="414.6" y="491.4" width="1.2" height="1.2" fill="#fdac60"/><rect x="416.0" y="491.4" width="1.2" height="1.2" fill="#f06744"/><rect x="417.4" y="491.4" width="1.2" height="1.2" fill="#e85b48"/><rect x="418.8" y="491.4" width="1.2" height="1.2" fill="#f88d52"/><rect x="420.2" y="491.4" width="1.2" height="1.2" fill="#fee695"/><rect x="421.6" y="491.4" width="1.2" height="1.2" fill="#ceeb9d"/><rect x="423.0" y="491.4" width="1.2" height="1.2" fill="#f88850"/><rect x="424.4" y="491.4" width="1.2" height="1.2" fill="#f99455"/><rect x="425.8" y="491.4" width="1.2" height="1.2" fill="#f16944"/><rect x="427.2" y="491.4" width="1.2" height="1.2" fill="#fee695"/><rect x="428.6" y="491.4" width="1.2" height="1.2" fill="#f16944"/><rect x="430.0" y="491.4" width="1.2" height="1.2" fill="#e6f598"/><rect x="431.4" y="491.4" width="1.2" height="1.2" fill="#fecc7a"/><rect x="432.8" y="491.4" width="1.2" height="1.2" fill="#f88950"/><rect x="434.2" y="491.4" width="1.2" height="1.2" fill="#ef6545"/><rect x="435.6" y="491.4" width="1.2" height="1.2" fill="#fdc574"/><rect x="437.0" y="491.4" width="1.2" height="1.2" fill="#fee08b"/><rect x="395.0" y="492.8" width="1.2" height="1.2" fill="#fecc7a"/><rect x="396.4" y="492.8" width="1.2" height="1.2" fill="#f88b51"/><rect x="397.8" y="492.8" width="1.2" height="1.2" fill="#fa9656"/><rect x="399.2" y="492.8" width="1.2" height="1.2" fill="#fa9957"/><rect x="400.6" y="492.8" width="1.2" height="1.2" fill="#e85b48"/><rect x="402.0" y="492.8" width="1.2" height="1.2" fill="#fdb466"/><rect x="403.4" y="492.8" width="1.2" height="1.2" fill="#f7804c"/><rect x="404.8" y="492.8" width="1.2" height="1.2" fill="#fdb265"/><rect x="406.2" y="492.8" width="1.2" height="1.2" fill="#fa9a58"/><rect x="407.6" y="492.8" width="1.2" height="1.2" fill="#ceeb9d"/><rect x="409.0" y="492.8" width="1.2" height="1.2" fill="#fba05b"/><rect x="410.4" y="492.8" width="1.2" height="1.2" fill="#fdb768"/><rect x="411.8" y="492.8" width="1.2" height="1.2" fill="#eb5f47"/><rect x="413.2" y="492.8" width="1.2" height="1.2" fill="#fee695"/><rect x="414.6" y="492.8" width="1.2" height="1.2" fill="#e3534a"/><rect x="416.0" y="492.8" width="1.2" height="1.2" fill="#f7814c"/><rect x="417.4" y="492.8" width="1.2" height="1.2" fill="#fed683"/><rect x="418.8" y="492.8" width="1.2" height="1.2" fill="#e6f598"/><rect x="420.2" y="492.8" width="1.2" height="1.2" fill="#f99555"/><rect x="421.6" y="492.8" width="1.2" height="1.2" fill="#ea5e47"/><rect x="423.0" y="492.8" width="1.2" height="1.2" fill="#fca75e"/><rect x="424.4" y="492.8" width="1.2" height="1.2" fill="#fee695"/><rect x="425.8" y="492.8" width="1.2" height="1.2" fill="#f88d52"/><rect x="427.2" y="492.8" width="1.2" height="1.2" fill="#f36b44"/><rect x="428.6" y="492.8" width="1.2" height="1.2" fill="#fa9555"/><rect x="430.0" y="492.8" width="1.2" height="1.2" fill="#fdaf62"/><rect x="431.4" y="492.8" width="1.2" height="1.2" fill="#f88b51"/><rect x="432.8" y="492.8" width="1.2" height="1.2" fill="#f57346"/><rect x="434.2" y="492.8" width="1.2" height="1.2" fill="#fed683"/><rect x="435.6" y="492.8" width="1.2" height="1.2" fill="#fecc7a"/><rect x="437.0" y="492.8" width="1.2" height="1.2" fill="#fdbb6c"/><rect x="395.0" y="494.2" width="1.2" height="1.2" fill="#f47044"/><rect x="396.4" y="494.2" width="1.2" height="1.2" fill="#fee695"/><rect x="397.8" y="494.2" width="1.2" height="1.2" fill="#f57748"/><rect x="399.2" y="494.2" width="1.2" height="1.2" fill="#e95c47"/><rect x="400.6" y="494.2" width="1.2" height="1.2" fill="#f36b43"/><rect x="402.0" y="494.2" width="1.2" height="1.2" fill="#f57748"/><rect x="403.4" y="494.2" width="1.2" height="1.2" fill="#f57547"/><rect x="404.8" y="494.2" width="1.2" height="1.2" fill="#ceeb9d"/><rect x="406.2" y="494.2" width="1.2" height="1.2" fill="#fdb567"/><rect x="407.6" y="494.2" width="1.2" height="1.2" fill="#ef6545"/><rect x="409.0" y="494.2" width="1.2" height="1.2" fill="#f67e4b"/><rect x="410.4" y="494.2" width="1.2" height="1.2" fill="#f26a44"/><rect x="411.8" y="494.2" width="1.2" height="1.2" fill="#fee08b"/><rect x="413.2" y="494.2" width="1.2" height="1.2" fill="#fa9555"/><rect x="414.6" y="494.2" width="1.2" height="1.2" fill="#fecc7a"/><rect x="416.0" y="494.2" width="1.2" height="1.2" fill="#f77f4b"/><rect x="417.4" y="494.2" width="1.2" height="1.2" fill="#f88950"/><rect x="418.8" y="494.2" width="1.2" height="1.2" fill="#f99053"/><rect x="420.2" y="494.2" width="1.2" height="1.2" fill="#f26944"/><rect x="421.6" y="494.2" width="1.2" height="1.2" fill="#fee08b"/><rect x="423.0" y="494.2" width="1.2" height="1.2" fill="#f67f4b"/><rect x="424.4" y="494.2" width="1.2" height="1.2" fill="#e95d47"/><rect x="425.8" y="494.2" width="1.2" height="1.2" fill="#f16944"/><rect x="427.2" y="494.2" width="1.2" height="1.2" fill="#fca35c"/><rect x="428.6" y="494.2" width="1.2" height="1.2" fill="#fa9757"/><rect x="430.0" y="494.2" width="1.2" height="1.2" fill="#e6f598"/><rect x="431.4" y="494.2" width="1.2" height="1.2" fill="#eb5f47"/><rect x="432.8" y="494.2" width="1.2" height="1.2" fill="#eb6046"/><rect x="434.2" y="494.2" width="1.2" height="1.2" fill="#f67b4a"/><rect x="435.6" y="494.2" width="1.2" height="1.2" fill="#f98e52"/><rect x="437.0" y="494.2" width="1.2" height="1.2" fill="#fca85e"/><rect x="395.0" y="495.6" width="1.2" height="1.2" fill="#f8874f"/><rect x="396.4" y="495.6" width="1.2" height="1.2" fill="#ceeb9d"/><rect x="397.8" y="495.6" width="1.2" height="1.2" fill="#f36c43"/><rect x="399.2" y="495.6" width="1.2" height="1.2" fill="#ef6545"/><rect x="400.6" y="495.6" width="1.2" height="1.2" fill="#fee08b"/><rect x="402.0" y="495.6" width="1.2" height="1.2" fill="#f99455"/><rect x="403.4" y="495.6" width="1.2" height="1.2" fill="#fa9556"/><rect x="404.8" y="495.6" width="1.2" height="1.2" fill="#f88a50"/><rect x="406.2" y="495.6" width="1.2" height="1.2" fill="#f67949"/><rect x="407.6" y="495.6" width="1.2" height="1.2" fill="#f57547"/><rect x="409.0" y="495.6" width="1.2" height="1.2" fill="#f7804c"/><rect x="410.4" y="495.6" width="1.2" height="1.2" fill="#fecc7a"/><rect x="411.8" y="495.6" width="1.2" height="1.2" fill="#f57547"/><rect x="413.2" y="495.6" width="1.2" height="1.2" fill="#e1504a"/><rect x="414.6" y="495.6" width="1.2" height="1.2" fill="#e6f598"/><rect x="416.0" y="495.6" width="1.2" height="1.2" fill="#e75948"/><rect x="417.4" y="495.6" width="1.2" height="1.2" fill="#ec6246"/><rect x="418.8" y="495.6" width="1.2" height="1.2" fill="#f57346"/><rect x="420.2" y="495.6" width="1.2" height="1.2" fill="#ee6445"/><rect x="421.6" y="495.6" width="1.2" height="1.2" fill="#f57647"/><rect x="423.0" y="495.6" width="1.2" height="1.2" fill="#ceeb9d"/><rect x="424.4" y="495.6" width="1.2" height="1.2" fill="#e6f598"/><rect x="425.8" y="495.6" width="1.2" height="1.2" fill="#fecc7a"/><rect x="427.2" y="495.6" width="1.2" height="1.2" fill="#f67b4a"/><rect x="428.6" y="495.6" width="1.2" height="1.2" fill="#fee08b"/><rect x="430.0" y="495.6" width="1.2" height="1.2" fill="#d33c4f"/><rect x="431.4" y="495.6" width="1.2" height="1.2" fill="#fdc171"/><rect x="432.8" y="495.6" width="1.2" height="1.2" fill="#f67a49"/><rect x="434.2" y="495.6" width="1.2" height="1.2" fill="#fed683"/><rect x="435.6" y="495.6" width="1.2" height="1.2" fill="#f57145"/><rect x="437.0" y="495.6" width="1.2" height="1.2" fill="#f57647"/><rect x="395.0" y="497.0" width="1.2" height="1.2" fill="#f98f53"/><rect x="396.4" y="497.0" width="1.2" height="1.2" fill="#fca95e"/><rect x="397.8" y="497.0" width="1.2" height="1.2" fill="#e6f598"/><rect x="399.2" y="497.0" width="1.2" height="1.2" fill="#fca45d"/><rect x="400.6" y="497.0" width="1.2" height="1.2" fill="#fee695"/><rect x="402.0" y="497.0" width="1.2" height="1.2" fill="#fed683"/><rect x="403.4" y="497.0" width="1.2" height="1.2" fill="#fed683"/><rect x="404.8" y="497.0" width="1.2" height="1.2" fill="#f57346"/><rect x="406.2" y="497.0" width="1.2" height="1.2" fill="#f57145"/><rect x="407.6" y="497.0" width="1.2" height="1.2" fill="#f7834d"/><rect x="409.0" y="497.0" width="1.2" height="1.2" fill="#fca45d"/><rect x="410.4" y="497.0" width="1.2" height="1.2" fill="#fb9f5a"/><rect x="411.8" y="497.0" width="1.2" height="1.2" fill="#fca55d"/><rect x="413.2" y="497.0" width="1.2" height="1.2" fill="#e6f598"/><rect x="414.6" y="497.0" width="1.2" height="1.2" fill="#fa9c58"/><rect x="416.0" y="497.0" width="1.2" height="1.2" fill="#fecc7a"/><rect x="417.4" y="497.0" width="1.2" height="1.2" fill="#f67c4a"/><rect x="418.8" y="497.0" width="1.2" height="1.2" fill="#f7854e"/><rect x="420.2" y="497.0" width="1.2" height="1.2" fill="#fed683"/><rect x="421.6" y="497.0" width="1.2" height="1.2" fill="#fecc7a"/><rect x="423.0" y="497.0" width="1.2" height="1.2" fill="#fee695"/><rect x="424.4" y="497.0" width="1.2" height="1.2" fill="#f88a51"/><rect x="425.8" y="497.0" width="1.2" height="1.2" fill="#f99355"/><rect x="427.2" y="497.0" width="1.2" height="1.2" fill="#f46f44"/><rect x="428.6" y="497.0" width="1.2" height="1.2" fill="#f57245"/><rect x="430.0" y="497.0" width="1.2" height="1.2" fill="#f99053"/><rect x="431.4" y="497.0" width="1.2" height="1.2" fill="#f57346"/><rect x="432.8" y="497.0" width="1.2" height="1.2" fill="#ceeb9d"/><rect x="434.2" y="497.0" width="1.2" height="1.2" fill="#fa9b58"/><rect x="435.6" y="497.0" width="1.2" height="1.2" fill="#fee08b"/><rect x="437.0" y="497.0" width="1.2" height="1.2" fill="#f8884f"/><rect x="395.0" y="498.4" width="1.2" height="1.2" fill="#fecc7a"/><rect x="396.4" y="498.4" width="1.2" height="1.2" fill="#f36b44"/><rect x="397.8" y="498.4" width="1.2" height="1.2" fill="#fdae61"/><rect x="399.2" y="498.4" width="1.2" height="1.2" fill="#f99154"/><rect x="400.6" y="498.4" width="1.2" height="1.2" fill="#f88a50"/><rect x="402.0" y="498.4" width="1.2" height="1.2" fill="#fba15b"/><rect x="403.4" y="498.4" width="1.2" height="1.2" fill="#f16944"/><rect x="404.8" y="498.4" width="1.2" height="1.2" fill="#f88950"/><rect x="406.2" y="498.4" width="1.2" height="1.2" fill="#fee08b"/><rect x="407.6" y="498.4" width="1.2" height="1.2" fill="#d8424e"/><rect x="409.0" y="498.4" width="1.2" height="1.2" fill="#e95d47"/><rect x="410.4" y="498.4" width="1.2" height="1.2" fill="#f8874f"/><rect x="411.8" y="498.4" width="1.2" height="1.2" fill="#fee08b"/><rect x="413.2" y="498.4" width="1.2" height="1.2" fill="#fcaa5f"/><rect x="414.6" y="498.4" width="1.2" height="1.2" fill="#f67c4a"/><rect x="416.0" y="498.4" width="1.2" height="1.2" fill="#f88950"/><rect x="417.4" y="498.4" width="1.2" height="1.2" fill="#fa9a58"/><rect x="418.8" y="498.4" width="1.2" height="1.2" fill="#fba15b"/><rect x="420.2" y="498.4" width="1.2" height="1.2" fill="#e85a48"/><rect x="421.6" y="498.4" width="1.2" height="1.2" fill="#f7834d"/><rect x="423.0" y="498.4" width="1.2" height="1.2" fill="#e6f598"/><rect x="424.4" y="498.4" width="1.2" height="1.2" fill="#fdb567"/><rect x="425.8" y="498.4" width="1.2" height="1.2" fill="#fee08b"/><rect x="427.2" y="498.4" width="1.2" height="1.2" fill="#fa9857"/><rect x="428.6" y="498.4" width="1.2" height="1.2" fill="#fee08b"/><rect x="430.0" y="498.4" width="1.2" height="1.2" fill="#fdb164"/><rect x="431.4" y="498.4" width="1.2" height="1.2" fill="#ea5d47"/><rect x="432.8" y="498.4" width="1.2" height="1.2" fill="#fa9b58"/><rect x="434.2" y="498.4" width="1.2" height="1.2" fill="#f57346"/><rect x="435.6" y="498.4" width="1.2" height="1.2" fill="#fa9957"/><rect x="437.0" y="498.4" width="1.2" height="1.2" fill="#f67949"/><rect x="395.0" y="499.8" width="1.2" height="1.2" fill="#f7844e"/><rect x="396.4" y="499.8" width="1.2" height="1.2" fill="#f67f4b"/><rect x="397.8" y="499.8" width="1.2" height="1.2" fill="#f57346"/><rect x="399.2" y="499.8" width="1.2" height="1.2" fill="#e6f598"/><rect x="400.6" y="499.8" width="1.2" height="1.2" fill="#ee6445"/><rect x="402.0" y="499.8" width="1.2" height="1.2" fill="#f26944"/><rect x="403.4" y="499.8" width="1.2" height="1.2" fill="#f67c4a"/><rect x="404.8" y="499.8" width="1.2" height="1.2" fill="#fed683"/><rect x="406.2" y="499.8" width="1.2" height="1.2" fill="#f67848"/><rect x="407.6" y="499.8" width="1.2" height="1.2" fill="#fa9656"/><rect x="409.0" y="499.8" width="1.2" height="1.2" fill="#fba25c"/><rect x="410.4" y="499.8" width="1.2" height="1.2" fill="#f8884f"/><rect x="411.8" y="499.8" width="1.2" height="1.2" fill="#e6f598"/><rect x="413.2" y="499.8" width="1.2" height="1.2" fill="#fdb567"/><rect x="414.6" y="499.8" width="1.2" height="1.2" fill="#e6f598"/><rect x="416.0" y="499.8" width="1.2" height="1.2" fill="#f46d43"/><rect x="417.4" y="499.8" width="1.2" height="1.2" fill="#f36c43"/><rect x="418.8" y="499.8" width="1.2" height="1.2" fill="#fee08b"/><rect x="420.2" y="499.8" width="1.2" height="1.2" fill="#fee08b"/><rect x="421.6" y="499.8" width="1.2" height="1.2" fill="#f7864f"/><rect x="423.0" y="499.8" width="1.2" height="1.2" fill="#ec6146"/><rect x="424.4" y="499.8" width="1.2" height="1.2" fill="#f47045"/><rect x="425.8" y="499.8" width="1.2" height="1.2" fill="#f98f53"/><rect x="427.2" y="499.8" width="1.2" height="1.2" fill="#fee695"/><rect x="428.6" y="499.8" width="1.2" height="1.2" fill="#f88950"/><rect x="430.0" y="499.8" width="1.2" height="1.2" fill="#f67949"/><rect x="431.4" y="499.8" width="1.2" height="1.2" fill="#fecc7a"/><rect x="432.8" y="499.8" width="1.2" height="1.2" fill="#f88a50"/><rect x="434.2" y="499.8" width="1.2" height="1.2" fill="#f67e4b"/><rect x="435.6" y="499.8" width="1.2" height="1.2" fill="#fee695"/><rect x="437.0" y="499.8" width="1.2" height="1.2" fill="#f57346"/><rect x="395.0" y="501.2" width="1.2" height="1.2" fill="#e6f598"/><rect x="396.4" y="501.2" width="1.2" height="1.2" fill="#fca35c"/><rect x="397.8" y="501.2" width="1.2" height="1.2" fill="#f57245"/><rect x="399.2" y="501.2" width="1.2" height="1.2" fill="#fecc7a"/><rect x="400.6" y="501.2" width="1.2" height="1.2" fill="#fb9e59"/><rect x="402.0" y="501.2" width="1.2" height="1.2" fill="#f36c43"/><rect x="403.4" y="501.2" width="1.2" height="1.2" fill="#f7834d"/><rect x="404.8" y="501.2" width="1.2" height="1.2" fill="#f88a51"/><rect x="406.2" y="501.2" width="1.2" height="1.2" fill="#fdb769"/><rect x="407.6" y="501.2" width="1.2" height="1.2" fill="#f57747"/><rect x="409.0" y="501.2" width="1.2" height="1.2" fill="#f36c43"/><rect x="410.4" y="501.2" width="1.2" height="1.2" fill="#fa9857"/><rect x="411.8" y="501.2" width="1.2" height="1.2" fill="#f47044"/><rect x="413.2" y="501.2" width="1.2" height="1.2" fill="#fdab5f"/><rect x="414.6" y="501.2" width="1.2" height="1.2" fill="#ea5f47"/><rect x="416.0" y="501.2" width="1.2" height="1.2" fill="#f67948"/><rect x="417.4" y="501.2" width="1.2" height="1.2" fill="#fed683"/><rect x="418.8" y="501.2" width="1.2" height="1.2" fill="#f99254"/><rect x="420.2" y="501.2" width="1.2" height="1.2" fill="#ef6545"/><rect x="421.6" y="501.2" width="1.2" height="1.2" fill="#fecc7a"/><rect x="423.0" y="501.2" width="1.2" height="1.2" fill="#eb5f46"/><rect x="424.4" y="501.2" width="1.2" height="1.2" fill="#f57547"/><rect x="425.8" y="501.2" width="1.2" height="1.2" fill="#eb5f47"/><rect x="427.2" y="501.2" width="1.2" height="1.2" fill="#f57547"/><rect x="428.6" y="501.2" width="1.2" height="1.2" fill="#e55649"/><rect x="430.0" y="501.2" width="1.2" height="1.2" fill="#ceeb9d"/><rect x="431.4" y="501.2" width="1.2" height="1.2" fill="#fee08b"/><rect x="432.8" y="501.2" width="1.2" height="1.2" fill="#da464d"/><rect x="434.2" y="501.2" width="1.2" height="1.2" fill="#ceeb9d"/><rect x="435.6" y="501.2" width="1.2" height="1.2" fill="#f36b43"/><rect x="437.0" y="501.2" width="1.2" height="1.2" fill="#ceeb9d"/><rect x="395.0" y="502.6" width="1.2" height="1.2" fill="#fecc7a"/><rect x="396.4" y="502.6" width="1.2" height="1.2" fill="#fee695"/><rect x="397.8" y="502.6" width="1.2" height="1.2" fill="#fee695"/><rect x="399.2" y="502.6" width="1.2" height="1.2" fill="#fb9f5a"/><rect x="400.6" y="502.6" width="1.2" height="1.2" fill="#f88a50"/><rect x="402.0" y="502.6" width="1.2" height="1.2" fill="#fa9c59"/><rect x="403.4" y="502.6" width="1.2" height="1.2" fill="#e6f598"/><rect x="404.8" y="502.6" width="1.2" height="1.2" fill="#f88d52"/><rect x="406.2" y="502.6" width="1.2" height="1.2" fill="#f8874f"/><rect x="407.6" y="502.6" width="1.2" height="1.2" fill="#fca35c"/><rect x="409.0" y="502.6" width="1.2" height="1.2" fill="#f46f44"/><rect x="410.4" y="502.6" width="1.2" height="1.2" fill="#f67d4a"/><rect x="411.8" y="502.6" width="1.2" height="1.2" fill="#fa9b58"/><rect x="413.2" y="502.6" width="1.2" height="1.2" fill="#fb9f5a"/><rect x="414.6" y="502.6" width="1.2" height="1.2" fill="#fa9556"/><rect x="416.0" y="502.6" width="1.2" height="1.2" fill="#f67c4a"/><rect x="417.4" y="502.6" width="1.2" height="1.2" fill="#f88b51"/><rect x="418.8" y="502.6" width="1.2" height="1.2" fill="#fee08b"/><rect x="420.2" y="502.6" width="1.2" height="1.2" fill="#f57245"/><rect x="421.6" y="502.6" width="1.2" height="1.2" fill="#e95c47"/><rect x="423.0" y="502.6" width="1.2" height="1.2" fill="#fee695"/><rect x="424.4" y="502.6" width="1.2" height="1.2" fill="#fa9857"/><rect x="425.8" y="502.6" width="1.2" height="1.2" fill="#fee695"/><rect x="427.2" y="502.6" width="1.2" height="1.2" fill="#fed683"/><rect x="428.6" y="502.6" width="1.2" height="1.2" fill="#e65848"/><rect x="430.0" y="502.6" width="1.2" height="1.2" fill="#fee695"/><rect x="431.4" y="502.6" width="1.2" height="1.2" fill="#f57848"/><rect x="432.8" y="502.6" width="1.2" height="1.2" fill="#f8874f"/><rect x="434.2" y="502.6" width="1.2" height="1.2" fill="#fed683"/><rect x="435.6" y="502.6" width="1.2" height="1.2" fill="#fecc7a"/><rect x="437.0" y="502.6" width="1.2" height="1.2" fill="#f88b51"/><rect x="395.0" y="504.0" width="1.2" height="1.2" fill="#f7804c"/><rect x="396.4" y="504.0" width="1.2" height="1.2" fill="#ed6246"/><rect x="397.8" y="504.0" width="1.2" height="1.2" fill="#ed6346"/><rect x="399.2" y="504.0" width="1.2" height="1.2" fill="#e65749"/><rect x="400.6" y="504.0" width="1.2" height="1.2" fill="#f06844"/><rect x="402.0" y="504.0" width="1.2" height="1.2" fill="#ea5f47"/><rect x="403.4" y="504.0" width="1.2" height="1.2" fill="#f26944"/><rect x="404.8" y="504.0" width="1.2" height="1.2" fill="#f67e4b"/><rect x="406.2" y="504.0" width="1.2" height="1.2" fill="#f99053"/><rect x="407.6" y="504.0" width="1.2" height="1.2" fill="#f8874f"/><rect x="409.0" y="504.0" width="1.2" height="1.2" fill="#fdac60"/><rect x="410.4" y="504.0" width="1.2" height="1.2" fill="#f57145"/><rect x="411.8" y="504.0" width="1.2" height="1.2" fill="#e85b48"/><rect x="413.2" y="504.0" width="1.2" height="1.2" fill="#e95c47"/><rect x="414.6" y="504.0" width="1.2" height="1.2" fill="#fa9c59"/><rect x="416.0" y="504.0" width="1.2" height="1.2" fill="#f8884f"/><rect x="417.4" y="504.0" width="1.2" height="1.2" fill="#fdc171"/><rect x="418.8" y="504.0" width="1.2" height="1.2" fill="#f7824d"/><rect x="420.2" y="504.0" width="1.2" height="1.2" fill="#f26b44"/><rect x="421.6" y="504.0" width="1.2" height="1.2" fill="#fba25b"/><rect x="423.0" y="504.0" width="1.2" height="1.2" fill="#f57547"/><rect x="424.4" y="504.0" width="1.2" height="1.2" fill="#f57245"/><rect x="425.8" y="504.0" width="1.2" height="1.2" fill="#e6f598"/><rect x="427.2" y="504.0" width="1.2" height="1.2" fill="#df4e4b"/><rect x="428.6" y="504.0" width="1.2" height="1.2" fill="#f47145"/><rect x="430.0" y="504.0" width="1.2" height="1.2" fill="#f7844d"/><rect x="431.4" y="504.0" width="1.2" height="1.2" fill="#f57748"/><rect x="432.8" y="504.0" width="1.2" height="1.2" fill="#f36c43"/><rect x="434.2" y="504.0" width="1.2" height="1.2" fill="#f88d52"/><rect x="435.6" y="504.0" width="1.2" height="1.2" fill="#f67949"/><rect x="437.0" y="504.0" width="1.2" height="1.2" fill="#f88950"/><rect x="395.0" y="505.4" width="1.2" height="1.2" fill="#fca45c"/><rect x="396.4" y="505.4" width="1.2" height="1.2" fill="#fed683"/><rect x="397.8" y="505.4" width="1.2" height="1.2" fill="#f36c43"/><rect x="399.2" y="505.4" width="1.2" height="1.2" fill="#ee6445"/><rect x="400.6" y="505.4" width="1.2" height="1.2" fill="#f36c43"/><rect x="402.0" y="505.4" width="1.2" height="1.2" fill="#fa9555"/><rect x="403.4" y="505.4" width="1.2" height="1.2" fill="#f46d43"/><rect x="404.8" y="505.4" width="1.2" height="1.2" fill="#ef6545"/><rect x="406.2" y="505.4" width="1.2" height="1.2" fill="#e2514a"/><rect x="407.6" y="505.4" width="1.2" height="1.2" fill="#f46d43"/><rect x="409.0" y="505.4" width="1.2" height="1.2" fill="#fa9c59"/><rect x="410.4" y="505.4" width="1.2" height="1.2" fill="#f67949"/><rect x="411.8" y="505.4" width="1.2" height="1.2" fill="#f98e52"/><rect x="413.2" y="505.4" width="1.2" height="1.2" fill="#f36c43"/><rect x="414.6" y="505.4" width="1.2" height="1.2" fill="#f46e43"/><rect x="416.0" y="505.4" width="1.2" height="1.2" fill="#fba05a"/><rect x="417.4" y="505.4" width="1.2" height="1.2" fill="#f7854e"/><rect x="418.8" y="505.4" width="1.2" height="1.2" fill="#f77f4b"/><rect x="420.2" y="505.4" width="1.2" height="1.2" fill="#f57547"/><rect x="421.6" y="505.4" width="1.2" height="1.2" fill="#fed683"/><rect x="423.0" y="505.4" width="1.2" height="1.2" fill="#f7844e"/><rect x="424.4" y="505.4" width="1.2" height="1.2" fill="#f67a49"/><rect x="425.8" y="505.4" width="1.2" height="1.2" fill="#fca95e"/><rect x="427.2" y="505.4" width="1.2" height="1.2" fill="#f7844d"/><rect x="428.6" y="505.4" width="1.2" height="1.2" fill="#fecc7a"/><rect x="430.0" y="505.4" width="1.2" height="1.2" fill="#f98e52"/><rect x="431.4" y="505.4" width="1.2" height="1.2" fill="#f98e52"/><rect x="432.8" y="505.4" width="1.2" height="1.2" fill="#f98e52"/><rect x="434.2" y="505.4" width="1.2" height="1.2" fill="#fa9556"/><rect x="435.6" y="505.4" width="1.2" height="1.2" fill="#fdb769"/><rect x="437.0" y="505.4" width="1.2" height="1.2" fill="#f88850"/><rect x="395.0" y="506.8" width="1.2" height="1.2" fill="#f88b51"/><rect x="396.4" y="506.8" width="1.2" height="1.2" fill="#f67848"/><rect x="397.8" y="506.8" width="1.2" height="1.2" fill="#f67848"/><rect x="399.2" y="506.8" width="1.2" height="1.2" fill="#f46e43"/><rect x="400.6" y="506.8" width="1.2" height="1.2" fill="#f99355"/><rect x="402.0" y="506.8" width="1.2" height="1.2" fill="#f98e52"/><rect x="403.4" y="506.8" width="1.2" height="1.2" fill="#f7824d"/><rect x="404.8" y="506.8" width="1.2" height="1.2" fill="#f88b51"/><rect x="406.2" y="506.8" width="1.2" height="1.2" fill="#fa9556"/><rect x="407.6" y="506.8" width="1.2" height="1.2" fill="#f7854e"/><rect x="409.0" y="506.8" width="1.2" height="1.2" fill="#f57145"/><rect x="410.4" y="506.8" width="1.2" height="1.2" fill="#e04f4b"/><rect x="411.8" y="506.8" width="1.2" height="1.2" fill="#f7824d"/><rect x="413.2" y="506.8" width="1.2" height="1.2" fill="#e6f598"/><rect x="414.6" y="506.8" width="1.2" height="1.2" fill="#f67848"/><rect x="416.0" y="506.8" width="1.2" height="1.2" fill="#fdbe6e"/><rect x="417.4" y="506.8" width="1.2" height="1.2" fill="#f57748"/><rect x="418.8" y="506.8" width="1.2" height="1.2" fill="#ec6146"/><rect x="420.2" y="506.8" width="1.2" height="1.2" fill="#ec6146"/><rect x="421.6" y="506.8" width="1.2" height="1.2" fill="#f36b44"/><rect x="423.0" y="506.8" width="1.2" height="1.2" fill="#ea5f47"/><rect x="424.4" y="506.8" width="1.2" height="1.2" fill="#f88d52"/><rect x="425.8" y="506.8" width="1.2" height="1.2" fill="#ef6645"/><rect x="427.2" y="506.8" width="1.2" height="1.2" fill="#fdbc6d"/><rect x="428.6" y="506.8" width="1.2" height="1.2" fill="#f26b44"/><rect x="430.0" y="506.8" width="1.2" height="1.2" fill="#fdb163"/><rect x="431.4" y="506.8" width="1.2" height="1.2" fill="#f46d43"/><rect x="432.8" y="506.8" width="1.2" height="1.2" fill="#fdb163"/><rect x="434.2" y="506.8" width="1.2" height="1.2" fill="#ee6445"/><rect x="435.6" y="506.8" width="1.2" height="1.2" fill="#f88d52"/><rect x="437.0" y="506.8" width="1.2" height="1.2" fill="#e75948"/><rect x="395.0" y="508.2" width="1.2" height="1.2" fill="#f98e52"/><rect x="396.4" y="508.2" width="1.2" height="1.2" fill="#f7824c"/><rect x="397.8" y="508.2" width="1.2" height="1.2" fill="#f47045"/><rect x="399.2" y="508.2" width="1.2" height="1.2" fill="#fdbf6f"/><rect x="400.6" y="508.2" width="1.2" height="1.2" fill="#f7814c"/><rect x="402.0" y="508.2" width="1.2" height="1.2" fill="#fdac60"/><rect x="403.4" y="508.2" width="1.2" height="1.2" fill="#f06645"/><rect x="404.8" y="508.2" width="1.2" height="1.2" fill="#e75948"/><rect x="406.2" y="508.2" width="1.2" height="1.2" fill="#fa9757"/><rect x="407.6" y="508.2" width="1.2" height="1.2" fill="#fca45c"/><rect x="409.0" y="508.2" width="1.2" height="1.2" fill="#fdb163"/><rect x="410.4" y="508.2" width="1.2" height="1.2" fill="#fecc7a"/><rect x="411.8" y="508.2" width="1.2" height="1.2" fill="#fdb062"/><rect x="413.2" y="508.2" width="1.2" height="1.2" fill="#e45449"/><rect x="414.6" y="508.2" width="1.2" height="1.2" fill="#fa9656"/><rect x="416.0" y="508.2" width="1.2" height="1.2" fill="#f88950"/><rect x="417.4" y="508.2" width="1.2" height="1.2" fill="#f57446"/><rect x="418.8" y="508.2" width="1.2" height="1.2" fill="#fecc7a"/><rect x="420.2" y="508.2" width="1.2" height="1.2" fill="#f46f44"/><rect x="421.6" y="508.2" width="1.2" height="1.2" fill="#f88a50"/><rect x="423.0" y="508.2" width="1.2" height="1.2" fill="#e95d47"/><rect x="424.4" y="508.2" width="1.2" height="1.2" fill="#f67f4b"/><rect x="425.8" y="508.2" width="1.2" height="1.2" fill="#fed683"/><rect x="427.2" y="508.2" width="1.2" height="1.2" fill="#fa9857"/><rect x="428.6" y="508.2" width="1.2" height="1.2" fill="#f57346"/><rect x="430.0" y="508.2" width="1.2" height="1.2" fill="#fca45c"/><rect x="431.4" y="508.2" width="1.2" height="1.2" fill="#ea5e47"/><rect x="432.8" y="508.2" width="1.2" height="1.2" fill="#f88d52"/><rect x="434.2" y="508.2" width="1.2" height="1.2" fill="#f36c43"/><rect x="435.6" y="508.2" width="1.2" height="1.2" fill="#fdb063"/><rect x="437.0" y="508.2" width="1.2" height="1.2" fill="#fca85e"/><rect x="395.0" y="509.6" width="1.2" height="1.2" fill="#e45449"/><rect x="396.4" y="509.6" width="1.2" height="1.2" fill="#f7804c"/><rect x="397.8" y="509.6" width="1.2" height="1.2" fill="#fdab60"/><rect x="399.2" y="509.6" width="1.2" height="1.2" fill="#fa9555"/><rect x="400.6" y="509.6" width="1.2" height="1.2" fill="#e85b48"/><rect x="402.0" y="509.6" width="1.2" height="1.2" fill="#f88850"/><rect x="403.4" y="509.6" width="1.2" height="1.2" fill="#ef6645"/><rect x="404.8" y="509.6" width="1.2" height="1.2" fill="#ed6346"/><rect x="406.2" y="509.6" width="1.2" height="1.2" fill="#fb9e5a"/><rect x="407.6" y="509.6" width="1.2" height="1.2" fill="#f7864f"/><rect x="409.0" y="509.6" width="1.2" height="1.2" fill="#f99355"/><rect x="410.4" y="509.6" width="1.2" height="1.2" fill="#ea5e47"/><rect x="411.8" y="509.6" width="1.2" height="1.2" fill="#f7804c"/><rect x="413.2" y="509.6" width="1.2" height="1.2" fill="#f88d52"/><rect x="414.6" y="509.6" width="1.2" height="1.2" fill="#f7864e"/><rect x="416.0" y="509.6" width="1.2" height="1.2" fill="#f88950"/><rect x="417.4" y="509.6" width="1.2" height="1.2" fill="#f46f44"/><rect x="418.8" y="509.6" width="1.2" height="1.2" fill="#f47045"/><rect x="420.2" y="509.6" width="1.2" height="1.2" fill="#f46d43"/><rect x="421.6" y="509.6" width="1.2" height="1.2" fill="#ef6645"/><rect x="423.0" y="509.6" width="1.2" height="1.2" fill="#f8874f"/><rect x="424.4" y="509.6" width="1.2" height="1.2" fill="#f7834d"/><rect x="425.8" y="509.6" width="1.2" height="1.2" fill="#f36b43"/><rect x="427.2" y="509.6" width="1.2" height="1.2" fill="#e2524a"/><rect x="428.6" y="509.6" width="1.2" height="1.2" fill="#f57245"/><rect x="430.0" y="509.6" width="1.2" height="1.2" fill="#ee6445"/><rect x="431.4" y="509.6" width="1.2" height="1.2" fill="#e6f598"/><rect x="432.8" y="509.6" width="1.2" height="1.2" fill="#e75948"/><rect x="434.2" y="509.6" width="1.2" height="1.2" fill="#fba35c"/><rect x="435.6" y="509.6" width="1.2" height="1.2" fill="#fdae61"/><rect x="437.0" y="509.6" width="1.2" height="1.2" fill="#e95d47"/><rect x="395.0" y="511.0" width="1.2" height="1.2" fill="#f98e52"/><rect x="396.4" y="511.0" width="1.2" height="1.2" fill="#f47044"/><rect x="397.8" y="511.0" width="1.2" height="1.2" fill="#ef6645"/><rect x="399.2" y="511.0" width="1.2" height="1.2" fill="#f88d52"/><rect x="400.6" y="511.0" width="1.2" height="1.2" fill="#f57747"/><rect x="402.0" y="511.0" width="1.2" height="1.2" fill="#f36b43"/><rect x="403.4" y="511.0" width="1.2" height="1.2" fill="#eb6046"/><rect x="404.8" y="511.0" width="1.2" height="1.2" fill="#f46d43"/><rect x="406.2" y="511.0" width="1.2" height="1.2" fill="#f67c4a"/><rect x="407.6" y="511.0" width="1.2" height="1.2" fill="#f57145"/><rect x="409.0" y="511.0" width="1.2" height="1.2" fill="#f88850"/><rect x="410.4" y="511.0" width="1.2" height="1.2" fill="#f67b4a"/><rect x="411.8" y="511.0" width="1.2" height="1.2" fill="#f36c43"/><rect x="413.2" y="511.0" width="1.2" height="1.2" fill="#f7864e"/><rect x="414.6" y="511.0" width="1.2" height="1.2" fill="#f16844"/><rect x="416.0" y="511.0" width="1.2" height="1.2" fill="#f7864e"/><rect x="417.4" y="511.0" width="1.2" height="1.2" fill="#f47044"/><rect x="418.8" y="511.0" width="1.2" height="1.2" fill="#f46e43"/><rect x="420.2" y="511.0" width="1.2" height="1.2" fill="#fca75e"/><rect x="421.6" y="511.0" width="1.2" height="1.2" fill="#f16944"/><rect x="423.0" y="511.0" width="1.2" height="1.2" fill="#ec6046"/><rect x="424.4" y="511.0" width="1.2" height="1.2" fill="#fa9b58"/><rect x="425.8" y="511.0" width="1.2" height="1.2" fill="#fdaf61"/><rect x="427.2" y="511.0" width="1.2" height="1.2" fill="#f06745"/><rect x="428.6" y="511.0" width="1.2" height="1.2" fill="#fa9656"/><rect x="430.0" y="511.0" width="1.2" height="1.2" fill="#e6f598"/><rect x="431.4" y="511.0" width="1.2" height="1.2" fill="#e75948"/><rect x="432.8" y="511.0" width="1.2" height="1.2" fill="#fdae61"/><rect x="434.2" y="511.0" width="1.2" height="1.2" fill="#e55649"/><rect x="435.6" y="511.0" width="1.2" height="1.2" fill="#ef6545"/><rect x="437.0" y="511.0" width="1.2" height="1.2" fill="#f57446"/><rect x="395.0" y="512.4" width="1.2" height="1.2" fill="#fdb063"/><rect x="396.4" y="512.4" width="1.2" height="1.2" fill="#f26944"/><rect x="397.8" y="512.4" width="1.2" height="1.2" fill="#fdb264"/><rect x="399.2" y="512.4" width="1.2" height="1.2" fill="#fdbc6d"/><rect x="400.6" y="512.4" width="1.2" height="1.2" fill="#f77f4b"/><rect x="402.0" y="512.4" width="1.2" height="1.2" fill="#fba15b"/><rect x="403.4" y="512.4" width="1.2" height="1.2" fill="#f99455"/><rect x="404.8" y="512.4" width="1.2" height="1.2" fill="#f36c43"/><rect x="406.2" y="512.4" width="1.2" height="1.2" fill="#f46d43"/><rect x="407.6" y="512.4" width="1.2" height="1.2" fill="#e55649"/><rect x="409.0" y="512.4" width="1.2" height="1.2" fill="#fba25c"/><rect x="410.4" y="512.4" width="1.2" height="1.2" fill="#fdb869"/><rect x="411.8" y="512.4" width="1.2" height="1.2" fill="#f26944"/><rect x="413.2" y="512.4" width="1.2" height="1.2" fill="#f57848"/><rect x="414.6" y="512.4" width="1.2" height="1.2" fill="#fa9756"/><rect x="416.0" y="512.4" width="1.2" height="1.2" fill="#fca55d"/><rect x="417.4" y="512.4" width="1.2" height="1.2" fill="#f88c51"/><rect x="418.8" y="512.4" width="1.2" height="1.2" fill="#e45549"/><rect x="420.2" y="512.4" width="1.2" height="1.2" fill="#f36b43"/><rect x="421.6" y="512.4" width="1.2" height="1.2" fill="#ee6445"/><rect x="423.0" y="512.4" width="1.2" height="1.2" fill="#e75948"/><rect x="424.4" y="512.4" width="1.2" height="1.2" fill="#fca95f"/><rect x="425.8" y="512.4" width="1.2" height="1.2" fill="#fca75e"/><rect x="427.2" y="512.4" width="1.2" height="1.2" fill="#fdb365"/><rect x="428.6" y="512.4" width="1.2" height="1.2" fill="#f98f53"/><rect x="430.0" y="512.4" width="1.2" height="1.2" fill="#fcaa5f"/><rect x="431.4" y="512.4" width="1.2" height="1.2" fill="#fdaf62"/><rect x="432.8" y="512.4" width="1.2" height="1.2" fill="#fca55d"/><rect x="434.2" y="512.4" width="1.2" height="1.2" fill="#f7824d"/><rect x="435.6" y="512.4" width="1.2" height="1.2" fill="#f57748"/><rect x="437.0" y="512.4" width="1.2" height="1.2" fill="#f67b49"/><rect x="395.0" y="513.8" width="1.2" height="1.2" fill="#fb9e5a"/><rect x="396.4" y="513.8" width="1.2" height="1.2" fill="#e6f598"/><rect x="397.8" y="513.8" width="1.2" height="1.2" fill="#fa9a58"/><rect x="399.2" y="513.8" width="1.2" height="1.2" fill="#fca45d"/><rect x="400.6" y="513.8" width="1.2" height="1.2" fill="#f67848"/><rect x="402.0" y="513.8" width="1.2" height="1.2" fill="#f88a50"/><rect x="403.4" y="513.8" width="1.2" height="1.2" fill="#f8884f"/><rect x="404.8" y="513.8" width="1.2" height="1.2" fill="#fb9c59"/><rect x="406.2" y="513.8" width="1.2" height="1.2" fill="#f7814c"/><rect x="407.6" y="513.8" width="1.2" height="1.2" fill="#fa9957"/><rect x="409.0" y="513.8" width="1.2" height="1.2" fill="#f8884f"/><rect x="410.4" y="513.8" width="1.2" height="1.2" fill="#f99355"/><rect x="411.8" y="513.8" width="1.2" height="1.2" fill="#da454d"/><rect x="413.2" y="513.8" width="1.2" height="1.2" fill="#f7814c"/><rect x="414.6" y="513.8" width="1.2" height="1.2" fill="#f57245"/><rect x="416.0" y="513.8" width="1.2" height="1.2" fill="#fdb567"/><rect x="417.4" y="513.8" width="1.2" height="1.2" fill="#e65848"/><rect x="418.8" y="513.8" width="1.2" height="1.2" fill="#f46e43"/><rect x="420.2" y="513.8" width="1.2" height="1.2" fill="#f57145"/><rect x="421.6" y="513.8" width="1.2" height="1.2" fill="#fecc7a"/><rect x="423.0" y="513.8" width="1.2" height="1.2" fill="#fdb668"/><rect x="424.4" y="513.8" width="1.2" height="1.2" fill="#fdad60"/><rect x="425.8" y="513.8" width="1.2" height="1.2" fill="#db474d"/><rect x="427.2" y="513.8" width="1.2" height="1.2" fill="#f46e44"/><rect x="428.6" y="513.8" width="1.2" height="1.2" fill="#f36c43"/><rect x="430.0" y="513.8" width="1.2" height="1.2" fill="#fb9d59"/><rect x="431.4" y="513.8" width="1.2" height="1.2" fill="#f67c4a"/><rect x="432.8" y="513.8" width="1.2" height="1.2" fill="#f8884f"/><rect x="434.2" y="513.8" width="1.2" height="1.2" fill="#f57145"/><rect x="435.6" y="513.8" width="1.2" height="1.2" fill="#fa9656"/><rect x="437.0" y="513.8" width="1.2" height="1.2" fill="#f67c4a"/><rect x="395.0" y="515.2" width="1.2" height="1.2" fill="#f8874f"/><rect x="396.4" y="515.2" width="1.2" height="1.2" fill="#ed6246"/><rect x="397.8" y="515.2" width="1.2" height="1.2" fill="#f7854e"/><rect x="399.2" y="515.2" width="1.2" height="1.2" fill="#fdc474"/><rect x="400.6" y="515.2" width="1.2" height="1.2" fill="#f7864e"/><rect x="402.0" y="515.2" width="1.2" height="1.2" fill="#e6f598"/><rect x="403.4" y="515.2" width="1.2" height="1.2" fill="#f88b51"/><rect x="404.8" y="515.2" width="1.2" height="1.2" fill="#fdac60"/><rect x="406.2" y="515.2" width="1.2" height="1.2" fill="#f46e44"/><rect x="407.6" y="515.2" width="1.2" height="1.2" fill="#ee6445"/><rect x="409.0" y="515.2" width="1.2" height="1.2" fill="#f57245"/><rect x="410.4" y="515.2" width="1.2" height="1.2" fill="#f67f4b"/><rect x="411.8" y="515.2" width="1.2" height="1.2" fill="#f67949"/><rect x="413.2" y="515.2" width="1.2" height="1.2" fill="#fba25c"/><rect x="414.6" y="515.2" width="1.2" height="1.2" fill="#f16944"/><rect x="416.0" y="515.2" width="1.2" height="1.2" fill="#eb5f47"/><rect x="417.4" y="515.2" width="1.2" height="1.2" fill="#ea5d47"/><rect x="418.8" y="515.2" width="1.2" height="1.2" fill="#fb9f5a"/><rect x="420.2" y="515.2" width="1.2" height="1.2" fill="#f67a49"/><rect x="421.6" y="515.2" width="1.2" height="1.2" fill="#f67a49"/><rect x="423.0" y="515.2" width="1.2" height="1.2" fill="#fed683"/><rect x="424.4" y="515.2" width="1.2" height="1.2" fill="#f46e44"/><rect x="425.8" y="515.2" width="1.2" height="1.2" fill="#da464d"/><rect x="427.2" y="515.2" width="1.2" height="1.2" fill="#fb9f5a"/><rect x="428.6" y="515.2" width="1.2" height="1.2" fill="#fdac60"/><rect x="430.0" y="515.2" width="1.2" height="1.2" fill="#ee6445"/><rect x="431.4" y="515.2" width="1.2" height="1.2" fill="#f47044"/><rect x="432.8" y="515.2" width="1.2" height="1.2" fill="#f7824d"/><rect x="434.2" y="515.2" width="1.2" height="1.2" fill="#e55649"/><rect x="435.6" y="515.2" width="1.2" height="1.2" fill="#f7814c"/><rect x="437.0" y="515.2" width="1.2" height="1.2" fill="#e3534a"/><rect x="395.0" y="516.6" width="1.2" height="1.2" fill="#f57346"/><rect x="396.4" y="516.6" width="1.2" height="1.2" fill="#fa9656"/><rect x="397.8" y="516.6" width="1.2" height="1.2" fill="#ed6346"/><rect x="399.2" y="516.6" width="1.2" height="1.2" fill="#f99053"/><rect x="400.6" y="516.6" width="1.2" height="1.2" fill="#f99355"/><rect x="402.0" y="516.6" width="1.2" height="1.2" fill="#f98e52"/><rect x="403.4" y="516.6" width="1.2" height="1.2" fill="#f67b49"/><rect x="404.8" y="516.6" width="1.2" height="1.2" fill="#f67a49"/><rect x="406.2" y="516.6" width="1.2" height="1.2" fill="#f06744"/><rect x="407.6" y="516.6" width="1.2" height="1.2" fill="#f88c51"/><rect x="409.0" y="516.6" width="1.2" height="1.2" fill="#fba25c"/><rect x="410.4" y="516.6" width="1.2" height="1.2" fill="#f06745"/><rect x="411.8" y="516.6" width="1.2" height="1.2" fill="#f67948"/><rect x="413.2" y="516.6" width="1.2" height="1.2" fill="#f88950"/><rect x="414.6" y="516.6" width="1.2" height="1.2" fill="#fa9957"/><rect x="416.0" y="516.6" width="1.2" height="1.2" fill="#f99455"/><rect x="417.4" y="516.6" width="1.2" height="1.2" fill="#f7814c"/><rect x="418.8" y="516.6" width="1.2" height="1.2" fill="#f47044"/><rect x="420.2" y="516.6" width="1.2" height="1.2" fill="#f67b4a"/><rect x="421.6" y="516.6" width="1.2" height="1.2" fill="#fdac60"/><rect x="423.0" y="516.6" width="1.2" height="1.2" fill="#ef6645"/><rect x="424.4" y="516.6" width="1.2" height="1.2" fill="#f7844e"/><rect x="425.8" y="516.6" width="1.2" height="1.2" fill="#f88c51"/><rect x="427.2" y="516.6" width="1.2" height="1.2" fill="#fed683"/><rect x="428.6" y="516.6" width="1.2" height="1.2" fill="#f88b51"/><rect x="430.0" y="516.6" width="1.2" height="1.2" fill="#e6f598"/><rect x="431.4" y="516.6" width="1.2" height="1.2" fill="#f99053"/><rect x="432.8" y="516.6" width="1.2" height="1.2" fill="#f47044"/><rect x="434.2" y="516.6" width="1.2" height="1.2" fill="#fed683"/><rect x="435.6" y="516.6" width="1.2" height="1.2" fill="#f7804c"/><rect x="437.0" y="516.6" width="1.2" height="1.2" fill="#fdbc6d"/><rect x="395.0" y="518.0" width="1.2" height="1.2" fill="#fdac60"/><rect x="396.4" y="518.0" width="1.2" height="1.2" fill="#f88b51"/><rect x="397.8" y="518.0" width="1.2" height="1.2" fill="#f26944"/><rect x="399.2" y="518.0" width="1.2" height="1.2" fill="#f88b51"/><rect x="400.6" y="518.0" width="1.2" height="1.2" fill="#eb5f46"/><rect x="402.0" y="518.0" width="1.2" height="1.2" fill="#f67c4a"/><rect x="403.4" y="518.0" width="1.2" height="1.2" fill="#fdab60"/><rect x="404.8" y="518.0" width="1.2" height="1.2" fill="#fca55d"/><rect x="406.2" y="518.0" width="1.2" height="1.2" fill="#fa9957"/><rect x="407.6" y="518.0" width="1.2" height="1.2" fill="#fca65d"/><rect x="409.0" y="518.0" width="1.2" height="1.2" fill="#fa9656"/><rect x="410.4" y="518.0" width="1.2" height="1.2" fill="#f88b51"/><rect x="411.8" y="518.0" width="1.2" height="1.2" fill="#f67949"/><rect x="413.2" y="518.0" width="1.2" height="1.2" fill="#fa9555"/><rect x="414.6" y="518.0" width="1.2" height="1.2" fill="#fdab60"/><rect x="416.0" y="518.0" width="1.2" height="1.2" fill="#fdc675"/><rect x="417.4" y="518.0" width="1.2" height="1.2" fill="#fdaf62"/><rect x="418.8" y="518.0" width="1.2" height="1.2" fill="#f88950"/><rect x="420.2" y="518.0" width="1.2" height="1.2" fill="#e1514a"/><rect x="421.6" y="518.0" width="1.2" height="1.2" fill="#fdb96a"/><rect x="423.0" y="518.0" width="1.2" height="1.2" fill="#f88d52"/><rect x="424.4" y="518.0" width="1.2" height="1.2" fill="#f46d43"/><rect x="425.8" y="518.0" width="1.2" height="1.2" fill="#f88d52"/><rect x="427.2" y="518.0" width="1.2" height="1.2" fill="#e6f598"/><rect x="428.6" y="518.0" width="1.2" height="1.2" fill="#f99254"/><rect x="430.0" y="518.0" width="1.2" height="1.2" fill="#fca95f"/><rect x="431.4" y="518.0" width="1.2" height="1.2" fill="#fca55d"/><rect x="432.8" y="518.0" width="1.2" height="1.2" fill="#f46e43"/><rect x="434.2" y="518.0" width="1.2" height="1.2" fill="#f88950"/><rect x="435.6" y="518.0" width="1.2" height="1.2" fill="#fdb567"/><rect x="437.0" y="518.0" width="1.2" height="1.2" fill="#f7854e"/><rect x="395.0" y="519.4" width="1.2" height="1.2" fill="#f88b51"/><rect x="396.4" y="519.4" width="1.2" height="1.2" fill="#fdb769"/><rect x="397.8" y="519.4" width="1.2" height="1.2" fill="#f36b43"/><rect x="399.2" y="519.4" width="1.2" height="1.2" fill="#fdae61"/><rect x="400.6" y="519.4" width="1.2" height="1.2" fill="#f57346"/><rect x="402.0" y="519.4" width="1.2" height="1.2" fill="#f99354"/><rect x="403.4" y="519.4" width="1.2" height="1.2" fill="#f46f44"/><rect x="404.8" y="519.4" width="1.2" height="1.2" fill="#eb5f47"/><rect x="406.2" y="519.4" width="1.2" height="1.2" fill="#f88950"/><rect x="407.6" y="519.4" width="1.2" height="1.2" fill="#e85a48"/><rect x="409.0" y="519.4" width="1.2" height="1.2" fill="#fecb7a"/><rect x="410.4" y="519.4" width="1.2" height="1.2" fill="#fed683"/><rect x="411.8" y="519.4" width="1.2" height="1.2" fill="#f06844"/><rect x="413.2" y="519.4" width="1.2" height="1.2" fill="#fed683"/><rect x="414.6" y="519.4" width="1.2" height="1.2" fill="#eb5f47"/><rect x="416.0" y="519.4" width="1.2" height="1.2" fill="#f67a49"/><rect x="417.4" y="519.4" width="1.2" height="1.2" fill="#fca65d"/><rect x="418.8" y="519.4" width="1.2" height="1.2" fill="#f99455"/><rect x="420.2" y="519.4" width="1.2" height="1.2" fill="#ed6246"/><rect x="421.6" y="519.4" width="1.2" height="1.2" fill="#f57346"/><rect x="423.0" y="519.4" width="1.2" height="1.2" fill="#f8874f"/><rect x="424.4" y="519.4" width="1.2" height="1.2" fill="#fdc171"/><rect x="425.8" y="519.4" width="1.2" height="1.2" fill="#f99455"/><rect x="427.2" y="519.4" width="1.2" height="1.2" fill="#fba05b"/><rect x="428.6" y="519.4" width="1.2" height="1.2" fill="#fdc474"/><rect x="430.0" y="519.4" width="1.2" height="1.2" fill="#fecc7a"/><rect x="431.4" y="519.4" width="1.2" height="1.2" fill="#e1514a"/><rect x="432.8" y="519.4" width="1.2" height="1.2" fill="#e65848"/><rect x="434.2" y="519.4" width="1.2" height="1.2" fill="#e85b48"/><rect x="435.6" y="519.4" width="1.2" height="1.2" fill="#ee6445"/><rect x="437.0" y="519.4" width="1.2" height="1.2" fill="#e1514a"/><rect x="395.0" y="520.8" width="1.2" height="1.2" fill="#fdac60"/><rect x="396.4" y="520.8" width="1.2" height="1.2" fill="#e1504a"/><rect x="397.8" y="520.8" width="1.2" height="1.2" fill="#fb9d59"/><rect x="399.2" y="520.8" width="1.2" height="1.2" fill="#fca35c"/><rect x="400.6" y="520.8" width="1.2" height="1.2" fill="#f67d4a"/><rect x="402.0" y="520.8" width="1.2" height="1.2" fill="#f67b4a"/><rect x="403.4" y="520.8" width="1.2" height="1.2" fill="#eb5f47"/><rect x="404.8" y="520.8" width="1.2" height="1.2" fill="#f46d43"/><rect x="406.2" y="520.8" width="1.2" height="1.2" fill="#ef6545"/><rect x="407.6" y="520.8" width="1.2" height="1.2" fill="#f57346"/><rect x="409.0" y="520.8" width="1.2" height="1.2" fill="#fdbc6c"/><rect x="410.4" y="520.8" width="1.2" height="1.2" fill="#f8884f"/><rect x="411.8" y="520.8" width="1.2" height="1.2" fill="#f57245"/><rect x="413.2" y="520.8" width="1.2" height="1.2" fill="#f99154"/><rect x="414.6" y="520.8" width="1.2" height="1.2" fill="#eb6046"/><rect x="416.0" y="520.8" width="1.2" height="1.2" fill="#da454d"/><rect x="417.4" y="520.8" width="1.2" height="1.2" fill="#fb9d59"/><rect x="418.8" y="520.8" width="1.2" height="1.2" fill="#f67d4b"/><rect x="420.2" y="520.8" width="1.2" height="1.2" fill="#f7814c"/><rect x="421.6" y="520.8" width="1.2" height="1.2" fill="#f99154"/><rect x="423.0" y="520.8" width="1.2" height="1.2" fill="#fa9957"/><rect x="424.4" y="520.8" width="1.2" height="1.2" fill="#ee6445"/><rect x="425.8" y="520.8" width="1.2" height="1.2" fill="#ea5e47"/><rect x="427.2" y="520.8" width="1.2" height="1.2" fill="#f26a44"/><rect x="428.6" y="520.8" width="1.2" height="1.2" fill="#f7844e"/><rect x="430.0" y="520.8" width="1.2" height="1.2" fill="#f67b49"/><rect x="431.4" y="520.8" width="1.2" height="1.2" fill="#f46f44"/><rect x="432.8" y="520.8" width="1.2" height="1.2" fill="#f67c4a"/><rect x="434.2" y="520.8" width="1.2" height="1.2" fill="#f46d43"/><rect x="435.6" y="520.8" width="1.2" height="1.2" fill="#f67a49"/><rect x="437.0" y="520.8" width="1.2" height="1.2" fill="#f36b43"/><rect x="395.0" y="522.2" width="1.2" height="1.2" fill="#f98e52"/><rect x="396.4" y="522.2" width="1.2" height="1.2" fill="#fca45d"/><rect x="397.8" y="522.2" width="1.2" height="1.2" fill="#ee6445"/><rect x="399.2" y="522.2" width="1.2" height="1.2" fill="#fba35c"/><rect x="400.6" y="522.2" width="1.2" height="1.2" fill="#fdb566"/><rect x="402.0" y="522.2" width="1.2" height="1.2" fill="#e6f598"/><rect x="403.4" y="522.2" width="1.2" height="1.2" fill="#fdc271"/><rect x="404.8" y="522.2" width="1.2" height="1.2" fill="#f67e4b"/><rect x="406.2" y="522.2" width="1.2" height="1.2" fill="#f16944"/><rect x="407.6" y="522.2" width="1.2" height="1.2" fill="#e6f598"/><rect x="409.0" y="522.2" width="1.2" height="1.2" fill="#f67949"/><rect x="410.4" y="522.2" width="1.2" height="1.2" fill="#f99455"/><rect x="411.8" y="522.2" width="1.2" height="1.2" fill="#f57245"/><rect x="413.2" y="522.2" width="1.2" height="1.2" fill="#f16944"/><rect x="414.6" y="522.2" width="1.2" height="1.2" fill="#f46c43"/><rect x="416.0" y="522.2" width="1.2" height="1.2" fill="#fdc070"/><rect x="417.4" y="522.2" width="1.2" height="1.2" fill="#f67d4b"/><rect x="418.8" y="522.2" width="1.2" height="1.2" fill="#f57245"/><rect x="420.2" y="522.2" width="1.2" height="1.2" fill="#f67d4a"/><rect x="421.6" y="522.2" width="1.2" height="1.2" fill="#e6f598"/><rect x="423.0" y="522.2" width="1.2" height="1.2" fill="#f26a44"/><rect x="424.4" y="522.2" width="1.2" height="1.2" fill="#f7854e"/><rect x="425.8" y="522.2" width="1.2" height="1.2" fill="#fca95f"/><rect x="427.2" y="522.2" width="1.2" height="1.2" fill="#f67b49"/><rect x="428.6" y="522.2" width="1.2" height="1.2" fill="#f98f53"/><rect x="430.0" y="522.2" width="1.2" height="1.2" fill="#f7834d"/><rect x="431.4" y="522.2" width="1.2" height="1.2" fill="#f57245"/><rect x="432.8" y="522.2" width="1.2" height="1.2" fill="#f47044"/><rect x="434.2" y="522.2" width="1.2" height="1.2" fill="#f67848"/><rect x="435.6" y="522.2" width="1.2" height="1.2" fill="#f7854e"/><rect x="437.0" y="522.2" width="1.2" height="1.2" fill="#f98f53"/><rect x="395.0" y="523.6" width="1.2" height="1.2" fill="#f57848"/><rect x="396.4" y="523.6" width="1.2" height="1.2" fill="#eb5f46"/><rect x="397.8" y="523.6" width="1.2" height="1.2" fill="#ef6545"/><rect x="399.2" y="523.6" width="1.2" height="1.2" fill="#e6f598"/><rect x="400.6" y="523.6" width="1.2" height="1.2" fill="#f36c43"/><rect x="402.0" y="523.6" width="1.2" height="1.2" fill="#fdba6b"/><rect x="403.4" y="523.6" width="1.2" height="1.2" fill="#eb5f46"/><rect x="404.8" y="523.6" width="1.2" height="1.2" fill="#f67b4a"/><rect x="406.2" y="523.6" width="1.2" height="1.2" fill="#f57245"/><rect x="407.6" y="523.6" width="1.2" height="1.2" fill="#f46e44"/><rect x="409.0" y="523.6" width="1.2" height="1.2" fill="#f8874f"/><rect x="410.4" y="523.6" width="1.2" height="1.2" fill="#f67c4a"/><rect x="411.8" y="523.6" width="1.2" height="1.2" fill="#fecc7a"/><rect x="413.2" y="523.6" width="1.2" height="1.2" fill="#fca95f"/><rect x="414.6" y="523.6" width="1.2" height="1.2" fill="#fecc7a"/><rect x="416.0" y="523.6" width="1.2" height="1.2" fill="#f67a49"/><rect x="417.4" y="523.6" width="1.2" height="1.2" fill="#f57647"/><rect x="418.8" y="523.6" width="1.2" height="1.2" fill="#fa9957"/><rect x="420.2" y="523.6" width="1.2" height="1.2" fill="#f67e4b"/><rect x="421.6" y="523.6" width="1.2" height="1.2" fill="#f7814c"/><rect x="423.0" y="523.6" width="1.2" height="1.2" fill="#f98e52"/><rect x="424.4" y="523.6" width="1.2" height="1.2" fill="#f7834d"/><rect x="425.8" y="523.6" width="1.2" height="1.2" fill="#f7864e"/><rect x="427.2" y="523.6" width="1.2" height="1.2" fill="#fdaf62"/><rect x="428.6" y="523.6" width="1.2" height="1.2" fill="#f67848"/><rect x="430.0" y="523.6" width="1.2" height="1.2" fill="#f06744"/><rect x="431.4" y="523.6" width="1.2" height="1.2" fill="#f98e52"/><rect x="432.8" y="523.6" width="1.2" height="1.2" fill="#fed683"/><rect x="434.2" y="523.6" width="1.2" height="1.2" fill="#fecc7a"/><rect x="435.6" y="523.6" width="1.2" height="1.2" fill="#ee6345"/><rect x="437.0" y="523.6" width="1.2" height="1.2" fill="#f7804c"/><rect x="395.0" y="525.0" width="1.2" height="1.2" fill="#e45549"/><rect x="396.4" y="525.0" width="1.2" height="1.2" fill="#fb9e5a"/><rect x="397.8" y="525.0" width="1.2" height="1.2" fill="#fa9857"/><rect x="399.2" y="525.0" width="1.2" height="1.2" fill="#f8864f"/><rect x="400.6" y="525.0" width="1.2" height="1.2" fill="#ed6246"/><rect x="402.0" y="525.0" width="1.2" height="1.2" fill="#d43d4f"/><rect x="403.4" y="525.0" width="1.2" height="1.2" fill="#fdb96a"/><rect x="404.8" y="525.0" width="1.2" height="1.2" fill="#f7834d"/><rect x="406.2" y="525.0" width="1.2" height="1.2" fill="#fa9556"/><rect x="407.6" y="525.0" width="1.2" height="1.2" fill="#f46e43"/><rect x="409.0" y="525.0" width="1.2" height="1.2" fill="#fdb264"/><rect x="410.4" y="525.0" width="1.2" height="1.2" fill="#f7814c"/><rect x="411.8" y="525.0" width="1.2" height="1.2" fill="#f57346"/><rect x="413.2" y="525.0" width="1.2" height="1.2" fill="#f8874f"/><rect x="414.6" y="525.0" width="1.2" height="1.2" fill="#f99053"/><rect x="416.0" y="525.0" width="1.2" height="1.2" fill="#e1514a"/><rect x="417.4" y="525.0" width="1.2" height="1.2" fill="#f99153"/><rect x="418.8" y="525.0" width="1.2" height="1.2" fill="#f67d4a"/><rect x="420.2" y="525.0" width="1.2" height="1.2" fill="#f57647"/><rect x="421.6" y="525.0" width="1.2" height="1.2" fill="#f99154"/><rect x="423.0" y="525.0" width="1.2" height="1.2" fill="#eb6046"/><rect x="424.4" y="525.0" width="1.2" height="1.2" fill="#fca45c"/><rect x="425.8" y="525.0" width="1.2" height="1.2" fill="#f67848"/><rect x="427.2" y="525.0" width="1.2" height="1.2" fill="#fb9c59"/><rect x="428.6" y="525.0" width="1.2" height="1.2" fill="#f26b44"/><rect x="430.0" y="525.0" width="1.2" height="1.2" fill="#fa9656"/><rect x="431.4" y="525.0" width="1.2" height="1.2" fill="#f99053"/><rect x="432.8" y="525.0" width="1.2" height="1.2" fill="#ec6046"/><rect x="434.2" y="525.0" width="1.2" height="1.2" fill="#f98f53"/><rect x="435.6" y="525.0" width="1.2" height="1.2" fill="#f8864f"/><rect x="437.0" y="525.0" width="1.2" height="1.2" fill="#e6f598"/></g>
<path d="M407.2 491.5 C409.8 491 411.6 493.5 411.2 497 C410.8 500 409 501 407.6 500.2 C406 499 405.8 494 407.2 491.5 Z" fill="#fff"/>
<path d="M453.8 476.9C454.7 476.2 457.0 476.7 458.5 476.9C460.0 477.1 461.5 477.3 462.7 477.9C463.9 478.4 464.3 479.7 465.6 480.2C466.9 480.7 468.6 480.5 470.6 480.9C472.6 481.3 475.3 482.1 477.4 482.8C479.5 483.5 481.8 483.9 483.4 484.8C485.0 485.7 486.4 486.9 487.3 488.2C488.2 489.5 488.6 491.3 488.8 492.7C489.0 494.1 489.1 495.5 488.3 496.6C487.6 497.8 485.8 498.8 484.3 499.6C482.8 500.4 480.7 500.9 479.4 501.5C478.1 502.1 476.7 502.5 476.5 503.5C476.3 504.5 477.8 505.9 478.4 507.4C479.0 508.9 479.7 510.8 479.9 512.4C480.1 514.0 480.1 515.8 479.4 517.3C478.7 518.8 477.5 520.1 475.5 521.2C473.5 522.4 470.6 523.6 467.6 524.2C464.7 524.8 460.6 524.9 457.8 524.7C455.0 524.5 452.5 524.1 450.9 523.2C449.3 522.3 448.9 520.9 448.4 519.2C447.9 517.6 447.6 514.9 447.9 513.3C448.1 511.7 448.9 510.5 449.9 509.4C450.9 508.2 452.6 507.4 453.8 506.4C455.0 505.4 456.8 504.5 456.8 503.5C456.8 502.5 454.1 501.8 453.8 500.5C453.5 499.2 454.5 497.2 454.8 495.6C455.1 494.0 455.9 492.3 455.8 490.7C455.7 489.1 454.7 487.4 454.3 485.8C453.9 484.2 453.4 482.4 453.3 480.9C453.2 479.4 452.9 477.6 453.8 476.9Z" fill="#f6dcae"/>
<g clip-path="url(#hlc)"><rect x="447.0" y="476.0" width="1.2" height="1.2" fill="#80cca5"/><rect x="448.4" y="476.0" width="1.2" height="1.2" fill="#67c2a5"/><rect x="449.8" y="476.0" width="1.2" height="1.2" fill="#85cea5"/><rect x="451.2" y="476.0" width="1.2" height="1.2" fill="#6cc5a5"/><rect x="452.6" y="476.0" width="1.2" height="1.2" fill="#d1ed9c"/><rect x="454.0" y="476.0" width="1.2" height="1.2" fill="#8ed1a4"/><rect x="455.4" y="476.0" width="1.2" height="1.2" fill="#b3e0a2"/><rect x="456.8" y="476.0" width="1.2" height="1.2" fill="#97d5a4"/><rect x="458.2" y="476.0" width="1.2" height="1.2" fill="#fba15b"/><rect x="459.6" y="476.0" width="1.2" height="1.2" fill="#fdbe6e"/><rect x="461.0" y="476.0" width="1.2" height="1.2" fill="#7fcca5"/><rect x="462.4" y="476.0" width="1.2" height="1.2" fill="#6bc4a5"/><rect x="463.8" y="476.0" width="1.2" height="1.2" fill="#a3daa4"/><rect x="465.2" y="476.0" width="1.2" height="1.2" fill="#b6e1a2"/><rect x="466.6" y="476.0" width="1.2" height="1.2" fill="#7fcca5"/><rect x="468.0" y="476.0" width="1.2" height="1.2" fill="#b0dfa3"/><rect x="469.4" y="476.0" width="1.2" height="1.2" fill="#fee492"/><rect x="470.8" y="476.0" width="1.2" height="1.2" fill="#fed17e"/><rect x="472.2" y="476.0" width="1.2" height="1.2" fill="#fec877"/><rect x="473.6" y="476.0" width="1.2" height="1.2" fill="#fdbe6e"/><rect x="475.0" y="476.0" width="1.2" height="1.2" fill="#fdbb6c"/><rect x="476.4" y="476.0" width="1.2" height="1.2" fill="#fecd7b"/><rect x="477.8" y="476.0" width="1.2" height="1.2" fill="#fca45c"/><rect x="479.2" y="476.0" width="1.2" height="1.2" fill="#f99355"/><rect x="480.6" y="476.0" width="1.2" height="1.2" fill="#f7844e"/><rect x="482.0" y="476.0" width="1.2" height="1.2" fill="#fdaf62"/><rect x="483.4" y="476.0" width="1.2" height="1.2" fill="#fca45c"/><rect x="484.8" y="476.0" width="1.2" height="1.2" fill="#fa9a58"/><rect x="486.2" y="476.0" width="1.2" height="1.2" fill="#f67f4b"/><rect x="487.6" y="476.0" width="1.2" height="1.2" fill="#fdbd6e"/><rect x="489.0" y="476.0" width="1.2" height="1.2" fill="#fb9d59"/><rect x="447.0" y="477.4" width="1.2" height="1.2" fill="#73c7a5"/><rect x="448.4" y="477.4" width="1.2" height="1.2" fill="#fb9f5a"/><rect x="449.8" y="477.4" width="1.2" height="1.2" fill="#fdb668"/><rect x="451.2" y="477.4" width="1.2" height="1.2" fill="#9bd7a4"/><rect x="452.6" y="477.4" width="1.2" height="1.2" fill="#d6ee9b"/><rect x="454.0" y="477.4" width="1.2" height="1.2" fill="#fa9656"/><rect x="455.4" y="477.4" width="1.2" height="1.2" fill="#7dcba5"/><rect x="456.8" y="477.4" width="1.2" height="1.2" fill="#67c2a5"/><rect x="458.2" y="477.4" width="1.2" height="1.2" fill="#91d3a4"/><rect x="459.6" y="477.4" width="1.2" height="1.2" fill="#b1e0a3"/><rect x="461.0" y="477.4" width="1.2" height="1.2" fill="#9ed8a4"/><rect x="462.4" y="477.4" width="1.2" height="1.2" fill="#a1d9a4"/><rect x="463.8" y="477.4" width="1.2" height="1.2" fill="#fa9b58"/><rect x="465.2" y="477.4" width="1.2" height="1.2" fill="#fca55d"/><rect x="466.6" y="477.4" width="1.2" height="1.2" fill="#fdb264"/><rect x="468.0" y="477.4" width="1.2" height="1.2" fill="#fba35c"/><rect x="469.4" y="477.4" width="1.2" height="1.2" fill="#fb9d59"/><rect x="470.8" y="477.4" width="1.2" height="1.2" fill="#fec977"/><rect x="472.2" y="477.4" width="1.2" height="1.2" fill="#fdb668"/><rect x="473.6" y="477.4" width="1.2" height="1.2" fill="#fecc7a"/><rect x="475.0" y="477.4" width="1.2" height="1.2" fill="#fba25c"/><rect x="476.4" y="477.4" width="1.2" height="1.2" fill="#fdb366"/><rect x="477.8" y="477.4" width="1.2" height="1.2" fill="#fcaa5f"/><rect x="479.2" y="477.4" width="1.2" height="1.2" fill="#fca45c"/><rect x="480.6" y="477.4" width="1.2" height="1.2" fill="#fdab60"/><rect x="482.0" y="477.4" width="1.2" height="1.2" fill="#f98e52"/><rect x="483.4" y="477.4" width="1.2" height="1.2" fill="#fa9c59"/><rect x="484.8" y="477.4" width="1.2" height="1.2" fill="#fdb96b"/><rect x="486.2" y="477.4" width="1.2" height="1.2" fill="#fdc575"/><rect x="487.6" y="477.4" width="1.2" height="1.2" fill="#fca75e"/><rect x="489.0" y="477.4" width="1.2" height="1.2" fill="#feda86"/><rect x="447.0" y="478.8" width="1.2" height="1.2" fill="#87cfa5"/><rect x="448.4" y="478.8" width="1.2" height="1.2" fill="#fdb265"/><rect x="449.8" y="478.8" width="1.2" height="1.2" fill="#afdfa3"/><rect x="451.2" y="478.8" width="1.2" height="1.2" fill="#a4daa4"/><rect x="452.6" y="478.8" width="1.2" height="1.2" fill="#98d6a4"/><rect x="454.0" y="478.8" width="1.2" height="1.2" fill="#fdc574"/><rect x="455.4" y="478.8" width="1.2" height="1.2" fill="#f99153"/><rect x="456.8" y="478.8" width="1.2" height="1.2" fill="#b5e1a2"/><rect x="458.2" y="478.8" width="1.2" height="1.2" fill="#fba15b"/><rect x="459.6" y="478.8" width="1.2" height="1.2" fill="#64c0a6"/><rect x="461.0" y="478.8" width="1.2" height="1.2" fill="#86cfa5"/><rect x="462.4" y="478.8" width="1.2" height="1.2" fill="#77c9a5"/><rect x="463.8" y="478.8" width="1.2" height="1.2" fill="#8fd2a4"/><rect x="465.2" y="478.8" width="1.2" height="1.2" fill="#95d4a4"/><rect x="466.6" y="478.8" width="1.2" height="1.2" fill="#9bd7a4"/><rect x="468.0" y="478.8" width="1.2" height="1.2" fill="#bee5a0"/><rect x="469.4" y="478.8" width="1.2" height="1.2" fill="#fdb466"/><rect x="470.8" y="478.8" width="1.2" height="1.2" fill="#fdb96a"/><rect x="472.2" y="478.8" width="1.2" height="1.2" fill="#fdb668"/><rect x="473.6" y="478.8" width="1.2" height="1.2" fill="#fdc474"/><rect x="475.0" y="478.8" width="1.2" height="1.2" fill="#fdbc6d"/><rect x="476.4" y="478.8" width="1.2" height="1.2" fill="#f8884f"/><rect x="477.8" y="478.8" width="1.2" height="1.2" fill="#fdbf70"/><rect x="479.2" y="478.8" width="1.2" height="1.2" fill="#fed380"/><rect x="480.6" y="478.8" width="1.2" height="1.2" fill="#fba35c"/><rect x="482.0" y="478.8" width="1.2" height="1.2" fill="#fdbd6d"/><rect x="483.4" y="478.8" width="1.2" height="1.2" fill="#fdc171"/><rect x="484.8" y="478.8" width="1.2" height="1.2" fill="#f88850"/><rect x="486.2" y="478.8" width="1.2" height="1.2" fill="#fdb466"/><rect x="487.6" y="478.8" width="1.2" height="1.2" fill="#fba25b"/><rect x="489.0" y="478.8" width="1.2" height="1.2" fill="#fdac60"/><rect x="447.0" y="480.2" width="1.2" height="1.2" fill="#f67d4b"/><rect x="448.4" y="480.2" width="1.2" height="1.2" fill="#fb9d59"/><rect x="449.8" y="480.2" width="1.2" height="1.2" fill="#fed683"/><rect x="451.2" y="480.2" width="1.2" height="1.2" fill="#f67d4a"/><rect x="452.6" y="480.2" width="1.2" height="1.2" fill="#fdbe6f"/><rect x="454.0" y="480.2" width="1.2" height="1.2" fill="#fdbb6c"/><rect x="455.4" y="480.2" width="1.2" height="1.2" fill="#fa9a58"/><rect x="456.8" y="480.2" width="1.2" height="1.2" fill="#fdb566"/><rect x="458.2" y="480.2" width="1.2" height="1.2" fill="#fdbb6c"/><rect x="459.6" y="480.2" width="1.2" height="1.2" fill="#fdbb6c"/><rect x="461.0" y="480.2" width="1.2" height="1.2" fill="#fdba6b"/><rect x="462.4" y="480.2" width="1.2" height="1.2" fill="#f98f53"/><rect x="463.8" y="480.2" width="1.2" height="1.2" fill="#fca95f"/><rect x="465.2" y="480.2" width="1.2" height="1.2" fill="#f88950"/><rect x="466.6" y="480.2" width="1.2" height="1.2" fill="#f57748"/><rect x="468.0" y="480.2" width="1.2" height="1.2" fill="#fa9b58"/><rect x="469.4" y="480.2" width="1.2" height="1.2" fill="#fdc675"/><rect x="470.8" y="480.2" width="1.2" height="1.2" fill="#fdaf62"/><rect x="472.2" y="480.2" width="1.2" height="1.2" fill="#fca55d"/><rect x="473.6" y="480.2" width="1.2" height="1.2" fill="#fed17f"/><rect x="475.0" y="480.2" width="1.2" height="1.2" fill="#fdb466"/><rect x="476.4" y="480.2" width="1.2" height="1.2" fill="#fecd7b"/><rect x="477.8" y="480.2" width="1.2" height="1.2" fill="#f88d52"/><rect x="479.2" y="480.2" width="1.2" height="1.2" fill="#fedd89"/><rect x="480.6" y="480.2" width="1.2" height="1.2" fill="#fdbb6c"/><rect x="482.0" y="480.2" width="1.2" height="1.2" fill="#fdab60"/><rect x="483.4" y="480.2" width="1.2" height="1.2" fill="#fdad60"/><rect x="484.8" y="480.2" width="1.2" height="1.2" fill="#fec978"/><rect x="486.2" y="480.2" width="1.2" height="1.2" fill="#fb9c59"/><rect x="487.6" y="480.2" width="1.2" height="1.2" fill="#fdb466"/><rect x="489.0" y="480.2" width="1.2" height="1.2" fill="#f7844e"/><rect x="447.0" y="481.6" width="1.2" height="1.2" fill="#fdaf62"/><rect x="448.4" y="481.6" width="1.2" height="1.2" fill="#fa9857"/><rect x="449.8" y="481.6" width="1.2" height="1.2" fill="#feda86"/><rect x="451.2" y="481.6" width="1.2" height="1.2" fill="#fdad61"/><rect x="452.6" y="481.6" width="1.2" height="1.2" fill="#fdb063"/><rect x="454.0" y="481.6" width="1.2" height="1.2" fill="#fecb79"/><rect x="455.4" y="481.6" width="1.2" height="1.2" fill="#fee694"/><rect x="456.8" y="481.6" width="1.2" height="1.2" fill="#fb9c59"/><rect x="458.2" y="481.6" width="1.2" height="1.2" fill="#f88b51"/><rect x="459.6" y="481.6" width="1.2" height="1.2" fill="#fdc171"/><rect x="461.0" y="481.6" width="1.2" height="1.2" fill="#fa9857"/><rect x="462.4" y="481.6" width="1.2" height="1.2" fill="#fb9f5a"/><rect x="463.8" y="481.6" width="1.2" height="1.2" fill="#fdc070"/><rect x="465.2" y="481.6" width="1.2" height="1.2" fill="#fdc272"/><rect x="466.6" y="481.6" width="1.2" height="1.2" fill="#ec6046"/><rect x="468.0" y="481.6" width="1.2" height="1.2" fill="#fb9f5a"/><rect x="469.4" y="481.6" width="1.2" height="1.2" fill="#fca65d"/><rect x="470.8" y="481.6" width="1.2" height="1.2" fill="#fdba6b"/><rect x="472.2" y="481.6" width="1.2" height="1.2" fill="#fed582"/><rect x="473.6" y="481.6" width="1.2" height="1.2" fill="#fdab60"/><rect x="475.0" y="481.6" width="1.2" height="1.2" fill="#fdb668"/><rect x="476.4" y="481.6" width="1.2" height="1.2" fill="#fca95f"/><rect x="477.8" y="481.6" width="1.2" height="1.2" fill="#fdb365"/><rect x="479.2" y="481.6" width="1.2" height="1.2" fill="#fede89"/><rect x="480.6" y="481.6" width="1.2" height="1.2" fill="#fdbd6d"/><rect x="482.0" y="481.6" width="1.2" height="1.2" fill="#fdaf62"/><rect x="483.4" y="481.6" width="1.2" height="1.2" fill="#fdbc6d"/><rect x="484.8" y="481.6" width="1.2" height="1.2" fill="#fdac60"/><rect x="486.2" y="481.6" width="1.2" height="1.2" fill="#fcaa5f"/><rect x="487.6" y="481.6" width="1.2" height="1.2" fill="#fdb567"/><rect x="489.0" y="481.6" width="1.2" height="1.2" fill="#fdbd6e"/><rect x="447.0" y="483.0" width="1.2" height="1.2" fill="#f67f4b"/><rect x="448.4" y="483.0" width="1.2" height="1.2" fill="#fcaa5f"/><rect x="449.8" y="483.0" width="1.2" height="1.2" fill="#fca95f"/><rect x="451.2" y="483.0" width="1.2" height="1.2" fill="#fba35c"/><rect x="452.6" y="483.0" width="1.2" height="1.2" fill="#fdac60"/><rect x="454.0" y="483.0" width="1.2" height="1.2" fill="#fee18c"/><rect x="455.4" y="483.0" width="1.2" height="1.2" fill="#fdbc6d"/><rect x="456.8" y="483.0" width="1.2" height="1.2" fill="#fdab5f"/><rect x="458.2" y="483.0" width="1.2" height="1.2" fill="#fba35c"/><rect x="459.6" y="483.0" width="1.2" height="1.2" fill="#fdb163"/><rect x="461.0" y="483.0" width="1.2" height="1.2" fill="#fecd7b"/><rect x="462.4" y="483.0" width="1.2" height="1.2" fill="#fdba6b"/><rect x="463.8" y="483.0" width="1.2" height="1.2" fill="#fca65d"/><rect x="465.2" y="483.0" width="1.2" height="1.2" fill="#fdb063"/><rect x="466.6" y="483.0" width="1.2" height="1.2" fill="#ed6246"/><rect x="468.0" y="483.0" width="1.2" height="1.2" fill="#fba25b"/><rect x="469.4" y="483.0" width="1.2" height="1.2" fill="#fca45c"/><rect x="470.8" y="483.0" width="1.2" height="1.2" fill="#fdb668"/><rect x="472.2" y="483.0" width="1.2" height="1.2" fill="#fee593"/><rect x="473.6" y="483.0" width="1.2" height="1.2" fill="#fa9656"/><rect x="475.0" y="483.0" width="1.2" height="1.2" fill="#fdc373"/><rect x="476.4" y="483.0" width="1.2" height="1.2" fill="#f88a50"/><rect x="477.8" y="483.0" width="1.2" height="1.2" fill="#fdbc6d"/><rect x="479.2" y="483.0" width="1.2" height="1.2" fill="#fdba6b"/><rect x="480.6" y="483.0" width="1.2" height="1.2" fill="#f99154"/><rect x="482.0" y="483.0" width="1.2" height="1.2" fill="#fdbc6c"/><rect x="483.4" y="483.0" width="1.2" height="1.2" fill="#fedb87"/><rect x="484.8" y="483.0" width="1.2" height="1.2" fill="#fca65d"/><rect x="486.2" y="483.0" width="1.2" height="1.2" fill="#fca55d"/><rect x="487.6" y="483.0" width="1.2" height="1.2" fill="#fca65d"/><rect x="489.0" y="483.0" width="1.2" height="1.2" fill="#fdb668"/><rect x="447.0" y="484.4" width="1.2" height="1.2" fill="#fca95f"/><rect x="448.4" y="484.4" width="1.2" height="1.2" fill="#fec877"/><rect x="449.8" y="484.4" width="1.2" height="1.2" fill="#fdb365"/><rect x="451.2" y="484.4" width="1.2" height="1.2" fill="#fa9c58"/><rect x="452.6" y="484.4" width="1.2" height="1.2" fill="#fff3aa"/><rect x="454.0" y="484.4" width="1.2" height="1.2" fill="#fba15b"/><rect x="455.4" y="484.4" width="1.2" height="1.2" fill="#f98f52"/><rect x="456.8" y="484.4" width="1.2" height="1.2" fill="#f7814c"/><rect x="458.2" y="484.4" width="1.2" height="1.2" fill="#fdba6b"/><rect x="459.6" y="484.4" width="1.2" height="1.2" fill="#fba25c"/><rect x="461.0" y="484.4" width="1.2" height="1.2" fill="#fdb466"/><rect x="462.4" y="484.4" width="1.2" height="1.2" fill="#feca78"/><rect x="463.8" y="484.4" width="1.2" height="1.2" fill="#fca85e"/><rect x="465.2" y="484.4" width="1.2" height="1.2" fill="#fa9556"/><rect x="466.6" y="484.4" width="1.2" height="1.2" fill="#fa9857"/><rect x="468.0" y="484.4" width="1.2" height="1.2" fill="#fee08b"/><rect x="469.4" y="484.4" width="1.2" height="1.2" fill="#fdb668"/><rect x="470.8" y="484.4" width="1.2" height="1.2" fill="#fdb567"/><rect x="472.2" y="484.4" width="1.2" height="1.2" fill="#fdb063"/><rect x="473.6" y="484.4" width="1.2" height="1.2" fill="#fed582"/><rect x="475.0" y="484.4" width="1.2" height="1.2" fill="#f57446"/><rect x="476.4" y="484.4" width="1.2" height="1.2" fill="#fed784"/><rect x="477.8" y="484.4" width="1.2" height="1.2" fill="#feca78"/><rect x="479.2" y="484.4" width="1.2" height="1.2" fill="#f67d4a"/><rect x="480.6" y="484.4" width="1.2" height="1.2" fill="#fcaa5f"/><rect x="482.0" y="484.4" width="1.2" height="1.2" fill="#fdc574"/><rect x="483.4" y="484.4" width="1.2" height="1.2" fill="#fdc373"/><rect x="484.8" y="484.4" width="1.2" height="1.2" fill="#fb9d59"/><rect x="486.2" y="484.4" width="1.2" height="1.2" fill="#fdc272"/><rect x="487.6" y="484.4" width="1.2" height="1.2" fill="#fa9b58"/><rect x="489.0" y="484.4" width="1.2" height="1.2" fill="#fba35c"/><rect x="447.0" y="485.8" width="1.2" height="1.2" fill="#fca65d"/><rect x="448.4" y="485.8" width="1.2" height="1.2" fill="#5cb7a9"/><rect x="449.8" y="485.8" width="1.2" height="1.2" fill="#feda86"/><rect x="451.2" y="485.8" width="1.2" height="1.2" fill="#bce4a1"/><rect x="452.6" y="485.8" width="1.2" height="1.2" fill="#fec978"/><rect x="454.0" y="485.8" width="1.2" height="1.2" fill="#fdb264"/><rect x="455.4" y="485.8" width="1.2" height="1.2" fill="#50aaaf"/><rect x="456.8" y="485.8" width="1.2" height="1.2" fill="#fed683"/><rect x="458.2" y="485.8" width="1.2" height="1.2" fill="#b4e1a2"/><rect x="459.6" y="485.8" width="1.2" height="1.2" fill="#fec978"/><rect x="461.0" y="485.8" width="1.2" height="1.2" fill="#fdb96a"/><rect x="462.4" y="485.8" width="1.2" height="1.2" fill="#fca85e"/><rect x="463.8" y="485.8" width="1.2" height="1.2" fill="#fec877"/><rect x="465.2" y="485.8" width="1.2" height="1.2" fill="#f99154"/><rect x="466.6" y="485.8" width="1.2" height="1.2" fill="#fedb87"/><rect x="468.0" y="485.8" width="1.2" height="1.2" fill="#fca85e"/><rect x="469.4" y="485.8" width="1.2" height="1.2" fill="#fdbc6d"/><rect x="470.8" y="485.8" width="1.2" height="1.2" fill="#f7834d"/><rect x="472.2" y="485.8" width="1.2" height="1.2" fill="#fdc372"/><rect x="473.6" y="485.8" width="1.2" height="1.2" fill="#fdc373"/><rect x="475.0" y="485.8" width="1.2" height="1.2" fill="#fed481"/><rect x="476.4" y="485.8" width="1.2" height="1.2" fill="#f57647"/><rect x="477.8" y="485.8" width="1.2" height="1.2" fill="#fba15b"/><rect x="479.2" y="485.8" width="1.2" height="1.2" fill="#fecd7b"/><rect x="480.6" y="485.8" width="1.2" height="1.2" fill="#fdbb6c"/><rect x="482.0" y="485.8" width="1.2" height="1.2" fill="#feca79"/><rect x="483.4" y="485.8" width="1.2" height="1.2" fill="#f7844e"/><rect x="484.8" y="485.8" width="1.2" height="1.2" fill="#fca75e"/><rect x="486.2" y="485.8" width="1.2" height="1.2" fill="#fee390"/><rect x="487.6" y="485.8" width="1.2" height="1.2" fill="#fdae61"/><rect x="489.0" y="485.8" width="1.2" height="1.2" fill="#fa9857"/><rect x="447.0" y="487.2" width="1.2" height="1.2" fill="#a1d9a4"/><rect x="448.4" y="487.2" width="1.2" height="1.2" fill="#9bd7a4"/><rect x="449.8" y="487.2" width="1.2" height="1.2" fill="#fdb264"/><rect x="451.2" y="487.2" width="1.2" height="1.2" fill="#96d5a4"/><rect x="452.6" y="487.2" width="1.2" height="1.2" fill="#fca95f"/><rect x="454.0" y="487.2" width="1.2" height="1.2" fill="#addea4"/><rect x="455.4" y="487.2" width="1.2" height="1.2" fill="#fa9a58"/><rect x="456.8" y="487.2" width="1.2" height="1.2" fill="#fdb96a"/><rect x="458.2" y="487.2" width="1.2" height="1.2" fill="#fee593"/><rect x="459.6" y="487.2" width="1.2" height="1.2" fill="#fca85e"/><rect x="461.0" y="487.2" width="1.2" height="1.2" fill="#fdb567"/><rect x="462.4" y="487.2" width="1.2" height="1.2" fill="#fec877"/><rect x="463.8" y="487.2" width="1.2" height="1.2" fill="#fa9756"/><rect x="465.2" y="487.2" width="1.2" height="1.2" fill="#feca79"/><rect x="466.6" y="487.2" width="1.2" height="1.2" fill="#f99254"/><rect x="468.0" y="487.2" width="1.2" height="1.2" fill="#fa9a58"/><rect x="469.4" y="487.2" width="1.2" height="1.2" fill="#fba25b"/><rect x="470.8" y="487.2" width="1.2" height="1.2" fill="#fece7c"/><rect x="472.2" y="487.2" width="1.2" height="1.2" fill="#fecd7b"/><rect x="473.6" y="487.2" width="1.2" height="1.2" fill="#fdb063"/><rect x="475.0" y="487.2" width="1.2" height="1.2" fill="#f99154"/><rect x="476.4" y="487.2" width="1.2" height="1.2" fill="#fecc7a"/><rect x="477.8" y="487.2" width="1.2" height="1.2" fill="#fdac60"/><rect x="479.2" y="487.2" width="1.2" height="1.2" fill="#fa9756"/><rect x="480.6" y="487.2" width="1.2" height="1.2" fill="#fedc88"/><rect x="482.0" y="487.2" width="1.2" height="1.2" fill="#f57647"/><rect x="483.4" y="487.2" width="1.2" height="1.2" fill="#fdb769"/><rect x="484.8" y="487.2" width="1.2" height="1.2" fill="#fdbf6f"/><rect x="486.2" y="487.2" width="1.2" height="1.2" fill="#fdad61"/><rect x="487.6" y="487.2" width="1.2" height="1.2" fill="#fdb668"/><rect x="489.0" y="487.2" width="1.2" height="1.2" fill="#fec978"/><rect x="447.0" y="488.6" width="1.2" height="1.2" fill="#fdc171"/><rect x="448.4" y="488.6" width="1.2" height="1.2" fill="#acdda4"/><rect x="449.8" y="488.6" width="1.2" height="1.2" fill="#fb9f5a"/><rect x="451.2" y="488.6" width="1.2" height="1.2" fill="#fdbe6e"/><rect x="452.6" y="488.6" width="1.2" height="1.2" fill="#fba25c"/><rect x="454.0" y="488.6" width="1.2" height="1.2" fill="#fca75e"/><rect x="455.4" y="488.6" width="1.2" height="1.2" fill="#f57246"/><rect x="456.8" y="488.6" width="1.2" height="1.2" fill="#62bea7"/><rect x="458.2" y="488.6" width="1.2" height="1.2" fill="#f99254"/><rect x="459.6" y="488.6" width="1.2" height="1.2" fill="#fdac60"/><rect x="461.0" y="488.6" width="1.2" height="1.2" fill="#fa9a58"/><rect x="462.4" y="488.6" width="1.2" height="1.2" fill="#fdc675"/><rect x="463.8" y="488.6" width="1.2" height="1.2" fill="#f7864f"/><rect x="465.2" y="488.6" width="1.2" height="1.2" fill="#fca55d"/><rect x="466.6" y="488.6" width="1.2" height="1.2" fill="#f98f53"/><rect x="468.0" y="488.6" width="1.2" height="1.2" fill="#fed884"/><rect x="469.4" y="488.6" width="1.2" height="1.2" fill="#fdb365"/><rect x="470.8" y="488.6" width="1.2" height="1.2" fill="#f7824d"/><rect x="472.2" y="488.6" width="1.2" height="1.2" fill="#f57547"/><rect x="473.6" y="488.6" width="1.2" height="1.2" fill="#f88b51"/><rect x="475.0" y="488.6" width="1.2" height="1.2" fill="#fdb365"/><rect x="476.4" y="488.6" width="1.2" height="1.2" fill="#fdaf61"/><rect x="477.8" y="488.6" width="1.2" height="1.2" fill="#fdc272"/><rect x="479.2" y="488.6" width="1.2" height="1.2" fill="#f99254"/><rect x="480.6" y="488.6" width="1.2" height="1.2" fill="#fdc473"/><rect x="482.0" y="488.6" width="1.2" height="1.2" fill="#fdb063"/><rect x="483.4" y="488.6" width="1.2" height="1.2" fill="#fee390"/><rect x="484.8" y="488.6" width="1.2" height="1.2" fill="#fed884"/><rect x="486.2" y="488.6" width="1.2" height="1.2" fill="#f67c4a"/><rect x="487.6" y="488.6" width="1.2" height="1.2" fill="#fdb264"/><rect x="489.0" y="488.6" width="1.2" height="1.2" fill="#fdae61"/><rect x="447.0" y="490.0" width="1.2" height="1.2" fill="#c0e6a0"/><rect x="448.4" y="490.0" width="1.2" height="1.2" fill="#fed380"/><rect x="449.8" y="490.0" width="1.2" height="1.2" fill="#b0dfa3"/><rect x="451.2" y="490.0" width="1.2" height="1.2" fill="#76c8a5"/><rect x="452.6" y="490.0" width="1.2" height="1.2" fill="#fca95f"/><rect x="454.0" y="490.0" width="1.2" height="1.2" fill="#fecc7a"/><rect x="455.4" y="490.0" width="1.2" height="1.2" fill="#83cda5"/><rect x="456.8" y="490.0" width="1.2" height="1.2" fill="#acdda4"/><rect x="458.2" y="490.0" width="1.2" height="1.2" fill="#8cd1a4"/><rect x="459.6" y="490.0" width="1.2" height="1.2" fill="#fdb264"/><rect x="461.0" y="490.0" width="1.2" height="1.2" fill="#fec877"/><rect x="462.4" y="490.0" width="1.2" height="1.2" fill="#f88950"/><rect x="463.8" y="490.0" width="1.2" height="1.2" fill="#fdb365"/><rect x="465.2" y="490.0" width="1.2" height="1.2" fill="#fdc575"/><rect x="466.6" y="490.0" width="1.2" height="1.2" fill="#fdb466"/><rect x="468.0" y="490.0" width="1.2" height="1.2" fill="#f88d52"/><rect x="469.4" y="490.0" width="1.2" height="1.2" fill="#fba15b"/><rect x="470.8" y="490.0" width="1.2" height="1.2" fill="#f88d52"/><rect x="472.2" y="490.0" width="1.2" height="1.2" fill="#fba35c"/><rect x="473.6" y="490.0" width="1.2" height="1.2" fill="#fdbd6d"/><rect x="475.0" y="490.0" width="1.2" height="1.2" fill="#fed582"/><rect x="476.4" y="490.0" width="1.2" height="1.2" fill="#fec776"/><rect x="477.8" y="490.0" width="1.2" height="1.2" fill="#fdb365"/><rect x="479.2" y="490.0" width="1.2" height="1.2" fill="#feda86"/><rect x="480.6" y="490.0" width="1.2" height="1.2" fill="#fdb869"/><rect x="482.0" y="490.0" width="1.2" height="1.2" fill="#fdc675"/><rect x="483.4" y="490.0" width="1.2" height="1.2" fill="#f98e52"/><rect x="484.8" y="490.0" width="1.2" height="1.2" fill="#fee28f"/><rect x="486.2" y="490.0" width="1.2" height="1.2" fill="#f36b43"/><rect x="487.6" y="490.0" width="1.2" height="1.2" fill="#fa9b58"/><rect x="489.0" y="490.0" width="1.2" height="1.2" fill="#fdbd6e"/><rect x="447.0" y="491.4" width="1.2" height="1.2" fill="#8ed2a4"/><rect x="448.4" y="491.4" width="1.2" height="1.2" fill="#fdb96a"/><rect x="449.8" y="491.4" width="1.2" height="1.2" fill="#77c9a5"/><rect x="451.2" y="491.4" width="1.2" height="1.2" fill="#fa9756"/><rect x="452.6" y="491.4" width="1.2" height="1.2" fill="#fdb365"/><rect x="454.0" y="491.4" width="1.2" height="1.2" fill="#8fd2a4"/><rect x="455.4" y="491.4" width="1.2" height="1.2" fill="#9cd7a4"/><rect x="456.8" y="491.4" width="1.2" height="1.2" fill="#fdb869"/><rect x="458.2" y="491.4" width="1.2" height="1.2" fill="#9cd7a4"/><rect x="459.6" y="491.4" width="1.2" height="1.2" fill="#78c9a5"/><rect x="461.0" y="491.4" width="1.2" height="1.2" fill="#aedea3"/><rect x="462.4" y="491.4" width="1.2" height="1.2" fill="#3f97b7"/><rect x="463.8" y="491.4" width="1.2" height="1.2" fill="#abdda4"/><rect x="465.2" y="491.4" width="1.2" height="1.2" fill="#fdc373"/><rect x="466.6" y="491.4" width="1.2" height="1.2" fill="#fdb063"/><rect x="468.0" y="491.4" width="1.2" height="1.2" fill="#8fd2a4"/><rect x="469.4" y="491.4" width="1.2" height="1.2" fill="#fca95f"/><rect x="470.8" y="491.4" width="1.2" height="1.2" fill="#fdc776"/><rect x="472.2" y="491.4" width="1.2" height="1.2" fill="#feeb9d"/><rect x="473.6" y="491.4" width="1.2" height="1.2" fill="#fdc675"/><rect x="475.0" y="491.4" width="1.2" height="1.2" fill="#fca35c"/><rect x="476.4" y="491.4" width="1.2" height="1.2" fill="#fec877"/><rect x="477.8" y="491.4" width="1.2" height="1.2" fill="#fca75e"/><rect x="479.2" y="491.4" width="1.2" height="1.2" fill="#fdbc6d"/><rect x="480.6" y="491.4" width="1.2" height="1.2" fill="#feca79"/><rect x="482.0" y="491.4" width="1.2" height="1.2" fill="#f98f53"/><rect x="483.4" y="491.4" width="1.2" height="1.2" fill="#fecb79"/><rect x="484.8" y="491.4" width="1.2" height="1.2" fill="#feeea2"/><rect x="486.2" y="491.4" width="1.2" height="1.2" fill="#feeda1"/><rect x="487.6" y="491.4" width="1.2" height="1.2" fill="#fedc88"/><rect x="489.0" y="491.4" width="1.2" height="1.2" fill="#fefebd"/><rect x="447.0" y="492.8" width="1.2" height="1.2" fill="#58b2ab"/><rect x="448.4" y="492.8" width="1.2" height="1.2" fill="#55afad"/><rect x="449.8" y="492.8" width="1.2" height="1.2" fill="#7bcaa5"/><rect x="451.2" y="492.8" width="1.2" height="1.2" fill="#f88d52"/><rect x="452.6" y="492.8" width="1.2" height="1.2" fill="#fca35c"/><rect x="454.0" y="492.8" width="1.2" height="1.2" fill="#82cda5"/><rect x="455.4" y="492.8" width="1.2" height="1.2" fill="#fca95f"/><rect x="456.8" y="492.8" width="1.2" height="1.2" fill="#fed380"/><rect x="458.2" y="492.8" width="1.2" height="1.2" fill="#67c2a5"/><rect x="459.6" y="492.8" width="1.2" height="1.2" fill="#7ecba5"/><rect x="461.0" y="492.8" width="1.2" height="1.2" fill="#b8e2a1"/><rect x="462.4" y="492.8" width="1.2" height="1.2" fill="#64c0a6"/><rect x="463.8" y="492.8" width="1.2" height="1.2" fill="#62bda7"/><rect x="465.2" y="492.8" width="1.2" height="1.2" fill="#8ed2a4"/><rect x="466.6" y="492.8" width="1.2" height="1.2" fill="#fdc574"/><rect x="468.0" y="492.8" width="1.2" height="1.2" fill="#f99455"/><rect x="469.4" y="492.8" width="1.2" height="1.2" fill="#fdc575"/><rect x="470.8" y="492.8" width="1.2" height="1.2" fill="#fec978"/><rect x="472.2" y="492.8" width="1.2" height="1.2" fill="#fdbf70"/><rect x="473.6" y="492.8" width="1.2" height="1.2" fill="#fa9957"/><rect x="475.0" y="492.8" width="1.2" height="1.2" fill="#fed582"/><rect x="476.4" y="492.8" width="1.2" height="1.2" fill="#fffebd"/><rect x="477.8" y="492.8" width="1.2" height="1.2" fill="#feeda1"/><rect x="479.2" y="492.8" width="1.2" height="1.2" fill="#fedc88"/><rect x="480.6" y="492.8" width="1.2" height="1.2" fill="#fff8b3"/><rect x="482.0" y="492.8" width="1.2" height="1.2" fill="#fee390"/><rect x="483.4" y="492.8" width="1.2" height="1.2" fill="#eef8a5"/><rect x="484.8" y="492.8" width="1.2" height="1.2" fill="#c7e89e"/><rect x="486.2" y="492.8" width="1.2" height="1.2" fill="#d6ee9b"/><rect x="487.6" y="492.8" width="1.2" height="1.2" fill="#ecf7a1"/><rect x="489.0" y="492.8" width="1.2" height="1.2" fill="#e2f399"/><rect x="447.0" y="494.2" width="1.2" height="1.2" fill="#fdc070"/><rect x="448.4" y="494.2" width="1.2" height="1.2" fill="#8dd1a4"/><rect x="449.8" y="494.2" width="1.2" height="1.2" fill="#fcaa5f"/><rect x="451.2" y="494.2" width="1.2" height="1.2" fill="#8ad0a4"/><rect x="452.6" y="494.2" width="1.2" height="1.2" fill="#94d4a4"/><rect x="454.0" y="494.2" width="1.2" height="1.2" fill="#fdbd6e"/><rect x="455.4" y="494.2" width="1.2" height="1.2" fill="#fee694"/><rect x="456.8" y="494.2" width="1.2" height="1.2" fill="#96d5a4"/><rect x="458.2" y="494.2" width="1.2" height="1.2" fill="#81cda5"/><rect x="459.6" y="494.2" width="1.2" height="1.2" fill="#88cfa5"/><rect x="461.0" y="494.2" width="1.2" height="1.2" fill="#4da6b1"/><rect x="462.4" y="494.2" width="1.2" height="1.2" fill="#b0dfa3"/><rect x="463.8" y="494.2" width="1.2" height="1.2" fill="#fed17e"/><rect x="465.2" y="494.2" width="1.2" height="1.2" fill="#fcaa5f"/><rect x="466.6" y="494.2" width="1.2" height="1.2" fill="#8bd1a4"/><rect x="468.0" y="494.2" width="1.2" height="1.2" fill="#7ccba5"/><rect x="469.4" y="494.2" width="1.2" height="1.2" fill="#fdfebc"/><rect x="470.8" y="494.2" width="1.2" height="1.2" fill="#fee594"/><rect x="472.2" y="494.2" width="1.2" height="1.2" fill="#fee696"/><rect x="473.6" y="494.2" width="1.2" height="1.2" fill="#fee391"/><rect x="475.0" y="494.2" width="1.2" height="1.2" fill="#fed582"/><rect x="476.4" y="494.2" width="1.2" height="1.2" fill="#b6e1a2"/><rect x="477.8" y="494.2" width="1.2" height="1.2" fill="#92d3a4"/><rect x="479.2" y="494.2" width="1.2" height="1.2" fill="#a5dba4"/><rect x="480.6" y="494.2" width="1.2" height="1.2" fill="#fcfeba"/><rect x="482.0" y="494.2" width="1.2" height="1.2" fill="#bfe5a0"/><rect x="483.4" y="494.2" width="1.2" height="1.2" fill="#74c7a5"/><rect x="484.8" y="494.2" width="1.2" height="1.2" fill="#66c2a5"/><rect x="486.2" y="494.2" width="1.2" height="1.2" fill="#7fcca5"/><rect x="487.6" y="494.2" width="1.2" height="1.2" fill="#cfeb9d"/><rect x="489.0" y="494.2" width="1.2" height="1.2" fill="#59b3ab"/><rect x="447.0" y="495.6" width="1.2" height="1.2" fill="#fdab60"/><rect x="448.4" y="495.6" width="1.2" height="1.2" fill="#9cd7a4"/><rect x="449.8" y="495.6" width="1.2" height="1.2" fill="#88cfa5"/><rect x="451.2" y="495.6" width="1.2" height="1.2" fill="#7dcba5"/><rect x="452.6" y="495.6" width="1.2" height="1.2" fill="#f99254"/><rect x="454.0" y="495.6" width="1.2" height="1.2" fill="#fdad61"/><rect x="455.4" y="495.6" width="1.2" height="1.2" fill="#4da6b1"/><rect x="456.8" y="495.6" width="1.2" height="1.2" fill="#fba05b"/><rect x="458.2" y="495.6" width="1.2" height="1.2" fill="#c4e79f"/><rect x="459.6" y="495.6" width="1.2" height="1.2" fill="#fdc474"/><rect x="461.0" y="495.6" width="1.2" height="1.2" fill="#fca85e"/><rect x="462.4" y="495.6" width="1.2" height="1.2" fill="#99d6a4"/><rect x="463.8" y="495.6" width="1.2" height="1.2" fill="#fec776"/><rect x="465.2" y="495.6" width="1.2" height="1.2" fill="#feec9e"/><rect x="466.6" y="495.6" width="1.2" height="1.2" fill="#fec776"/><rect x="468.0" y="495.6" width="1.2" height="1.2" fill="#8bd0a4"/><rect x="469.4" y="495.6" width="1.2" height="1.2" fill="#c8e99e"/><rect x="470.8" y="495.6" width="1.2" height="1.2" fill="#b9e3a1"/><rect x="472.2" y="495.6" width="1.2" height="1.2" fill="#d6ef9b"/><rect x="473.6" y="495.6" width="1.2" height="1.2" fill="#bce4a0"/><rect x="475.0" y="495.6" width="1.2" height="1.2" fill="#ffffbf"/><rect x="476.4" y="495.6" width="1.2" height="1.2" fill="#56b0ac"/><rect x="477.8" y="495.6" width="1.2" height="1.2" fill="#91d3a4"/><rect x="479.2" y="495.6" width="1.2" height="1.2" fill="#56b1ac"/><rect x="480.6" y="495.6" width="1.2" height="1.2" fill="#5cb7aa"/><rect x="482.0" y="495.6" width="1.2" height="1.2" fill="#85cea5"/><rect x="483.4" y="495.6" width="1.2" height="1.2" fill="#5fbba8"/><rect x="484.8" y="495.6" width="1.2" height="1.2" fill="#afdfa3"/><rect x="486.2" y="495.6" width="1.2" height="1.2" fill="#76c8a5"/><rect x="487.6" y="495.6" width="1.2" height="1.2" fill="#3a91b9"/><rect x="489.0" y="495.6" width="1.2" height="1.2" fill="#94d4a4"/><rect x="447.0" y="497.0" width="1.2" height="1.2" fill="#feefa4"/><rect x="448.4" y="497.0" width="1.2" height="1.2" fill="#8ad0a4"/><rect x="449.8" y="497.0" width="1.2" height="1.2" fill="#fdc676"/><rect x="451.2" y="497.0" width="1.2" height="1.2" fill="#a2d9a4"/><rect x="452.6" y="497.0" width="1.2" height="1.2" fill="#69c3a5"/><rect x="454.0" y="497.0" width="1.2" height="1.2" fill="#f57346"/><rect x="455.4" y="497.0" width="1.2" height="1.2" fill="#fed784"/><rect x="456.8" y="497.0" width="1.2" height="1.2" fill="#8cd1a4"/><rect x="458.2" y="497.0" width="1.2" height="1.2" fill="#fefebd"/><rect x="459.6" y="497.0" width="1.2" height="1.2" fill="#96d5a4"/><rect x="461.0" y="497.0" width="1.2" height="1.2" fill="#feefa4"/><rect x="462.4" y="497.0" width="1.2" height="1.2" fill="#86cea5"/><rect x="463.8" y="497.0" width="1.2" height="1.2" fill="#e7f59a"/><rect x="465.2" y="497.0" width="1.2" height="1.2" fill="#85cea5"/><rect x="466.6" y="497.0" width="1.2" height="1.2" fill="#c4e79f"/><rect x="468.0" y="497.0" width="1.2" height="1.2" fill="#edf8a3"/><rect x="469.4" y="497.0" width="1.2" height="1.2" fill="#7dcba5"/><rect x="470.8" y="497.0" width="1.2" height="1.2" fill="#63bea6"/><rect x="472.2" y="497.0" width="1.2" height="1.2" fill="#54aead"/><rect x="473.6" y="497.0" width="1.2" height="1.2" fill="#5ab5aa"/><rect x="475.0" y="497.0" width="1.2" height="1.2" fill="#55afad"/><rect x="476.4" y="497.0" width="1.2" height="1.2" fill="#3e95b8"/><rect x="477.8" y="497.0" width="1.2" height="1.2" fill="#9ed8a4"/><rect x="479.2" y="497.0" width="1.2" height="1.2" fill="#d1ec9c"/><rect x="480.6" y="497.0" width="1.2" height="1.2" fill="#469eb4"/><rect x="482.0" y="497.0" width="1.2" height="1.2" fill="#48a0b3"/><rect x="483.4" y="497.0" width="1.2" height="1.2" fill="#7acaa5"/><rect x="484.8" y="497.0" width="1.2" height="1.2" fill="#7bcaa5"/><rect x="486.2" y="497.0" width="1.2" height="1.2" fill="#3d94b8"/><rect x="487.6" y="497.0" width="1.2" height="1.2" fill="#348abc"/><rect x="489.0" y="497.0" width="1.2" height="1.2" fill="#79c9a5"/><rect x="447.0" y="498.4" width="1.2" height="1.2" fill="#addea4"/><rect x="448.4" y="498.4" width="1.2" height="1.2" fill="#7ccba5"/><rect x="449.8" y="498.4" width="1.2" height="1.2" fill="#fedd88"/><rect x="451.2" y="498.4" width="1.2" height="1.2" fill="#b1dfa3"/><rect x="452.6" y="498.4" width="1.2" height="1.2" fill="#fafdb7"/><rect x="454.0" y="498.4" width="1.2" height="1.2" fill="#7acaa5"/><rect x="455.4" y="498.4" width="1.2" height="1.2" fill="#caea9e"/><rect x="456.8" y="498.4" width="1.2" height="1.2" fill="#e8f69b"/><rect x="458.2" y="498.4" width="1.2" height="1.2" fill="#bfe5a0"/><rect x="459.6" y="498.4" width="1.2" height="1.2" fill="#eef8a4"/><rect x="461.0" y="498.4" width="1.2" height="1.2" fill="#63bfa6"/><rect x="462.4" y="498.4" width="1.2" height="1.2" fill="#6fc5a5"/><rect x="463.8" y="498.4" width="1.2" height="1.2" fill="#459db4"/><rect x="465.2" y="498.4" width="1.2" height="1.2" fill="#c7e89e"/><rect x="466.6" y="498.4" width="1.2" height="1.2" fill="#8fd2a4"/><rect x="468.0" y="498.4" width="1.2" height="1.2" fill="#78c9a5"/><rect x="469.4" y="498.4" width="1.2" height="1.2" fill="#4ea8b0"/><rect x="470.8" y="498.4" width="1.2" height="1.2" fill="#66c2a5"/><rect x="472.2" y="498.4" width="1.2" height="1.2" fill="#8fd2a4"/><rect x="473.6" y="498.4" width="1.2" height="1.2" fill="#aadda4"/><rect x="475.0" y="498.4" width="1.2" height="1.2" fill="#3990ba"/><rect x="476.4" y="498.4" width="1.2" height="1.2" fill="#70c6a5"/><rect x="477.8" y="498.4" width="1.2" height="1.2" fill="#66c2a5"/><rect x="479.2" y="498.4" width="1.2" height="1.2" fill="#b1dfa3"/><rect x="480.6" y="498.4" width="1.2" height="1.2" fill="#74c7a5"/><rect x="482.0" y="498.4" width="1.2" height="1.2" fill="#afdfa3"/><rect x="483.4" y="498.4" width="1.2" height="1.2" fill="#3287bd"/><rect x="484.8" y="498.4" width="1.2" height="1.2" fill="#3990ba"/><rect x="486.2" y="498.4" width="1.2" height="1.2" fill="#6cc5a5"/><rect x="487.6" y="498.4" width="1.2" height="1.2" fill="#4299b6"/><rect x="489.0" y="498.4" width="1.2" height="1.2" fill="#348abc"/><rect x="447.0" y="499.8" width="1.2" height="1.2" fill="#7bcaa5"/><rect x="448.4" y="499.8" width="1.2" height="1.2" fill="#bbe4a1"/><rect x="449.8" y="499.8" width="1.2" height="1.2" fill="#bfe5a0"/><rect x="451.2" y="499.8" width="1.2" height="1.2" fill="#def29a"/><rect x="452.6" y="499.8" width="1.2" height="1.2" fill="#eff9a6"/><rect x="454.0" y="499.8" width="1.2" height="1.2" fill="#e8f69a"/><rect x="455.4" y="499.8" width="1.2" height="1.2" fill="#5fbaa8"/><rect x="456.8" y="499.8" width="1.2" height="1.2" fill="#77c9a5"/><rect x="458.2" y="499.8" width="1.2" height="1.2" fill="#94d4a4"/><rect x="459.6" y="499.8" width="1.2" height="1.2" fill="#85cea5"/><rect x="461.0" y="499.8" width="1.2" height="1.2" fill="#87cfa5"/><rect x="462.4" y="499.8" width="1.2" height="1.2" fill="#59b3ab"/><rect x="463.8" y="499.8" width="1.2" height="1.2" fill="#5eb9a9"/><rect x="465.2" y="499.8" width="1.2" height="1.2" fill="#def29a"/><rect x="466.6" y="499.8" width="1.2" height="1.2" fill="#70c6a5"/><rect x="468.0" y="499.8" width="1.2" height="1.2" fill="#87cfa5"/><rect x="469.4" y="499.8" width="1.2" height="1.2" fill="#61bca7"/><rect x="470.8" y="499.8" width="1.2" height="1.2" fill="#50aaaf"/><rect x="472.2" y="499.8" width="1.2" height="1.2" fill="#5fbba8"/><rect x="473.6" y="499.8" width="1.2" height="1.2" fill="#7dcba5"/><rect x="475.0" y="499.8" width="1.2" height="1.2" fill="#6ac4a5"/><rect x="476.4" y="499.8" width="1.2" height="1.2" fill="#7acaa5"/><rect x="477.8" y="499.8" width="1.2" height="1.2" fill="#7acaa5"/><rect x="479.2" y="499.8" width="1.2" height="1.2" fill="#4fa8b0"/><rect x="480.6" y="499.8" width="1.2" height="1.2" fill="#4ea7b0"/><rect x="482.0" y="499.8" width="1.2" height="1.2" fill="#98d5a4"/><rect x="483.4" y="499.8" width="1.2" height="1.2" fill="#59b4ab"/><rect x="484.8" y="499.8" width="1.2" height="1.2" fill="#3d94b8"/><rect x="486.2" y="499.8" width="1.2" height="1.2" fill="#a6dba4"/><rect x="487.6" y="499.8" width="1.2" height="1.2" fill="#50aaaf"/><rect x="489.0" y="499.8" width="1.2" height="1.2" fill="#4ea7b0"/><rect x="447.0" y="501.2" width="1.2" height="1.2" fill="#cdeb9d"/><rect x="448.4" y="501.2" width="1.2" height="1.2" fill="#50aaaf"/><rect x="449.8" y="501.2" width="1.2" height="1.2" fill="#a2d9a4"/><rect x="451.2" y="501.2" width="1.2" height="1.2" fill="#62bea7"/><rect x="452.6" y="501.2" width="1.2" height="1.2" fill="#b3e0a2"/><rect x="454.0" y="501.2" width="1.2" height="1.2" fill="#8bd1a4"/><rect x="455.4" y="501.2" width="1.2" height="1.2" fill="#b7e2a2"/><rect x="456.8" y="501.2" width="1.2" height="1.2" fill="#92d3a4"/><rect x="458.2" y="501.2" width="1.2" height="1.2" fill="#9ad6a4"/><rect x="459.6" y="501.2" width="1.2" height="1.2" fill="#64c0a6"/><rect x="461.0" y="501.2" width="1.2" height="1.2" fill="#abdda4"/><rect x="462.4" y="501.2" width="1.2" height="1.2" fill="#71c6a5"/><rect x="463.8" y="501.2" width="1.2" height="1.2" fill="#84cea5"/><rect x="465.2" y="501.2" width="1.2" height="1.2" fill="#87cfa5"/><rect x="466.6" y="501.2" width="1.2" height="1.2" fill="#3d94b8"/><rect x="468.0" y="501.2" width="1.2" height="1.2" fill="#66c2a5"/><rect x="469.4" y="501.2" width="1.2" height="1.2" fill="#6cc4a5"/><rect x="470.8" y="501.2" width="1.2" height="1.2" fill="#7bcaa5"/><rect x="472.2" y="501.2" width="1.2" height="1.2" fill="#6ec5a5"/><rect x="473.6" y="501.2" width="1.2" height="1.2" fill="#5cb6aa"/><rect x="475.0" y="501.2" width="1.2" height="1.2" fill="#7fcca5"/><rect x="476.4" y="501.2" width="1.2" height="1.2" fill="#5eb9a9"/><rect x="477.8" y="501.2" width="1.2" height="1.2" fill="#84cea5"/><rect x="479.2" y="501.2" width="1.2" height="1.2" fill="#51aaaf"/><rect x="480.6" y="501.2" width="1.2" height="1.2" fill="#48a0b3"/><rect x="482.0" y="501.2" width="1.2" height="1.2" fill="#b5e1a2"/><rect x="483.4" y="501.2" width="1.2" height="1.2" fill="#459db4"/><rect x="484.8" y="501.2" width="1.2" height="1.2" fill="#84cea5"/><rect x="486.2" y="501.2" width="1.2" height="1.2" fill="#a1d9a4"/><rect x="487.6" y="501.2" width="1.2" height="1.2" fill="#81cca5"/><rect x="489.0" y="501.2" width="1.2" height="1.2" fill="#77c8a5"/><rect x="447.0" y="502.6" width="1.2" height="1.2" fill="#65c0a6"/><rect x="448.4" y="502.6" width="1.2" height="1.2" fill="#9cd7a4"/><rect x="449.8" y="502.6" width="1.2" height="1.2" fill="#80cca5"/><rect x="451.2" y="502.6" width="1.2" height="1.2" fill="#ceeb9d"/><rect x="452.6" y="502.6" width="1.2" height="1.2" fill="#63bea6"/><rect x="454.0" y="502.6" width="1.2" height="1.2" fill="#83cea5"/><rect x="455.4" y="502.6" width="1.2" height="1.2" fill="#b6e1a2"/><rect x="456.8" y="502.6" width="1.2" height="1.2" fill="#9ed8a4"/><rect x="458.2" y="502.6" width="1.2" height="1.2" fill="#79c9a5"/><rect x="459.6" y="502.6" width="1.2" height="1.2" fill="#71c6a5"/><rect x="461.0" y="502.6" width="1.2" height="1.2" fill="#76c8a5"/><rect x="462.4" y="502.6" width="1.2" height="1.2" fill="#3e96b7"/><rect x="463.8" y="502.6" width="1.2" height="1.2" fill="#4da6b0"/><rect x="465.2" y="502.6" width="1.2" height="1.2" fill="#7ccba5"/><rect x="466.6" y="502.6" width="1.2" height="1.2" fill="#88cfa5"/><rect x="468.0" y="502.6" width="1.2" height="1.2" fill="#48a1b3"/><rect x="469.4" y="502.6" width="1.2" height="1.2" fill="#57b1ac"/><rect x="470.8" y="502.6" width="1.2" height="1.2" fill="#4aa3b2"/><rect x="472.2" y="502.6" width="1.2" height="1.2" fill="#7dcba5"/><rect x="473.6" y="502.6" width="1.2" height="1.2" fill="#72c7a5"/><rect x="475.0" y="502.6" width="1.2" height="1.2" fill="#67c2a5"/><rect x="476.4" y="502.6" width="1.2" height="1.2" fill="#55afad"/><rect x="477.8" y="502.6" width="1.2" height="1.2" fill="#72c7a5"/><rect x="479.2" y="502.6" width="1.2" height="1.2" fill="#67c2a5"/><rect x="480.6" y="502.6" width="1.2" height="1.2" fill="#53acae"/><rect x="482.0" y="502.6" width="1.2" height="1.2" fill="#71c6a5"/><rect x="483.4" y="502.6" width="1.2" height="1.2" fill="#55afad"/><rect x="484.8" y="502.6" width="1.2" height="1.2" fill="#87cfa5"/><rect x="486.2" y="502.6" width="1.2" height="1.2" fill="#7ccaa5"/><rect x="487.6" y="502.6" width="1.2" height="1.2" fill="#54aead"/><rect x="489.0" y="502.6" width="1.2" height="1.2" fill="#7acaa5"/><rect x="447.0" y="504.0" width="1.2" height="1.2" fill="#fdac60"/><rect x="448.4" y="504.0" width="1.2" height="1.2" fill="#fdc070"/><rect x="449.8" y="504.0" width="1.2" height="1.2" fill="#fdc574"/><rect x="451.2" y="504.0" width="1.2" height="1.2" fill="#fed884"/><rect x="452.6" y="504.0" width="1.2" height="1.2" fill="#feca79"/><rect x="454.0" y="504.0" width="1.2" height="1.2" fill="#fba35c"/><rect x="455.4" y="504.0" width="1.2" height="1.2" fill="#f8874f"/><rect x="456.8" y="504.0" width="1.2" height="1.2" fill="#fdbe6e"/><rect x="458.2" y="504.0" width="1.2" height="1.2" fill="#fca95f"/><rect x="459.6" y="504.0" width="1.2" height="1.2" fill="#fba35c"/><rect x="461.0" y="504.0" width="1.2" height="1.2" fill="#f99555"/><rect x="462.4" y="504.0" width="1.2" height="1.2" fill="#fba05a"/><rect x="463.8" y="504.0" width="1.2" height="1.2" fill="#f7864f"/><rect x="465.2" y="504.0" width="1.2" height="1.2" fill="#fa9556"/><rect x="466.6" y="504.0" width="1.2" height="1.2" fill="#fdc171"/><rect x="468.0" y="504.0" width="1.2" height="1.2" fill="#fba15b"/><rect x="469.4" y="504.0" width="1.2" height="1.2" fill="#fee594"/><rect x="470.8" y="504.0" width="1.2" height="1.2" fill="#fdb265"/><rect x="472.2" y="504.0" width="1.2" height="1.2" fill="#fdad61"/><rect x="473.6" y="504.0" width="1.2" height="1.2" fill="#fa9b58"/><rect x="475.0" y="504.0" width="1.2" height="1.2" fill="#fdb667"/><rect x="476.4" y="504.0" width="1.2" height="1.2" fill="#f99355"/><rect x="477.8" y="504.0" width="1.2" height="1.2" fill="#f7834d"/><rect x="479.2" y="504.0" width="1.2" height="1.2" fill="#fdc373"/><rect x="480.6" y="504.0" width="1.2" height="1.2" fill="#fdbc6c"/><rect x="482.0" y="504.0" width="1.2" height="1.2" fill="#fca65d"/><rect x="483.4" y="504.0" width="1.2" height="1.2" fill="#fb9e5a"/><rect x="484.8" y="504.0" width="1.2" height="1.2" fill="#fca95f"/><rect x="486.2" y="504.0" width="1.2" height="1.2" fill="#f99355"/><rect x="487.6" y="504.0" width="1.2" height="1.2" fill="#fecc7a"/><rect x="489.0" y="504.0" width="1.2" height="1.2" fill="#fa9555"/><rect x="447.0" y="505.4" width="1.2" height="1.2" fill="#f88850"/><rect x="448.4" y="505.4" width="1.2" height="1.2" fill="#f88a50"/><rect x="449.8" y="505.4" width="1.2" height="1.2" fill="#fba05b"/><rect x="451.2" y="505.4" width="1.2" height="1.2" fill="#fdb466"/><rect x="452.6" y="505.4" width="1.2" height="1.2" fill="#fba15b"/><rect x="454.0" y="505.4" width="1.2" height="1.2" fill="#fdb063"/><rect x="455.4" y="505.4" width="1.2" height="1.2" fill="#fed682"/><rect x="456.8" y="505.4" width="1.2" height="1.2" fill="#fdbd6e"/><rect x="458.2" y="505.4" width="1.2" height="1.2" fill="#fdaf62"/><rect x="459.6" y="505.4" width="1.2" height="1.2" fill="#fdbb6c"/><rect x="461.0" y="505.4" width="1.2" height="1.2" fill="#fdc575"/><rect x="462.4" y="505.4" width="1.2" height="1.2" fill="#fdb466"/><rect x="463.8" y="505.4" width="1.2" height="1.2" fill="#fdb769"/><rect x="465.2" y="505.4" width="1.2" height="1.2" fill="#fdac60"/><rect x="466.6" y="505.4" width="1.2" height="1.2" fill="#fdaf62"/><rect x="468.0" y="505.4" width="1.2" height="1.2" fill="#fca85e"/><rect x="469.4" y="505.4" width="1.2" height="1.2" fill="#f98e52"/><rect x="470.8" y="505.4" width="1.2" height="1.2" fill="#fcaa5f"/><rect x="472.2" y="505.4" width="1.2" height="1.2" fill="#fba15b"/><rect x="473.6" y="505.4" width="1.2" height="1.2" fill="#fecd7b"/><rect x="475.0" y="505.4" width="1.2" height="1.2" fill="#feefa4"/><rect x="476.4" y="505.4" width="1.2" height="1.2" fill="#fdb869"/><rect x="477.8" y="505.4" width="1.2" height="1.2" fill="#fa9857"/><rect x="479.2" y="505.4" width="1.2" height="1.2" fill="#fdb668"/><rect x="480.6" y="505.4" width="1.2" height="1.2" fill="#fdbe6e"/><rect x="482.0" y="505.4" width="1.2" height="1.2" fill="#fecd7b"/><rect x="483.4" y="505.4" width="1.2" height="1.2" fill="#f99154"/><rect x="484.8" y="505.4" width="1.2" height="1.2" fill="#fdbb6c"/><rect x="486.2" y="505.4" width="1.2" height="1.2" fill="#fca65d"/><rect x="487.6" y="505.4" width="1.2" height="1.2" fill="#f88950"/><rect x="489.0" y="505.4" width="1.2" height="1.2" fill="#fb9d59"/><rect x="447.0" y="506.8" width="1.2" height="1.2" fill="#f06744"/><rect x="448.4" y="506.8" width="1.2" height="1.2" fill="#fdb164"/><rect x="449.8" y="506.8" width="1.2" height="1.2" fill="#f98f53"/><rect x="451.2" y="506.8" width="1.2" height="1.2" fill="#fa9757"/><rect x="452.6" y="506.8" width="1.2" height="1.2" fill="#fdbe6f"/><rect x="454.0" y="506.8" width="1.2" height="1.2" fill="#fdac60"/><rect x="455.4" y="506.8" width="1.2" height="1.2" fill="#fdbc6d"/><rect x="456.8" y="506.8" width="1.2" height="1.2" fill="#fec877"/><rect x="458.2" y="506.8" width="1.2" height="1.2" fill="#fca45d"/><rect x="459.6" y="506.8" width="1.2" height="1.2" fill="#fdc171"/><rect x="461.0" y="506.8" width="1.2" height="1.2" fill="#f57748"/><rect x="462.4" y="506.8" width="1.2" height="1.2" fill="#fdc171"/><rect x="463.8" y="506.8" width="1.2" height="1.2" fill="#fdbc6c"/><rect x="465.2" y="506.8" width="1.2" height="1.2" fill="#fdab60"/><rect x="466.6" y="506.8" width="1.2" height="1.2" fill="#fdbb6c"/><rect x="468.0" y="506.8" width="1.2" height="1.2" fill="#fdac60"/><rect x="469.4" y="506.8" width="1.2" height="1.2" fill="#fdbd6e"/><rect x="470.8" y="506.8" width="1.2" height="1.2" fill="#fed27f"/><rect x="472.2" y="506.8" width="1.2" height="1.2" fill="#fee696"/><rect x="473.6" y="506.8" width="1.2" height="1.2" fill="#fece7c"/><rect x="475.0" y="506.8" width="1.2" height="1.2" fill="#f67d4a"/><rect x="476.4" y="506.8" width="1.2" height="1.2" fill="#fba05a"/><rect x="477.8" y="506.8" width="1.2" height="1.2" fill="#fca95f"/><rect x="479.2" y="506.8" width="1.2" height="1.2" fill="#fdba6b"/><rect x="480.6" y="506.8" width="1.2" height="1.2" fill="#fdb264"/><rect x="482.0" y="506.8" width="1.2" height="1.2" fill="#fca45d"/><rect x="483.4" y="506.8" width="1.2" height="1.2" fill="#fed17e"/><rect x="484.8" y="506.8" width="1.2" height="1.2" fill="#fdc272"/><rect x="486.2" y="506.8" width="1.2" height="1.2" fill="#fdc474"/><rect x="487.6" y="506.8" width="1.2" height="1.2" fill="#f7854e"/><rect x="489.0" y="506.8" width="1.2" height="1.2" fill="#fec877"/><rect x="447.0" y="508.2" width="1.2" height="1.2" fill="#f8884f"/><rect x="448.4" y="508.2" width="1.2" height="1.2" fill="#fdba6b"/><rect x="449.8" y="508.2" width="1.2" height="1.2" fill="#e95c47"/><rect x="451.2" y="508.2" width="1.2" height="1.2" fill="#fdb063"/><rect x="452.6" y="508.2" width="1.2" height="1.2" fill="#fdad61"/><rect x="454.0" y="508.2" width="1.2" height="1.2" fill="#f7824d"/><rect x="455.4" y="508.2" width="1.2" height="1.2" fill="#f99254"/><rect x="456.8" y="508.2" width="1.2" height="1.2" fill="#f98f53"/><rect x="458.2" y="508.2" width="1.2" height="1.2" fill="#fec977"/><rect x="459.6" y="508.2" width="1.2" height="1.2" fill="#f88950"/><rect x="461.0" y="508.2" width="1.2" height="1.2" fill="#f57748"/><rect x="462.4" y="508.2" width="1.2" height="1.2" fill="#fdb163"/><rect x="463.8" y="508.2" width="1.2" height="1.2" fill="#fdba6b"/><rect x="465.2" y="508.2" width="1.2" height="1.2" fill="#fec978"/><rect x="466.6" y="508.2" width="1.2" height="1.2" fill="#f88d52"/><rect x="468.0" y="508.2" width="1.2" height="1.2" fill="#fca45d"/><rect x="469.4" y="508.2" width="1.2" height="1.2" fill="#fdae61"/><rect x="470.8" y="508.2" width="1.2" height="1.2" fill="#fecd7b"/><rect x="472.2" y="508.2" width="1.2" height="1.2" fill="#f67949"/><rect x="473.6" y="508.2" width="1.2" height="1.2" fill="#f99254"/><rect x="475.0" y="508.2" width="1.2" height="1.2" fill="#fdaf61"/><rect x="476.4" y="508.2" width="1.2" height="1.2" fill="#f67e4b"/><rect x="477.8" y="508.2" width="1.2" height="1.2" fill="#fdc675"/><rect x="479.2" y="508.2" width="1.2" height="1.2" fill="#f99154"/><rect x="480.6" y="508.2" width="1.2" height="1.2" fill="#fdc776"/><rect x="482.0" y="508.2" width="1.2" height="1.2" fill="#f7804c"/><rect x="483.4" y="508.2" width="1.2" height="1.2" fill="#fdb567"/><rect x="484.8" y="508.2" width="1.2" height="1.2" fill="#f7864f"/><rect x="486.2" y="508.2" width="1.2" height="1.2" fill="#fdb86a"/><rect x="487.6" y="508.2" width="1.2" height="1.2" fill="#fba15b"/><rect x="489.0" y="508.2" width="1.2" height="1.2" fill="#f88950"/><rect x="447.0" y="509.6" width="1.2" height="1.2" fill="#fdc574"/><rect x="448.4" y="509.6" width="1.2" height="1.2" fill="#fdab60"/><rect x="449.8" y="509.6" width="1.2" height="1.2" fill="#fdc373"/><rect x="451.2" y="509.6" width="1.2" height="1.2" fill="#f99254"/><rect x="452.6" y="509.6" width="1.2" height="1.2" fill="#fdbd6e"/><rect x="454.0" y="509.6" width="1.2" height="1.2" fill="#fdb769"/><rect x="455.4" y="509.6" width="1.2" height="1.2" fill="#fdb365"/><rect x="456.8" y="509.6" width="1.2" height="1.2" fill="#f88850"/><rect x="458.2" y="509.6" width="1.2" height="1.2" fill="#fec877"/><rect x="459.6" y="509.6" width="1.2" height="1.2" fill="#fdaf62"/><rect x="461.0" y="509.6" width="1.2" height="1.2" fill="#fdb668"/><rect x="462.4" y="509.6" width="1.2" height="1.2" fill="#fdbc6d"/><rect x="463.8" y="509.6" width="1.2" height="1.2" fill="#fdc272"/><rect x="465.2" y="509.6" width="1.2" height="1.2" fill="#fdb264"/><rect x="466.6" y="509.6" width="1.2" height="1.2" fill="#fca85e"/><rect x="468.0" y="509.6" width="1.2" height="1.2" fill="#fed581"/><rect x="469.4" y="509.6" width="1.2" height="1.2" fill="#fca65d"/><rect x="470.8" y="509.6" width="1.2" height="1.2" fill="#fecc7a"/><rect x="472.2" y="509.6" width="1.2" height="1.2" fill="#fdae61"/><rect x="473.6" y="509.6" width="1.2" height="1.2" fill="#f06645"/><rect x="475.0" y="509.6" width="1.2" height="1.2" fill="#fdc675"/><rect x="476.4" y="509.6" width="1.2" height="1.2" fill="#fdb062"/><rect x="477.8" y="509.6" width="1.2" height="1.2" fill="#fdb466"/><rect x="479.2" y="509.6" width="1.2" height="1.2" fill="#f98e52"/><rect x="480.6" y="509.6" width="1.2" height="1.2" fill="#fdba6b"/><rect x="482.0" y="509.6" width="1.2" height="1.2" fill="#fedb86"/><rect x="483.4" y="509.6" width="1.2" height="1.2" fill="#fed683"/><rect x="484.8" y="509.6" width="1.2" height="1.2" fill="#fca85e"/><rect x="486.2" y="509.6" width="1.2" height="1.2" fill="#fca65d"/><rect x="487.6" y="509.6" width="1.2" height="1.2" fill="#f88b51"/><rect x="489.0" y="509.6" width="1.2" height="1.2" fill="#fdbb6c"/><rect x="447.0" y="511.0" width="1.2" height="1.2" fill="#fa9857"/><rect x="448.4" y="511.0" width="1.2" height="1.2" fill="#fec977"/><rect x="449.8" y="511.0" width="1.2" height="1.2" fill="#f7844e"/><rect x="451.2" y="511.0" width="1.2" height="1.2" fill="#fdb062"/><rect x="452.6" y="511.0" width="1.2" height="1.2" fill="#fdbf6f"/><rect x="454.0" y="511.0" width="1.2" height="1.2" fill="#fca85e"/><rect x="455.4" y="511.0" width="1.2" height="1.2" fill="#f57547"/><rect x="456.8" y="511.0" width="1.2" height="1.2" fill="#fdc373"/><rect x="458.2" y="511.0" width="1.2" height="1.2" fill="#fecd7b"/><rect x="459.6" y="511.0" width="1.2" height="1.2" fill="#fec776"/><rect x="461.0" y="511.0" width="1.2" height="1.2" fill="#fecb79"/><rect x="462.4" y="511.0" width="1.2" height="1.2" fill="#fdaf62"/><rect x="463.8" y="511.0" width="1.2" height="1.2" fill="#fba35c"/><rect x="465.2" y="511.0" width="1.2" height="1.2" fill="#fdb264"/><rect x="466.6" y="511.0" width="1.2" height="1.2" fill="#fca85e"/><rect x="468.0" y="511.0" width="1.2" height="1.2" fill="#f8874f"/><rect x="469.4" y="511.0" width="1.2" height="1.2" fill="#fdb567"/><rect x="470.8" y="511.0" width="1.2" height="1.2" fill="#fecd7b"/><rect x="472.2" y="511.0" width="1.2" height="1.2" fill="#fee492"/><rect x="473.6" y="511.0" width="1.2" height="1.2" fill="#fca65d"/><rect x="475.0" y="511.0" width="1.2" height="1.2" fill="#fdbf6f"/><rect x="476.4" y="511.0" width="1.2" height="1.2" fill="#fdb466"/><rect x="477.8" y="511.0" width="1.2" height="1.2" fill="#fba15b"/><rect x="479.2" y="511.0" width="1.2" height="1.2" fill="#fb9f5a"/><rect x="480.6" y="511.0" width="1.2" height="1.2" fill="#fed582"/><rect x="482.0" y="511.0" width="1.2" height="1.2" fill="#fdc675"/><rect x="483.4" y="511.0" width="1.2" height="1.2" fill="#fdac60"/><rect x="484.8" y="511.0" width="1.2" height="1.2" fill="#fdb264"/><rect x="486.2" y="511.0" width="1.2" height="1.2" fill="#f88950"/><rect x="487.6" y="511.0" width="1.2" height="1.2" fill="#fdbb6c"/><rect x="489.0" y="511.0" width="1.2" height="1.2" fill="#fee18d"/><rect x="447.0" y="512.4" width="1.2" height="1.2" fill="#fed27f"/><rect x="448.4" y="512.4" width="1.2" height="1.2" fill="#fcfeba"/><rect x="449.8" y="512.4" width="1.2" height="1.2" fill="#fff8b4"/><rect x="451.2" y="512.4" width="1.2" height="1.2" fill="#fee390"/><rect x="452.6" y="512.4" width="1.2" height="1.2" fill="#fffab6"/><rect x="454.0" y="512.4" width="1.2" height="1.2" fill="#fdb163"/><rect x="455.4" y="512.4" width="1.2" height="1.2" fill="#fee694"/><rect x="456.8" y="512.4" width="1.2" height="1.2" fill="#fee18d"/><rect x="458.2" y="512.4" width="1.2" height="1.2" fill="#fff0a6"/><rect x="459.6" y="512.4" width="1.2" height="1.2" fill="#fdb869"/><rect x="461.0" y="512.4" width="1.2" height="1.2" fill="#fee18d"/><rect x="462.4" y="512.4" width="1.2" height="1.2" fill="#fff4ad"/><rect x="463.8" y="512.4" width="1.2" height="1.2" fill="#fed07d"/><rect x="465.2" y="512.4" width="1.2" height="1.2" fill="#fbfeb9"/><rect x="466.6" y="512.4" width="1.2" height="1.2" fill="#fff2aa"/><rect x="468.0" y="512.4" width="1.2" height="1.2" fill="#fee593"/><rect x="469.4" y="512.4" width="1.2" height="1.2" fill="#fee797"/><rect x="470.8" y="512.4" width="1.2" height="1.2" fill="#fff8b4"/><rect x="472.2" y="512.4" width="1.2" height="1.2" fill="#fec776"/><rect x="473.6" y="512.4" width="1.2" height="1.2" fill="#feca79"/><rect x="475.0" y="512.4" width="1.2" height="1.2" fill="#fff8b3"/><rect x="476.4" y="512.4" width="1.2" height="1.2" fill="#fee491"/><rect x="477.8" y="512.4" width="1.2" height="1.2" fill="#fff3ab"/><rect x="479.2" y="512.4" width="1.2" height="1.2" fill="#fff0a6"/><rect x="480.6" y="512.4" width="1.2" height="1.2" fill="#fed683"/><rect x="482.0" y="512.4" width="1.2" height="1.2" fill="#fee797"/><rect x="483.4" y="512.4" width="1.2" height="1.2" fill="#feeb9d"/><rect x="484.8" y="512.4" width="1.2" height="1.2" fill="#fee898"/><rect x="486.2" y="512.4" width="1.2" height="1.2" fill="#fffbb9"/><rect x="487.6" y="512.4" width="1.2" height="1.2" fill="#fed07e"/><rect x="489.0" y="512.4" width="1.2" height="1.2" fill="#fff5ae"/><rect x="447.0" y="513.8" width="1.2" height="1.2" fill="#fece7c"/><rect x="448.4" y="513.8" width="1.2" height="1.2" fill="#fff0a7"/><rect x="449.8" y="513.8" width="1.2" height="1.2" fill="#fff0a6"/><rect x="451.2" y="513.8" width="1.2" height="1.2" fill="#feca78"/><rect x="452.6" y="513.8" width="1.2" height="1.2" fill="#fee696"/><rect x="454.0" y="513.8" width="1.2" height="1.2" fill="#fff3ab"/><rect x="455.4" y="513.8" width="1.2" height="1.2" fill="#fff2a9"/><rect x="456.8" y="513.8" width="1.2" height="1.2" fill="#fee08b"/><rect x="458.2" y="513.8" width="1.2" height="1.2" fill="#fdc070"/><rect x="459.6" y="513.8" width="1.2" height="1.2" fill="#fee08b"/><rect x="461.0" y="513.8" width="1.2" height="1.2" fill="#feefa5"/><rect x="462.4" y="513.8" width="1.2" height="1.2" fill="#fffbb8"/><rect x="463.8" y="513.8" width="1.2" height="1.2" fill="#fff4ac"/><rect x="465.2" y="513.8" width="1.2" height="1.2" fill="#feeb9e"/><rect x="466.6" y="513.8" width="1.2" height="1.2" fill="#fee694"/><rect x="468.0" y="513.8" width="1.2" height="1.2" fill="#fff3ac"/><rect x="469.4" y="513.8" width="1.2" height="1.2" fill="#fecf7d"/><rect x="470.8" y="513.8" width="1.2" height="1.2" fill="#fff8b3"/><rect x="472.2" y="513.8" width="1.2" height="1.2" fill="#fff4ad"/><rect x="473.6" y="513.8" width="1.2" height="1.2" fill="#fee28e"/><rect x="475.0" y="513.8" width="1.2" height="1.2" fill="#fee28e"/><rect x="476.4" y="513.8" width="1.2" height="1.2" fill="#feefa5"/><rect x="477.8" y="513.8" width="1.2" height="1.2" fill="#fed783"/><rect x="479.2" y="513.8" width="1.2" height="1.2" fill="#ffffbf"/><rect x="480.6" y="513.8" width="1.2" height="1.2" fill="#fdc675"/><rect x="482.0" y="513.8" width="1.2" height="1.2" fill="#fdb86a"/><rect x="483.4" y="513.8" width="1.2" height="1.2" fill="#fdbe6f"/><rect x="484.8" y="513.8" width="1.2" height="1.2" fill="#fee798"/><rect x="486.2" y="513.8" width="1.2" height="1.2" fill="#fdbe6e"/><rect x="487.6" y="513.8" width="1.2" height="1.2" fill="#fee899"/><rect x="489.0" y="513.8" width="1.2" height="1.2" fill="#fece7c"/><rect x="447.0" y="515.2" width="1.2" height="1.2" fill="#f0f9a8"/><rect x="448.4" y="515.2" width="1.2" height="1.2" fill="#f5fbaf"/><rect x="449.8" y="515.2" width="1.2" height="1.2" fill="#f9fdb6"/><rect x="451.2" y="515.2" width="1.2" height="1.2" fill="#d0ec9c"/><rect x="452.6" y="515.2" width="1.2" height="1.2" fill="#f0f9a7"/><rect x="454.0" y="515.2" width="1.2" height="1.2" fill="#fff4ac"/><rect x="455.4" y="515.2" width="1.2" height="1.2" fill="#addea4"/><rect x="456.8" y="515.2" width="1.2" height="1.2" fill="#f7fcb3"/><rect x="458.2" y="515.2" width="1.2" height="1.2" fill="#feffbd"/><rect x="459.6" y="515.2" width="1.2" height="1.2" fill="#f7fcb2"/><rect x="461.0" y="515.2" width="1.2" height="1.2" fill="#f5fbaf"/><rect x="462.4" y="515.2" width="1.2" height="1.2" fill="#fff9b5"/><rect x="463.8" y="515.2" width="1.2" height="1.2" fill="#f7fcb2"/><rect x="465.2" y="515.2" width="1.2" height="1.2" fill="#ccea9d"/><rect x="466.6" y="515.2" width="1.2" height="1.2" fill="#e7f599"/><rect x="468.0" y="515.2" width="1.2" height="1.2" fill="#eff9a6"/><rect x="469.4" y="515.2" width="1.2" height="1.2" fill="#f4fbae"/><rect x="470.8" y="515.2" width="1.2" height="1.2" fill="#edf8a3"/><rect x="472.2" y="515.2" width="1.2" height="1.2" fill="#f1f9a9"/><rect x="473.6" y="515.2" width="1.2" height="1.2" fill="#fff5ae"/><rect x="475.0" y="515.2" width="1.2" height="1.2" fill="#addea4"/><rect x="476.4" y="515.2" width="1.2" height="1.2" fill="#fffdbb"/><rect x="477.8" y="515.2" width="1.2" height="1.2" fill="#feffbe"/><rect x="479.2" y="515.2" width="1.2" height="1.2" fill="#fafdb7"/><rect x="480.6" y="515.2" width="1.2" height="1.2" fill="#f3faac"/><rect x="482.0" y="515.2" width="1.2" height="1.2" fill="#f3faad"/><rect x="483.4" y="515.2" width="1.2" height="1.2" fill="#f7fcb3"/><rect x="484.8" y="515.2" width="1.2" height="1.2" fill="#f6fbb0"/><rect x="486.2" y="515.2" width="1.2" height="1.2" fill="#e9f69d"/><rect x="487.6" y="515.2" width="1.2" height="1.2" fill="#fcfebb"/><rect x="489.0" y="515.2" width="1.2" height="1.2" fill="#e8f69b"/><rect x="447.0" y="516.6" width="1.2" height="1.2" fill="#aadca4"/><rect x="448.4" y="516.6" width="1.2" height="1.2" fill="#9fd8a4"/><rect x="449.8" y="516.6" width="1.2" height="1.2" fill="#83cda5"/><rect x="451.2" y="516.6" width="1.2" height="1.2" fill="#bde4a0"/><rect x="452.6" y="516.6" width="1.2" height="1.2" fill="#a9dca4"/><rect x="454.0" y="516.6" width="1.2" height="1.2" fill="#83cda5"/><rect x="455.4" y="516.6" width="1.2" height="1.2" fill="#a8dca4"/><rect x="456.8" y="516.6" width="1.2" height="1.2" fill="#7bcaa5"/><rect x="458.2" y="516.6" width="1.2" height="1.2" fill="#d5ee9b"/><rect x="459.6" y="516.6" width="1.2" height="1.2" fill="#bae3a1"/><rect x="461.0" y="516.6" width="1.2" height="1.2" fill="#e6f598"/><rect x="462.4" y="516.6" width="1.2" height="1.2" fill="#97d5a4"/><rect x="463.8" y="516.6" width="1.2" height="1.2" fill="#c0e5a0"/><rect x="465.2" y="516.6" width="1.2" height="1.2" fill="#8ad0a4"/><rect x="466.6" y="516.6" width="1.2" height="1.2" fill="#8ed2a4"/><rect x="468.0" y="516.6" width="1.2" height="1.2" fill="#a8dca4"/><rect x="469.4" y="516.6" width="1.2" height="1.2" fill="#b7e2a2"/><rect x="470.8" y="516.6" width="1.2" height="1.2" fill="#c6e89e"/><rect x="472.2" y="516.6" width="1.2" height="1.2" fill="#a2d9a4"/><rect x="473.6" y="516.6" width="1.2" height="1.2" fill="#cbea9d"/><rect x="475.0" y="516.6" width="1.2" height="1.2" fill="#c7e99e"/><rect x="476.4" y="516.6" width="1.2" height="1.2" fill="#8dd1a4"/><rect x="477.8" y="516.6" width="1.2" height="1.2" fill="#a5dba4"/><rect x="479.2" y="516.6" width="1.2" height="1.2" fill="#8bd1a4"/><rect x="480.6" y="516.6" width="1.2" height="1.2" fill="#ddf19a"/><rect x="482.0" y="516.6" width="1.2" height="1.2" fill="#98d6a4"/><rect x="483.4" y="516.6" width="1.2" height="1.2" fill="#c5e89f"/><rect x="484.8" y="516.6" width="1.2" height="1.2" fill="#c6e89f"/><rect x="486.2" y="516.6" width="1.2" height="1.2" fill="#a2daa4"/><rect x="487.6" y="516.6" width="1.2" height="1.2" fill="#9ad6a4"/><rect x="489.0" y="516.6" width="1.2" height="1.2" fill="#b5e1a2"/><rect x="447.0" y="518.0" width="1.2" height="1.2" fill="#52acae"/><rect x="448.4" y="518.0" width="1.2" height="1.2" fill="#459db4"/><rect x="449.8" y="518.0" width="1.2" height="1.2" fill="#4da6b1"/><rect x="451.2" y="518.0" width="1.2" height="1.2" fill="#72c7a5"/><rect x="452.6" y="518.0" width="1.2" height="1.2" fill="#6dc5a5"/><rect x="454.0" y="518.0" width="1.2" height="1.2" fill="#a3daa4"/><rect x="455.4" y="518.0" width="1.2" height="1.2" fill="#378dbb"/><rect x="456.8" y="518.0" width="1.2" height="1.2" fill="#77c9a5"/><rect x="458.2" y="518.0" width="1.2" height="1.2" fill="#48a1b3"/><rect x="459.6" y="518.0" width="1.2" height="1.2" fill="#8ed2a4"/><rect x="461.0" y="518.0" width="1.2" height="1.2" fill="#7ecba5"/><rect x="462.4" y="518.0" width="1.2" height="1.2" fill="#6ac4a5"/><rect x="463.8" y="518.0" width="1.2" height="1.2" fill="#99d6a4"/><rect x="465.2" y="518.0" width="1.2" height="1.2" fill="#5cb7a9"/><rect x="466.6" y="518.0" width="1.2" height="1.2" fill="#58b3ab"/><rect x="468.0" y="518.0" width="1.2" height="1.2" fill="#4ba4b2"/><rect x="469.4" y="518.0" width="1.2" height="1.2" fill="#55afad"/><rect x="470.8" y="518.0" width="1.2" height="1.2" fill="#6ac4a5"/><rect x="472.2" y="518.0" width="1.2" height="1.2" fill="#7dcba5"/><rect x="473.6" y="518.0" width="1.2" height="1.2" fill="#92d3a4"/><rect x="475.0" y="518.0" width="1.2" height="1.2" fill="#5fbaa8"/><rect x="476.4" y="518.0" width="1.2" height="1.2" fill="#53adae"/><rect x="477.8" y="518.0" width="1.2" height="1.2" fill="#5db8a9"/><rect x="479.2" y="518.0" width="1.2" height="1.2" fill="#5bb6aa"/><rect x="480.6" y="518.0" width="1.2" height="1.2" fill="#5ab5ab"/><rect x="482.0" y="518.0" width="1.2" height="1.2" fill="#5cb6aa"/><rect x="483.4" y="518.0" width="1.2" height="1.2" fill="#4fa9af"/><rect x="484.8" y="518.0" width="1.2" height="1.2" fill="#65c0a6"/><rect x="486.2" y="518.0" width="1.2" height="1.2" fill="#59b3ab"/><rect x="487.6" y="518.0" width="1.2" height="1.2" fill="#62bda7"/><rect x="489.0" y="518.0" width="1.2" height="1.2" fill="#429ab6"/><rect x="447.0" y="519.4" width="1.2" height="1.2" fill="#6bc4a5"/><rect x="448.4" y="519.4" width="1.2" height="1.2" fill="#7acaa5"/><rect x="449.8" y="519.4" width="1.2" height="1.2" fill="#7ccba5"/><rect x="451.2" y="519.4" width="1.2" height="1.2" fill="#58b2ac"/><rect x="452.6" y="519.4" width="1.2" height="1.2" fill="#49a1b3"/><rect x="454.0" y="519.4" width="1.2" height="1.2" fill="#449db5"/><rect x="455.4" y="519.4" width="1.2" height="1.2" fill="#48a0b3"/><rect x="456.8" y="519.4" width="1.2" height="1.2" fill="#55afad"/><rect x="458.2" y="519.4" width="1.2" height="1.2" fill="#5eb9a9"/><rect x="459.6" y="519.4" width="1.2" height="1.2" fill="#388fba"/><rect x="461.0" y="519.4" width="1.2" height="1.2" fill="#7dcba5"/><rect x="462.4" y="519.4" width="1.2" height="1.2" fill="#3e96b7"/><rect x="463.8" y="519.4" width="1.2" height="1.2" fill="#54aead"/><rect x="465.2" y="519.4" width="1.2" height="1.2" fill="#53adae"/><rect x="466.6" y="519.4" width="1.2" height="1.2" fill="#82cda5"/><rect x="468.0" y="519.4" width="1.2" height="1.2" fill="#a5dba4"/><rect x="469.4" y="519.4" width="1.2" height="1.2" fill="#5db8a9"/><rect x="470.8" y="519.4" width="1.2" height="1.2" fill="#5fbaa8"/><rect x="472.2" y="519.4" width="1.2" height="1.2" fill="#5cb7aa"/><rect x="473.6" y="519.4" width="1.2" height="1.2" fill="#61bca7"/><rect x="475.0" y="519.4" width="1.2" height="1.2" fill="#62bda7"/><rect x="476.4" y="519.4" width="1.2" height="1.2" fill="#b8e2a1"/><rect x="477.8" y="519.4" width="1.2" height="1.2" fill="#4aa3b2"/><rect x="479.2" y="519.4" width="1.2" height="1.2" fill="#63bfa6"/><rect x="480.6" y="519.4" width="1.2" height="1.2" fill="#52abae"/><rect x="482.0" y="519.4" width="1.2" height="1.2" fill="#72c7a5"/><rect x="483.4" y="519.4" width="1.2" height="1.2" fill="#59b3ab"/><rect x="484.8" y="519.4" width="1.2" height="1.2" fill="#7acaa5"/><rect x="486.2" y="519.4" width="1.2" height="1.2" fill="#4aa3b2"/><rect x="487.6" y="519.4" width="1.2" height="1.2" fill="#aedea3"/><rect x="489.0" y="519.4" width="1.2" height="1.2" fill="#6dc5a5"/><rect x="447.0" y="520.8" width="1.2" height="1.2" fill="#388fba"/><rect x="448.4" y="520.8" width="1.2" height="1.2" fill="#7ecba5"/><rect x="449.8" y="520.8" width="1.2" height="1.2" fill="#5ab5ab"/><rect x="451.2" y="520.8" width="1.2" height="1.2" fill="#48a1b3"/><rect x="452.6" y="520.8" width="1.2" height="1.2" fill="#75c8a5"/><rect x="454.0" y="520.8" width="1.2" height="1.2" fill="#59b3ab"/><rect x="455.4" y="520.8" width="1.2" height="1.2" fill="#7fcca5"/><rect x="456.8" y="520.8" width="1.2" height="1.2" fill="#58b2ab"/><rect x="458.2" y="520.8" width="1.2" height="1.2" fill="#85cea5"/><rect x="459.6" y="520.8" width="1.2" height="1.2" fill="#6bc4a5"/><rect x="461.0" y="520.8" width="1.2" height="1.2" fill="#72c7a5"/><rect x="462.4" y="520.8" width="1.2" height="1.2" fill="#6bc4a5"/><rect x="463.8" y="520.8" width="1.2" height="1.2" fill="#5db8a9"/><rect x="465.2" y="520.8" width="1.2" height="1.2" fill="#5db8a9"/><rect x="466.6" y="520.8" width="1.2" height="1.2" fill="#75c8a5"/><rect x="468.0" y="520.8" width="1.2" height="1.2" fill="#7ecba5"/><rect x="469.4" y="520.8" width="1.2" height="1.2" fill="#5cb6aa"/><rect x="470.8" y="520.8" width="1.2" height="1.2" fill="#b1e0a3"/><rect x="472.2" y="520.8" width="1.2" height="1.2" fill="#a0d9a4"/><rect x="473.6" y="520.8" width="1.2" height="1.2" fill="#49a1b3"/><rect x="475.0" y="520.8" width="1.2" height="1.2" fill="#8bd1a4"/><rect x="476.4" y="520.8" width="1.2" height="1.2" fill="#64c0a6"/><rect x="477.8" y="520.8" width="1.2" height="1.2" fill="#6ec5a5"/><rect x="479.2" y="520.8" width="1.2" height="1.2" fill="#52abae"/><rect x="480.6" y="520.8" width="1.2" height="1.2" fill="#9ed8a4"/><rect x="482.0" y="520.8" width="1.2" height="1.2" fill="#51aaaf"/><rect x="483.4" y="520.8" width="1.2" height="1.2" fill="#64c0a6"/><rect x="484.8" y="520.8" width="1.2" height="1.2" fill="#53adae"/><rect x="486.2" y="520.8" width="1.2" height="1.2" fill="#a8dca4"/><rect x="487.6" y="520.8" width="1.2" height="1.2" fill="#91d3a4"/><rect x="489.0" y="520.8" width="1.2" height="1.2" fill="#449cb5"/><rect x="447.0" y="522.2" width="1.2" height="1.2" fill="#5ab5aa"/><rect x="448.4" y="522.2" width="1.2" height="1.2" fill="#72c7a5"/><rect x="449.8" y="522.2" width="1.2" height="1.2" fill="#5bb6aa"/><rect x="451.2" y="522.2" width="1.2" height="1.2" fill="#5db8a9"/><rect x="452.6" y="522.2" width="1.2" height="1.2" fill="#4aa3b2"/><rect x="454.0" y="522.2" width="1.2" height="1.2" fill="#6fc5a5"/><rect x="455.4" y="522.2" width="1.2" height="1.2" fill="#4aa3b2"/><rect x="456.8" y="522.2" width="1.2" height="1.2" fill="#82cda5"/><rect x="458.2" y="522.2" width="1.2" height="1.2" fill="#b6e1a2"/><rect x="459.6" y="522.2" width="1.2" height="1.2" fill="#5eb9a9"/><rect x="461.0" y="522.2" width="1.2" height="1.2" fill="#9ed8a4"/><rect x="462.4" y="522.2" width="1.2" height="1.2" fill="#73c7a5"/><rect x="463.8" y="522.2" width="1.2" height="1.2" fill="#55afad"/><rect x="465.2" y="522.2" width="1.2" height="1.2" fill="#5db8a9"/><rect x="466.6" y="522.2" width="1.2" height="1.2" fill="#4da7b0"/><rect x="468.0" y="522.2" width="1.2" height="1.2" fill="#6ac4a5"/><rect x="469.4" y="522.2" width="1.2" height="1.2" fill="#7ecba5"/><rect x="470.8" y="522.2" width="1.2" height="1.2" fill="#86cea5"/><rect x="472.2" y="522.2" width="1.2" height="1.2" fill="#5fbaa8"/><rect x="473.6" y="522.2" width="1.2" height="1.2" fill="#47a0b3"/><rect x="475.0" y="522.2" width="1.2" height="1.2" fill="#64c0a6"/><rect x="476.4" y="522.2" width="1.2" height="1.2" fill="#9fd8a4"/><rect x="477.8" y="522.2" width="1.2" height="1.2" fill="#70c6a5"/><rect x="479.2" y="522.2" width="1.2" height="1.2" fill="#64c0a6"/><rect x="480.6" y="522.2" width="1.2" height="1.2" fill="#3387bc"/><rect x="482.0" y="522.2" width="1.2" height="1.2" fill="#5bb6aa"/><rect x="483.4" y="522.2" width="1.2" height="1.2" fill="#79c9a5"/><rect x="484.8" y="522.2" width="1.2" height="1.2" fill="#4ea7b0"/><rect x="486.2" y="522.2" width="1.2" height="1.2" fill="#94d4a4"/><rect x="487.6" y="522.2" width="1.2" height="1.2" fill="#57b2ac"/><rect x="489.0" y="522.2" width="1.2" height="1.2" fill="#50a9af"/><rect x="447.0" y="523.6" width="1.2" height="1.2" fill="#57b1ac"/><rect x="448.4" y="523.6" width="1.2" height="1.2" fill="#64bfa6"/><rect x="449.8" y="523.6" width="1.2" height="1.2" fill="#88cfa5"/><rect x="451.2" y="523.6" width="1.2" height="1.2" fill="#58b2ac"/><rect x="452.6" y="523.6" width="1.2" height="1.2" fill="#388fba"/><rect x="454.0" y="523.6" width="1.2" height="1.2" fill="#64c0a6"/><rect x="455.4" y="523.6" width="1.2" height="1.2" fill="#78c9a5"/><rect x="456.8" y="523.6" width="1.2" height="1.2" fill="#9ad6a4"/><rect x="458.2" y="523.6" width="1.2" height="1.2" fill="#49a2b2"/><rect x="459.6" y="523.6" width="1.2" height="1.2" fill="#98d6a4"/><rect x="461.0" y="523.6" width="1.2" height="1.2" fill="#7dcba5"/><rect x="462.4" y="523.6" width="1.2" height="1.2" fill="#75c8a5"/><rect x="463.8" y="523.6" width="1.2" height="1.2" fill="#52acae"/><rect x="465.2" y="523.6" width="1.2" height="1.2" fill="#50a9af"/><rect x="466.6" y="523.6" width="1.2" height="1.2" fill="#4ea7b0"/><rect x="468.0" y="523.6" width="1.2" height="1.2" fill="#86cea5"/><rect x="469.4" y="523.6" width="1.2" height="1.2" fill="#6dc5a5"/><rect x="470.8" y="523.6" width="1.2" height="1.2" fill="#8ad0a4"/><rect x="472.2" y="523.6" width="1.2" height="1.2" fill="#a4daa4"/><rect x="473.6" y="523.6" width="1.2" height="1.2" fill="#67c2a5"/><rect x="475.0" y="523.6" width="1.2" height="1.2" fill="#65c1a6"/><rect x="476.4" y="523.6" width="1.2" height="1.2" fill="#a7dba4"/><rect x="477.8" y="523.6" width="1.2" height="1.2" fill="#459db4"/><rect x="479.2" y="523.6" width="1.2" height="1.2" fill="#5bb5aa"/><rect x="480.6" y="523.6" width="1.2" height="1.2" fill="#5db7a9"/><rect x="482.0" y="523.6" width="1.2" height="1.2" fill="#5cb7a9"/><rect x="483.4" y="523.6" width="1.2" height="1.2" fill="#6bc4a5"/><rect x="484.8" y="523.6" width="1.2" height="1.2" fill="#51aaaf"/><rect x="486.2" y="523.6" width="1.2" height="1.2" fill="#8dd1a4"/><rect x="487.6" y="523.6" width="1.2" height="1.2" fill="#439bb5"/><rect x="489.0" y="523.6" width="1.2" height="1.2" fill="#51abaf"/><rect x="447.0" y="525.0" width="1.2" height="1.2" fill="#3b92b9"/><rect x="448.4" y="525.0" width="1.2" height="1.2" fill="#429ab6"/><rect x="449.8" y="525.0" width="1.2" height="1.2" fill="#7acaa5"/><rect x="451.2" y="525.0" width="1.2" height="1.2" fill="#7bcaa5"/><rect x="452.6" y="525.0" width="1.2" height="1.2" fill="#61bda7"/><rect x="454.0" y="525.0" width="1.2" height="1.2" fill="#83cda5"/><rect x="455.4" y="525.0" width="1.2" height="1.2" fill="#7bcaa5"/><rect x="456.8" y="525.0" width="1.2" height="1.2" fill="#57b2ac"/><rect x="458.2" y="525.0" width="1.2" height="1.2" fill="#65c1a5"/><rect x="459.6" y="525.0" width="1.2" height="1.2" fill="#72c7a5"/><rect x="461.0" y="525.0" width="1.2" height="1.2" fill="#aadda4"/><rect x="462.4" y="525.0" width="1.2" height="1.2" fill="#5bb5aa"/><rect x="463.8" y="525.0" width="1.2" height="1.2" fill="#73c7a5"/><rect x="465.2" y="525.0" width="1.2" height="1.2" fill="#79c9a5"/><rect x="466.6" y="525.0" width="1.2" height="1.2" fill="#8fd2a4"/><rect x="468.0" y="525.0" width="1.2" height="1.2" fill="#74c8a5"/><rect x="469.4" y="525.0" width="1.2" height="1.2" fill="#8ad0a4"/><rect x="470.8" y="525.0" width="1.2" height="1.2" fill="#4ba4b2"/><rect x="472.2" y="525.0" width="1.2" height="1.2" fill="#5fbba8"/><rect x="473.6" y="525.0" width="1.2" height="1.2" fill="#358bbc"/><rect x="475.0" y="525.0" width="1.2" height="1.2" fill="#65c1a6"/><rect x="476.4" y="525.0" width="1.2" height="1.2" fill="#b4e1a2"/><rect x="477.8" y="525.0" width="1.2" height="1.2" fill="#6ec5a5"/><rect x="479.2" y="525.0" width="1.2" height="1.2" fill="#69c3a5"/><rect x="480.6" y="525.0" width="1.2" height="1.2" fill="#6fc6a5"/><rect x="482.0" y="525.0" width="1.2" height="1.2" fill="#6bc4a5"/><rect x="483.4" y="525.0" width="1.2" height="1.2" fill="#449db4"/><rect x="484.8" y="525.0" width="1.2" height="1.2" fill="#54aead"/><rect x="486.2" y="525.0" width="1.2" height="1.2" fill="#62bda7"/><rect x="487.6" y="525.0" width="1.2" height="1.2" fill="#6cc4a5"/><rect x="489.0" y="525.0" width="1.2" height="1.2" fill="#50aaaf"/></g>
<path d="M461.2 492.6 C464.5 492 469.5 493.5 469.8 496.8 C470 499.8 467 501.8 463.8 501.6 C461 501.4 459.8 499.5 459.8 497 C459.8 495 460 493.4 461.2 492.6 Z" fill="#fff" stroke="#45a9a6" stroke-width="0.9"/>
<defs><linearGradient id="spec" x1="0" y1="0" x2="0" y2="1">
<stop offset="0" stop-color="#9e0142"/><stop offset="0.1" stop-color="#d53e4f"/><stop offset="0.2" stop-color="#f46d43"/>
<stop offset="0.3" stop-color="#fdae61"/><stop offset="0.4" stop-color="#fee08b"/><stop offset="0.5" stop-color="#ffffbf"/>
<stop offset="0.6" stop-color="#e6f598"/><stop offset="0.7" stop-color="#abdda4"/><stop offset="0.8" stop-color="#66c2a5"/>
<stop offset="0.9" stop-color="#3288bd"/><stop offset="1" stop-color="#5e4fa2"/></linearGradient></defs>
<rect x="492.8" y="484.6" width="5.0" height="31.0" fill="url(#spec)"/>
<text x="500.80" y="489.70" font-size="5.9" fill="#444" textLength="10.00" lengthAdjust="spacingAndGlyphs"  stroke="#444" stroke-width="0.16">1.00</text>
<text x="500.80" y="496.10" font-size="5.9" fill="#444" textLength="10.00" lengthAdjust="spacingAndGlyphs"  stroke="#444" stroke-width="0.16">0.75</text>
<text x="500.80" y="502.50" font-size="5.9" fill="#444" textLength="10.00" lengthAdjust="spacingAndGlyphs"  stroke="#444" stroke-width="0.16">0.50</text>
<text x="500.80" y="508.90" font-size="5.9" fill="#444" textLength="10.00" lengthAdjust="spacingAndGlyphs"  stroke="#444" stroke-width="0.16">0.25</text>
<text x="500.80" y="515.30" font-size="5.9" fill="#444" textLength="10.00" lengthAdjust="spacingAndGlyphs"  stroke="#444" stroke-width="0.16">0.00</text>
<rect x="0.5" y="0.5" width="519" height="568" fill="none" stroke="#555" stroke-width="1"/>
</svg></body></html>
